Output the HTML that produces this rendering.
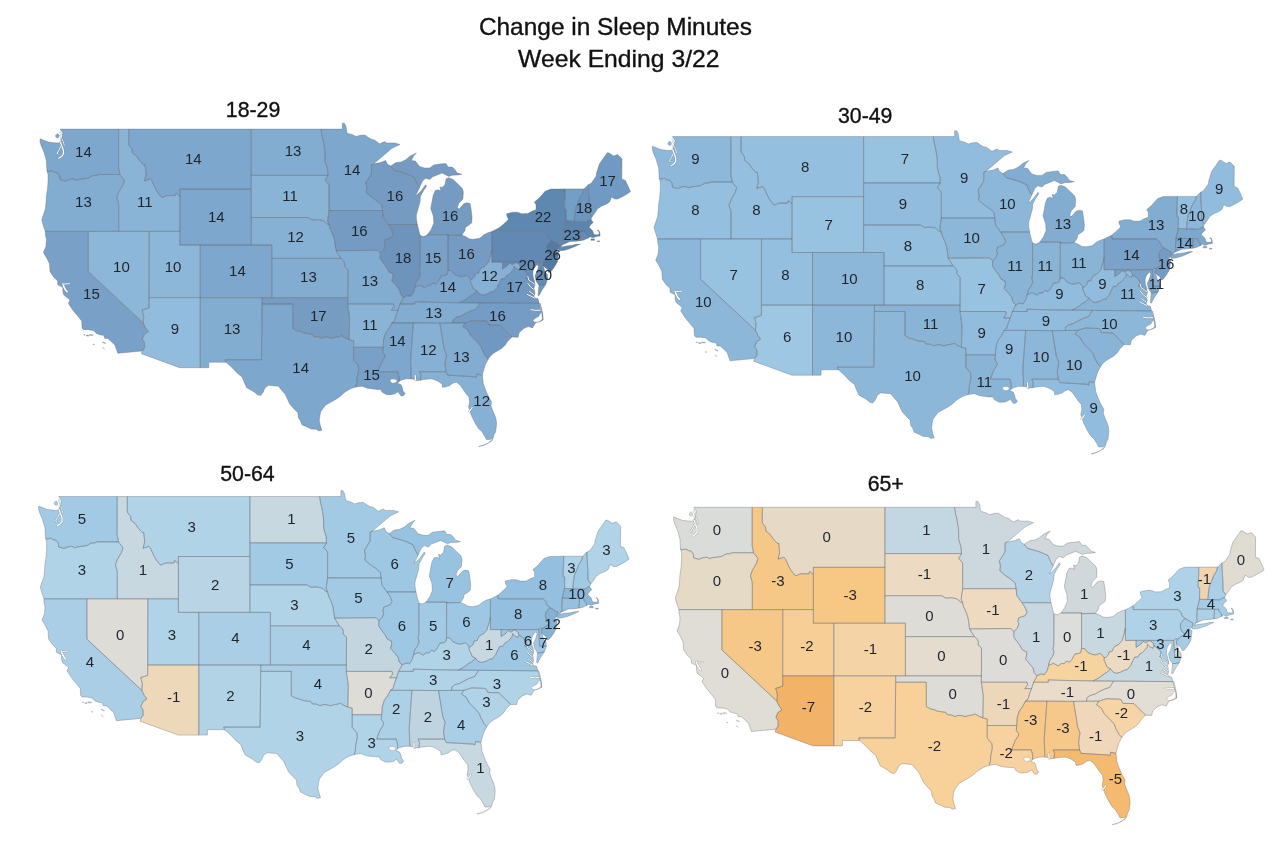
<!DOCTYPE html>
<html><head><meta charset="utf-8"><style>
html,body{margin:0;padding:0;background:#fff;width:1280px;height:852px;overflow:hidden}
svg{display:block;filter:blur(0.4px)}
.lab text{font-family:"Liberation Sans",sans-serif;font-size:15px;fill:#1e242b;text-anchor:middle}
.t{font-family:"Liberation Sans",sans-serif;fill:#111;text-anchor:middle;stroke:#111;stroke-width:0.35px}
</style></head><body>
<svg width="1280" height="852" viewBox="0 0 1280 852">
<text class="t" x="615.4" y="34.6" font-size="24.2" textLength="273" lengthAdjust="spacingAndGlyphs">Change in Sleep Minutes</text>
<text class="t" x="618.8" y="67.3" font-size="24" textLength="201.5" lengthAdjust="spacingAndGlyphs">Week Ending 3/22</text>
<text class="t" x="253.05" y="116.8" font-size="21.3">18-29</text>
<text class="t" x="865.2" y="122.6" font-size="21.3">30-49</text>
<text class="t" x="247.45" y="481" font-size="21.3">50-64</text>
<text class="t" x="885.7" y="491.4" font-size="21.3">65+</text>

<g class="lab">
<path d="M60.1,129.1 118.6,129.1 118.6,168.3 119.5,171.6 119.8,174.5 98.8,174.5 96.0,175.5 92.4,175.7 88.3,178.2 83.2,178.9 78.1,179.6 76.1,180.4 73.0,178.9 68.9,179.6 65.3,181.1 60.2,179.6 59.7,176.0 57.7,173.0 54.6,172.3 52.1,170.8 48.5,171.6 46.9,170.7 46.6,165.6 46.4,161.1 45.9,158.9 43.9,152.1 41.3,146.1 40.0,141.9 40.1,138.7 44.4,140.4 48.5,142.1 53.6,142.7 56.7,143.0 60.2,142.7 61.8,138.4 62.8,133.0 60.1,129.1Z" fill="#7da7cc"/>
<path d="M46.9,170.7 48.5,171.6 52.1,170.8 54.6,172.3 57.7,173.0 59.7,176.0 60.2,179.6 65.3,181.1 68.9,179.6 73.0,178.9 76.1,180.4 78.1,179.6 83.2,178.9 88.3,178.2 92.4,175.7 96.0,175.5 98.8,174.5 119.8,174.5 121.6,176.7 124.3,180.1 123.1,184.7 120.5,189.1 118.5,192.7 116.8,197.7 118.5,203.4 118.7,206.2 118.7,231.4 88.3,231.4 45.3,231.4 43.2,225.2 41.7,219.7 43.4,214.7 45.4,209.1 45.9,203.4 46.4,196.3 47.5,189.1 48.0,181.8 48.0,174.5 46.9,170.7Z" fill="#82acd0"/>
<path d="M45.3,231.4 88.3,231.4 88.3,271.7 143.2,322.9 145.6,327.9 148.3,331.6 144.5,334.1 142.3,339.0 144.5,342.7 144.5,347.9 142.3,351.0 117.8,353.3 116.4,349.4 114.9,345.1 109.8,340.2 107.8,338.5 104.7,338.4 103.7,335.3 100.6,335.1 96.5,333.5 93.4,330.6 88.3,329.7 83.5,329.7 82.0,327.9 81.7,321.0 78.1,316.6 73.0,310.4 68.4,303.4 69.9,300.2 67.9,298.3 63.8,295.1 62.8,291.2 62.8,287.3 57.7,284.8 57.7,280.9 53.6,276.9 50.0,271.7 49.5,263.8 46.9,258.4 43.4,252.6 45.9,246.4 46.4,239.6 45.4,234.8 45.3,231.4Z" fill="#79a1c8"/>
<path d="M88.3,231.4 118.7,231.4 149.2,231.4 149.1,297.6 149.1,307.9 145.6,309.1 142.1,310.1 142.7,312.2 143.8,316.6 143.2,322.9 88.3,271.7 88.3,231.4Z" fill="#8db7d9"/>
<path d="M119.8,174.5 119.5,171.6 118.6,168.3 118.6,129.1 128.7,129.1 128.7,144.8 132.1,149.1 132.3,152.9 136.4,155.9 139.4,160.4 143.7,165.2 145.1,164.9 146.1,174.5 144.5,180.9 150.2,179.0 151.7,180.4 155.3,188.4 157.3,192.0 161.9,197.7 167.0,195.6 175.2,195.6 176.2,193.0 179.8,196.6 179.8,231.4 149.2,231.4 118.7,231.4 118.7,206.2 118.5,203.4 116.8,197.7 118.5,192.7 120.5,189.1 123.1,184.7 124.3,180.1 121.6,176.7 119.8,174.5Z" fill="#8ab4d6"/>
<path d="M128.7,129.1 251.3,129.1 251.3,175.4 251.3,189.1 179.8,189.1 179.8,196.6 176.2,193.0 175.2,195.6 167.0,195.6 161.9,197.7 157.3,192.0 155.3,188.4 151.7,180.4 150.2,179.0 144.5,180.9 146.1,174.5 145.1,164.9 143.7,165.2 139.4,160.4 136.4,155.9 132.3,152.9 132.1,149.1 128.7,144.8 128.7,129.1Z" fill="#7da7cc"/>
<path d="M179.8,196.6 179.8,189.1 251.3,189.1 251.3,217.5 251.3,245.0 200.2,245.0 179.8,245.0 179.8,231.4 179.8,196.6Z" fill="#7da7cc"/>
<path d="M149.2,231.4 179.8,231.4 179.8,245.0 200.2,245.0 200.2,297.6 149.1,297.6 149.2,231.4Z" fill="#8db7d9"/>
<path d="M149.1,297.6 200.2,297.6 200.2,367.7 179.6,367.7 141.4,353.8 142.3,351.0 144.5,347.9 144.5,342.7 142.3,339.0 144.5,334.1 148.3,331.6 145.6,327.9 143.2,322.9 143.8,316.6 142.7,312.2 142.1,310.1 145.6,309.1 149.1,307.9 149.1,297.6Z" fill="#92bcde"/>
<path d="M200.2,245.0 251.3,245.0 271.8,245.0 271.8,258.4 271.8,297.6 262.1,297.6 200.2,297.6 200.2,245.0Z" fill="#7da7cc"/>
<path d="M200.2,297.6 262.1,297.6 262.1,304.0 261.5,359.7 225.1,359.7 226.0,362.3 208.8,362.3 208.8,367.7 200.2,367.7 200.2,297.6Z" fill="#82acd0"/>
<path d="M251.3,129.1 321.0,129.1 321.9,135.3 323.4,141.5 324.9,150.6 325.1,161.1 327.5,169.3 327.9,175.4 251.3,175.4 251.3,129.1Z" fill="#82acd0"/>
<path d="M251.3,175.4 327.9,175.4 325.0,180.4 327.5,182.6 329.0,184.7 329.0,210.5 327.5,221.0 329.0,224.6 327.0,223.8 323.4,220.7 318.3,219.6 312.2,219.9 308.1,217.5 251.3,217.5 251.3,189.1 251.3,175.4Z" fill="#8ab4d6"/>
<path d="M251.3,217.5 308.1,217.5 312.2,219.9 318.3,219.6 323.4,220.7 327.0,223.8 329.0,224.6 330.0,228.6 332.6,234.1 334.4,239.6 335.2,245.0 336.0,250.7 340.7,258.4 271.8,258.4 271.8,245.0 251.3,245.0 251.3,217.5Z" fill="#86b0d4"/>
<path d="M271.8,258.4 340.7,258.4 343.8,261.1 344.9,264.4 344.3,266.4 347.9,269.7 347.8,297.6 271.8,297.6 271.8,258.4Z" fill="#82acd0"/>
<path d="M262.1,297.6 271.8,297.6 347.8,297.6 347.7,304.0 349.7,318.0 349.2,339.7 344.9,337.8 341.8,335.9 338.7,336.8 335.7,337.2 331.6,338.4 327.5,337.2 324.4,337.2 321.4,338.4 318.3,336.8 313.7,336.5 312.2,334.1 307.0,333.5 303.5,332.8 300.9,331.6 296.8,330.6 292.7,328.4 292.7,304.0 262.1,304.0 262.1,297.6Z" fill="#769cc1"/>
<path d="M262.1,304.0 292.7,304.0 292.7,328.4 296.8,330.6 300.9,331.6 303.5,332.8 307.0,333.5 312.2,334.1 313.7,336.5 318.3,336.8 321.4,338.4 324.4,337.2 327.5,337.2 331.6,338.4 335.7,337.2 338.7,336.8 341.8,335.9 344.9,337.8 349.2,339.7 353.6,340.8 353.6,347.3 353.6,359.8 355.9,362.7 358.1,365.1 358.7,369.3 358.1,372.9 357.1,377.6 356.9,382.3 355.7,387.1 350.5,388.8 346.4,391.2 343.8,392.9 340.8,395.9 335.7,399.4 330.6,402.3 325.4,405.2 323.4,408.1 320.8,411.5 319.8,416.1 319.3,420.7 320.3,425.3 321.9,430.3 318.8,431.0 316.2,429.3 311.1,429.0 307.0,427.0 301.9,424.7 300.4,420.7 298.4,417.8 297.8,412.7 294.3,409.2 289.7,404.0 287.6,399.4 285.1,394.1 282.5,391.2 278.4,386.2 272.3,385.7 268.7,385.3 265.1,387.7 263.1,392.3 260.5,395.6 257.5,394.7 253.9,391.8 249.8,389.4 246.7,387.7 244.7,383.5 242.1,377.0 237.6,373.5 231.4,367.0 228.4,364.3 226.0,362.3 225.1,359.7 261.5,359.7 262.1,304.0Z" fill="#7da7cc"/>
<path d="M321.0,129.1 342.3,129.1 342.3,123.2 344.3,123.3 345.9,126.0 346.9,132.2 347.9,133.4 352.0,134.5 356.1,136.5 360.2,135.3 364.8,135.0 368.4,137.6 371.4,139.2 374.5,139.9 379.6,143.8 384.7,141.5 386.8,143.0 394.9,143.0 400.0,144.5 391.9,148.3 384.7,154.4 378.6,159.7 373.5,163.8 371.5,164.7 371.4,173.8 367.3,180.4 365.8,182.6 366.8,187.6 366.3,192.7 371.4,197.0 377.6,201.3 381.7,204.8 382.5,210.5 329.0,210.5 329.0,184.7 327.5,182.6 325.0,180.4 327.9,175.4 327.5,169.3 325.1,161.1 324.9,150.6 323.4,141.5 321.9,135.3 321.0,129.1Z" fill="#7da7cc"/>
<path d="M329.0,210.5 382.5,210.5 383.2,217.5 388.4,224.5 391.9,230.0 393.4,234.1 391.4,237.5 385.2,239.6 384.2,243.0 385.2,245.7 383.7,249.7 380.4,253.4 377.3,250.3 336.0,250.7 335.2,245.0 334.4,239.6 332.6,234.1 330.0,228.6 329.0,224.6 327.5,221.0 329.0,210.5Z" fill="#759bc3"/>
<path d="M336.0,250.7 377.3,250.3 380.4,253.4 380.1,258.4 382.7,262.4 386.3,267.1 388.8,271.7 392.9,273.7 393.1,276.5 391.9,280.9 395.4,284.8 399.5,289.9 400.6,294.4 403.4,297.6 402.1,300.2 400.0,304.0 398.0,310.4 391.2,310.4 394.1,306.6 393.4,304.0 347.7,304.0 347.8,297.6 347.9,269.7 344.3,266.4 344.9,264.4 343.8,261.1 340.7,258.4 336.0,250.7Z" fill="#82acd0"/>
<path d="M347.7,304.0 393.4,304.0 394.1,306.6 391.2,310.4 398.0,310.4 396.0,315.4 394.4,321.0 391.8,322.9 389.3,327.9 385.7,332.8 383.7,339.0 383.1,347.3 353.6,347.3 353.6,340.8 349.2,339.7 349.7,318.0 347.7,304.0Z" fill="#8ab4d6"/>
<path d="M353.6,347.3 383.1,347.3 382.7,352.4 385.2,355.5 384.2,358.5 381.7,362.1 380.6,365.0 379.1,368.7 378.2,371.7 397.7,371.7 399.0,377.0 399.0,381.4 397.5,383.3 401.1,384.7 402.1,387.1 403.1,391.2 405.2,393.5 403.6,395.5 401.1,396.1 398.0,391.8 394.4,394.1 392.9,394.3 390.3,394.7 386.8,394.7 382.2,392.3 380.6,389.4 376.5,389.4 371.4,388.8 367.3,388.2 362.2,386.2 355.7,387.1 356.9,382.3 357.1,377.6 358.1,372.9 358.7,369.3 358.1,365.1 355.9,362.7 353.6,359.8 353.6,347.3Z" fill="#79a1c8"/>
<path d="M382.5,210.5 381.7,204.8 377.6,201.3 371.4,197.0 366.3,192.7 366.8,187.6 365.8,182.6 367.3,180.4 371.4,173.8 371.5,164.7 373.5,163.8 380.6,162.6 385.7,160.4 387.3,164.1 390.6,166.1 393.9,170.1 404.1,173.0 408.2,174.5 414.4,177.4 416.9,183.3 419.5,187.6 417.9,191.2 415.4,195.6 417.9,194.1 421.5,190.5 425.6,184.7 426.6,186.2 423.6,190.5 420.5,196.3 420.0,202.0 418.4,207.7 416.4,214.7 416.4,218.9 417.4,224.5 388.4,224.5 383.2,217.5 382.5,210.5Z" fill="#759bc3"/>
<path d="M388.4,224.5 417.4,224.5 419.0,231.4 420.3,235.5 420.2,267.1 419.5,270.4 420.5,274.3 419.0,278.2 415.9,282.8 414.9,287.3 413.8,291.9 410.8,296.4 407.2,295.7 403.4,297.6 400.6,294.4 399.5,289.9 395.4,284.8 391.9,280.9 393.1,276.5 392.9,273.7 388.8,271.7 386.3,267.1 382.7,262.4 380.1,258.4 380.4,253.4 383.7,249.7 385.2,245.7 384.2,243.0 385.2,239.6 391.4,237.5 393.4,234.1 391.9,230.0 388.4,224.5Z" fill="#6e94bc"/>
<path d="M427.4,234.7 448.0,234.7 448.1,235.5 461.9,235.1 464.9,230.7 465.5,227.2 468.0,225.8 471.6,223.1 472.1,217.5 471.1,209.1 470.1,203.4 466.5,202.7 463.4,204.1 459.3,209.1 457.3,207.7 458.8,203.4 462.9,199.1 463.4,192.0 462.4,188.4 457.8,184.0 453.2,179.6 448.6,177.7 446.0,178.9 445.0,184.7 442.0,187.6 439.9,186.9 440.9,191.2 438.4,189.8 435.3,190.5 433.3,194.8 432.2,200.6 430.7,208.4 433.3,216.1 433.8,223.1 431.2,229.3 427.4,234.7ZM390.6,166.1 396.0,162.6 401.1,161.9 405.7,159.7 410.3,155.9 416.4,152.9 413.3,156.6 411.3,160.4 415.4,161.1 419.5,166.4 424.6,167.9 429.7,167.9 433.8,164.9 439.9,164.1 446.0,163.4 448.1,167.1 452.2,167.1 455.2,170.1 457.3,173.0 461.9,174.2 458.3,174.9 452.2,175.2 448.9,176.4 442.0,173.0 436.8,175.2 432.8,176.7 429.7,179.6 425.6,178.2 422.5,181.1 419.5,187.6 416.9,183.3 414.4,177.4 408.2,174.5 404.1,173.0 393.9,170.1 390.6,166.1Z" fill="#759bc3"/>
<path d="M420.3,235.5 423.6,236.6 427.4,234.7 448.0,234.7 447.9,270.4 447.1,274.3 444.0,275.6 441.4,275.6 438.4,281.1 435.8,284.1 432.8,282.8 430.7,285.4 427.6,285.4 424.6,287.7 419.8,285.1 414.9,287.3 415.9,282.8 419.0,278.2 420.5,274.3 419.5,270.4 420.2,267.1 420.3,235.5Z" fill="#79a1c8"/>
<path d="M448.0,234.7 448.1,235.5 461.9,235.1 466.0,236.8 469.5,238.9 473.6,239.3 479.8,238.2 483.9,234.8 487.9,232.7 491.8,231.6 491.8,249.9 491.0,253.8 489.8,257.6 488.5,262.4 484.9,266.4 481.2,268.1 479.3,271.0 478.7,273.0 475.4,273.8 474.7,276.9 472.1,279.3 470.6,279.4 468.5,276.9 466.5,275.2 462.4,276.7 458.8,276.3 454.2,274.3 451.1,270.4 447.9,270.4 448.0,234.7Z" fill="#759bc3"/>
<path d="M447.9,270.4 451.1,270.4 454.2,274.3 458.8,276.3 462.4,276.7 466.5,275.2 468.5,276.9 470.6,279.4 470.6,282.5 472.4,286.1 473.6,289.0 477.0,290.7 473.1,294.2 469.5,296.4 465.5,299.6 459.5,302.7 446.0,302.5 430.7,302.2 414.7,301.7 414.7,304.0 400.0,304.0 402.1,300.2 403.4,297.6 407.2,295.7 410.8,296.4 413.8,291.9 414.9,287.3 419.8,285.1 424.6,287.7 427.6,285.4 430.7,285.4 432.8,282.8 435.8,284.1 438.4,281.1 441.4,275.6 444.0,275.6 447.1,274.3 447.9,270.4Z" fill="#7da7cc"/>
<path d="M400.0,304.0 414.7,304.0 414.7,301.7 430.7,302.2 446.0,302.5 459.5,302.7 480.0,302.9 477.7,306.6 476.2,309.1 470.6,311.0 465.5,313.5 461.4,315.9 456.3,317.3 453.2,319.8 453.0,323.0 439.9,323.2 413.3,322.9 391.8,322.9 394.4,321.0 396.0,315.4 398.0,310.4 400.0,304.0Z" fill="#82acd0"/>
<path d="M391.8,322.9 413.3,322.9 410.6,360.9 411.3,378.9 406.2,378.8 401.6,380.0 399.0,381.4 399.0,377.0 397.7,371.7 378.2,371.7 379.1,368.7 380.6,365.0 381.7,362.1 384.2,358.5 385.2,355.5 382.7,352.4 383.1,347.3 383.7,339.0 385.7,332.8 389.3,327.9 391.8,322.9Z" fill="#7da7cc"/>
<path d="M413.3,322.9 439.9,323.2 444.2,349.3 446.5,354.8 445.5,359.7 445.0,364.5 446.0,371.7 419.5,371.7 421.0,375.2 420.3,380.2 415.4,380.8 415.9,376.4 414.9,375.8 414.4,379.4 411.3,378.9 410.6,360.9 413.3,322.9Z" fill="#86b0d4"/>
<path d="M439.9,323.2 453.0,323.0 465.4,322.9 462.9,326.6 467.5,329.7 470.6,335.3 474.7,339.6 477.2,342.1 480.8,346.3 482.3,350.6 485.4,356.1 488.2,359.3 485.4,364.5 483.9,369.3 482.3,375.1 477.2,374.0 476.2,377.6 474.7,376.8 447.5,375.1 446.0,371.7 445.0,364.5 445.5,359.7 446.5,354.8 444.2,349.3 439.9,323.2Z" fill="#82acd0"/>
<path d="M420.3,380.2 421.0,375.2 419.5,371.7 446.0,371.7 447.5,375.1 474.7,376.8 476.2,377.6 477.2,374.0 482.3,375.1 482.8,378.8 483.3,383.5 484.9,388.2 486.9,392.9 489.0,397.6 491.5,401.7 491.0,405.7 493.1,411.5 495.1,416.1 496.1,419.6 496.6,424.1 495.6,432.1 494.1,434.4 493.1,438.3 490.0,439.5 486.4,439.5 484.9,436.6 481.8,431.5 478.7,428.7 475.7,424.1 473.6,420.1 471.6,416.1 470.1,411.5 468.5,406.9 469.5,402.3 469.0,397.0 465.5,392.9 462.4,388.2 459.8,384.7 456.3,382.3 453.2,382.9 450.1,385.3 446.0,386.8 442.5,387.3 442.0,384.1 437.9,381.2 433.8,379.4 430.7,378.8 423.6,379.6 420.3,380.2Z" fill="#86b0d4"/>
<path d="M465.4,322.9 468.5,321.9 473.1,320.5 486.4,321.0 487.6,321.7 489.2,325.1 500.4,325.4 512.0,337.0 507.4,341.5 505.3,345.1 501.2,348.8 498.2,350.6 493.1,353.6 490.0,356.7 488.2,359.3 485.4,356.1 482.3,350.6 480.8,346.3 477.2,342.1 474.7,339.6 470.6,335.3 467.5,329.7 462.9,326.6 465.4,322.9Z" fill="#7198c1"/>
<path d="M480.0,302.9 477.7,306.6 476.2,309.1 470.6,311.0 465.5,313.5 461.4,315.9 456.3,317.3 453.2,319.8 453.0,323.0 465.4,322.9 468.5,321.9 473.1,320.5 486.4,321.0 487.6,321.7 489.2,325.1 500.4,325.4 512.0,337.0 518.1,337.2 519.1,332.8 523.7,328.5 528.3,326.6 532.6,327.9 535.0,323.5 540.1,320.4 543.1,319.8 542.6,315.4 540.6,309.1 539.3,303.4 480.0,302.9Z" fill="#759cc4"/>
<path d="M459.5,302.7 465.5,299.6 469.5,296.4 473.1,294.2 477.0,290.7 479.3,293.8 482.8,295.1 486.9,294.0 491.0,291.9 494.1,291.2 495.1,289.7 497.1,287.3 498.7,283.5 501.2,278.9 504.3,278.9 506.3,275.6 508.9,274.3 511.4,271.7 513.5,269.1 514.0,266.2 517.1,269.1 519.3,270.0 520.3,267.5 522.7,269.1 525.2,271.0 527.3,273.7 527.3,276.9 525.8,278.2 527.8,279.6 531.9,282.2 535.0,284.8 533.9,288.6 535.0,293.1 533.9,296.4 535.0,298.3 538.0,298.7 539.3,303.4 480.0,302.9 459.5,302.7ZM539.0,285.4 541.6,285.3 545.8,284.4 542.1,289.9 539.0,295.7 538.0,295.1 539.0,285.4Z" fill="#7198c1"/>
<path d="M470.6,279.4 472.1,279.3 474.7,276.9 475.4,273.8 478.7,273.0 479.3,271.0 481.2,268.1 484.9,266.4 488.5,262.4 489.8,257.6 491.0,253.8 491.8,249.9 491.8,262.2 502.5,262.2 502.5,269.1 507.4,265.8 509.7,263.1 512.5,264.8 515.7,262.4 518.1,263.8 519.6,265.1 520.3,267.5 519.3,270.0 517.1,269.1 514.0,266.2 513.5,269.1 511.4,271.7 508.9,274.3 506.3,275.6 504.3,278.9 501.2,278.9 498.7,283.5 497.1,287.3 495.1,289.7 494.1,291.2 491.0,291.9 486.9,294.0 482.8,295.1 479.3,293.8 477.0,290.7 473.6,289.0 472.4,286.1 470.6,282.5 470.6,279.4Z" fill="#87b1d4"/>
<path d="M502.5,262.2 540.2,262.2 541.1,278.8 547.7,278.8 545.8,284.4 541.6,285.3 539.0,285.4 536.0,280.9 535.0,275.6 537.0,271.7 538.5,266.4 537.0,264.4 533.9,268.4 532.9,271.7 532.9,275.6 534.4,280.9 535.0,284.8 531.9,282.2 527.8,279.6 525.8,278.2 527.3,276.9 527.3,273.7 525.2,271.0 522.7,269.1 520.3,267.5 519.6,265.1 518.1,263.8 515.7,262.4 512.5,264.8 509.7,263.1 507.4,265.8 502.5,269.1 502.5,262.2Z" fill="#648cb6"/>
<path d="M540.2,262.2 542.1,260.6 543.9,261.1 542.6,263.8 543.1,265.8 544.2,269.1 545.2,272.4 547.4,274.6 547.7,278.8 541.1,278.8 540.2,262.2Z" fill="#648cb6"/>
<path d="M491.8,231.6 499.6,227.6 499.6,231.4 544.6,231.4 547.2,234.1 548.7,238.2 551.3,240.1 547.2,245.0 546.7,248.4 547.7,252.4 550.8,255.8 548.7,257.8 546.7,259.1 543.9,261.1 542.1,260.6 540.2,262.2 502.5,262.2 491.8,262.2 491.8,249.9 491.8,231.6Z" fill="#6189b4"/>
<path d="M543.9,261.1 546.7,259.1 548.7,257.8 550.8,255.8 547.7,252.4 546.7,248.4 547.2,245.0 551.3,240.1 559.5,245.0 558.3,249.1 555.9,251.1 558.5,252.4 557.9,257.1 557.4,261.8 554.4,267.1 550.8,271.7 548.7,272.6 547.2,269.1 545.2,267.7 543.1,265.8 542.6,263.8 543.9,261.1Z" fill="#527aa2"/>
<path d="M499.6,227.6 506.3,221.7 508.4,219.2 506.8,216.1 506.7,213.7 512.5,212.3 517.6,212.3 521.7,213.7 527.8,213.6 531.9,211.2 536.0,209.8 536.0,204.8 534.4,202.0 538.0,199.1 540.1,197.0 545.2,191.2 550.8,189.1 565.1,188.9 565.1,196.3 564.6,203.4 564.6,209.1 566.1,209.6 566.0,221.0 563.6,230.7 563.1,240.9 563.8,242.3 561.9,245.0 561.5,246.8 560.7,247.7 563.6,246.4 568.7,245.7 572.3,245.3 575.8,244.3 580.3,244.1 573.8,247.0 568.7,249.1 563.6,250.4 559.0,250.8 558.3,249.1 559.5,245.0 551.3,240.1 548.7,238.2 547.2,234.1 544.6,231.4 499.6,231.4 499.6,227.6Z" fill="#5f88b1"/>
<path d="M563.6,230.7 580.9,231.1 580.4,240.7 575.8,241.3 569.7,241.6 566.6,243.0 561.9,245.0 563.8,242.3 563.1,240.9 563.6,230.7Z" fill="#5f87af"/>
<path d="M580.9,231.1 585.2,231.1 585.2,232.7 587.8,236.2 587.9,238.2 586.1,238.9 584.0,240.0 580.4,240.7 580.9,231.1Z" fill="#648cb4"/>
<path d="M566.0,221.0 574.2,221.3 586.1,221.7 588.6,220.0 591.0,219.3 593.2,222.4 590.1,225.2 589.1,227.2 592.7,230.7 593.2,232.7 594.2,234.7 598.3,234.8 599.3,233.4 598.8,231.4 597.3,230.4 598.8,230.5 599.8,232.7 600.1,235.9 596.3,236.6 592.7,237.8 590.1,236.8 587.9,238.2 587.8,236.2 585.2,232.7 585.2,231.1 580.9,231.1 563.6,230.7 566.0,221.0ZM590.9,240.3 594.7,240.3 594.2,238.9 591.2,238.8 590.9,240.3ZM596.8,241.6 599.8,241.6 599.3,240.7 597.3,240.9 596.8,241.6Z" fill="#5c84ac"/>
<path d="M565.1,188.9 584.0,188.9 583.0,192.7 579.9,197.7 578.4,202.0 575.8,207.7 574.8,214.7 574.2,221.3 566.0,221.0 566.1,209.6 564.6,209.1 564.6,203.4 565.1,196.3 565.1,188.9Z" fill="#739ec6"/>
<path d="M584.0,188.9 588.3,184.7 588.8,196.3 589.3,203.4 589.4,212.6 592.2,216.5 591.0,219.3 588.6,220.0 586.1,221.7 574.2,221.3 574.8,214.7 575.8,207.7 578.4,202.0 579.9,197.7 583.0,192.7 584.0,188.9Z" fill="#6c96c0"/>
<path d="M592.2,216.5 595.3,212.6 597.3,209.1 601.4,206.2 606.5,204.1 609.6,202.0 611.6,197.0 614.7,199.1 617.7,199.1 621.8,197.0 625.9,194.8 630.0,192.0 630.5,191.7 628.5,186.9 625.4,180.4 621.8,178.9 622.0,158.8 617.7,154.4 613.6,155.9 609.0,152.9 607.2,152.7 599.3,164.1 596.3,173.8 596.3,176.0 591.2,183.3 588.3,184.7 588.8,196.3 589.3,203.4 589.4,212.6 592.2,216.5Z" fill="#709ac3"/>
<path d="M55.6,135.0 57.7,133.4 59.2,135.3 58.9,137.6 57.2,138.1 55.6,136.9 55.6,135.0Z" fill="#7da7cc" stroke="rgba(95,100,108,0.34)" stroke-width="0.6"/>
<path d="M89.2,334.4 93.2,334.7 92.9,335.6 89.6,335.6 89.2,334.4Z" fill="#79a1c8" stroke="rgba(95,100,108,0.34)" stroke-width="0.6"/>
<path d="M86.3,335.1 88.5,335.1 88.5,336.3 86.3,336.0 86.3,335.1Z" fill="#79a1c8" stroke="rgba(95,100,108,0.34)" stroke-width="0.6"/>
<path d="M83.7,334.6 85.1,334.6 85.1,335.3 83.7,335.1 83.7,334.6Z" fill="#79a1c8" stroke="rgba(95,100,108,0.34)" stroke-width="0.6"/>
<path d="M102.6,341.7 105.7,342.9 105.5,343.7 102.6,342.4 102.6,341.7Z" fill="#79a1c8" stroke="rgba(95,100,108,0.34)" stroke-width="0.6"/>
<path d="M102.6,347.2 104.2,349.0 104.7,349.4 103.2,347.6 102.6,347.2Z" fill="#79a1c8" stroke="rgba(95,100,108,0.34)" stroke-width="0.6"/>
<path d="M92.9,344.1 94.3,344.4 94.3,344.9 92.9,344.6 92.9,344.1Z" fill="#79a1c8" stroke="rgba(95,100,108,0.34)" stroke-width="0.6"/>
<path d="M492.5,438.9 491.0,440.6 487.9,442.9 483.9,444.8 478.7,446.2 478.7,446.8 483.9,445.4 487.9,443.4 491.5,441.2 493.1,439.1 492.5,438.9Z" fill="#86b0d4" stroke="rgba(95,100,108,0.34)" stroke-width="0.6"/>
<path d="M538.0,321.9 541.8,320.0 542.5,319.2 542.1,313.5 540.9,307.8 539.8,303.4 540.3,303.4 541.5,307.8 542.8,313.5 543.2,319.8 542.1,320.7 538.0,322.5 538.0,321.9Z" fill="#759cc4" stroke="rgba(95,100,108,0.34)" stroke-width="0.6"/>
<path d="M60.1,129.1 118.6,129.1 118.6,168.3 119.5,171.6 119.8,174.5 98.8,174.5 96.0,175.5 92.4,175.7 88.3,178.2 83.2,178.9 78.1,179.6 76.1,180.4 73.0,178.9 68.9,179.6 65.3,181.1 60.2,179.6 59.7,176.0 57.7,173.0 54.6,172.3 52.1,170.8 48.5,171.6 46.9,170.7 46.6,165.6 46.4,161.1 45.9,158.9 43.9,152.1 41.3,146.1 40.0,141.9 40.1,138.7 44.4,140.4 48.5,142.1 53.6,142.7 56.7,143.0 60.2,142.7 61.8,138.4 62.8,133.0 60.1,129.1ZM46.9,170.7 48.5,171.6 52.1,170.8 54.6,172.3 57.7,173.0 59.7,176.0 60.2,179.6 65.3,181.1 68.9,179.6 73.0,178.9 76.1,180.4 78.1,179.6 83.2,178.9 88.3,178.2 92.4,175.7 96.0,175.5 98.8,174.5 119.8,174.5 121.6,176.7 124.3,180.1 123.1,184.7 120.5,189.1 118.5,192.7 116.8,197.7 118.5,203.4 118.7,206.2 118.7,231.4 88.3,231.4 45.3,231.4 43.2,225.2 41.7,219.7 43.4,214.7 45.4,209.1 45.9,203.4 46.4,196.3 47.5,189.1 48.0,181.8 48.0,174.5 46.9,170.7ZM45.3,231.4 88.3,231.4 88.3,271.7 143.2,322.9 145.6,327.9 148.3,331.6 144.5,334.1 142.3,339.0 144.5,342.7 144.5,347.9 142.3,351.0 117.8,353.3 116.4,349.4 114.9,345.1 109.8,340.2 107.8,338.5 104.7,338.4 103.7,335.3 100.6,335.1 96.5,333.5 93.4,330.6 88.3,329.7 83.5,329.7 82.0,327.9 81.7,321.0 78.1,316.6 73.0,310.4 68.4,303.4 69.9,300.2 67.9,298.3 63.8,295.1 62.8,291.2 62.8,287.3 57.7,284.8 57.7,280.9 53.6,276.9 50.0,271.7 49.5,263.8 46.9,258.4 43.4,252.6 45.9,246.4 46.4,239.6 45.4,234.8 45.3,231.4ZM88.3,231.4 118.7,231.4 149.2,231.4 149.1,297.6 149.1,307.9 145.6,309.1 142.1,310.1 142.7,312.2 143.8,316.6 143.2,322.9 88.3,271.7 88.3,231.4ZM119.8,174.5 119.5,171.6 118.6,168.3 118.6,129.1 128.7,129.1 128.7,144.8 132.1,149.1 132.3,152.9 136.4,155.9 139.4,160.4 143.7,165.2 145.1,164.9 146.1,174.5 144.5,180.9 150.2,179.0 151.7,180.4 155.3,188.4 157.3,192.0 161.9,197.7 167.0,195.6 175.2,195.6 176.2,193.0 179.8,196.6 179.8,231.4 149.2,231.4 118.7,231.4 118.7,206.2 118.5,203.4 116.8,197.7 118.5,192.7 120.5,189.1 123.1,184.7 124.3,180.1 121.6,176.7 119.8,174.5ZM128.7,129.1 251.3,129.1 251.3,175.4 251.3,189.1 179.8,189.1 179.8,196.6 176.2,193.0 175.2,195.6 167.0,195.6 161.9,197.7 157.3,192.0 155.3,188.4 151.7,180.4 150.2,179.0 144.5,180.9 146.1,174.5 145.1,164.9 143.7,165.2 139.4,160.4 136.4,155.9 132.3,152.9 132.1,149.1 128.7,144.8 128.7,129.1ZM179.8,196.6 179.8,189.1 251.3,189.1 251.3,217.5 251.3,245.0 200.2,245.0 179.8,245.0 179.8,231.4 179.8,196.6ZM149.2,231.4 179.8,231.4 179.8,245.0 200.2,245.0 200.2,297.6 149.1,297.6 149.2,231.4ZM149.1,297.6 200.2,297.6 200.2,367.7 179.6,367.7 141.4,353.8 142.3,351.0 144.5,347.9 144.5,342.7 142.3,339.0 144.5,334.1 148.3,331.6 145.6,327.9 143.2,322.9 143.8,316.6 142.7,312.2 142.1,310.1 145.6,309.1 149.1,307.9 149.1,297.6ZM200.2,245.0 251.3,245.0 271.8,245.0 271.8,258.4 271.8,297.6 262.1,297.6 200.2,297.6 200.2,245.0ZM200.2,297.6 262.1,297.6 262.1,304.0 261.5,359.7 225.1,359.7 226.0,362.3 208.8,362.3 208.8,367.7 200.2,367.7 200.2,297.6ZM251.3,129.1 321.0,129.1 321.9,135.3 323.4,141.5 324.9,150.6 325.1,161.1 327.5,169.3 327.9,175.4 251.3,175.4 251.3,129.1ZM251.3,175.4 327.9,175.4 325.0,180.4 327.5,182.6 329.0,184.7 329.0,210.5 327.5,221.0 329.0,224.6 327.0,223.8 323.4,220.7 318.3,219.6 312.2,219.9 308.1,217.5 251.3,217.5 251.3,189.1 251.3,175.4ZM251.3,217.5 308.1,217.5 312.2,219.9 318.3,219.6 323.4,220.7 327.0,223.8 329.0,224.6 330.0,228.6 332.6,234.1 334.4,239.6 335.2,245.0 336.0,250.7 340.7,258.4 271.8,258.4 271.8,245.0 251.3,245.0 251.3,217.5ZM271.8,258.4 340.7,258.4 343.8,261.1 344.9,264.4 344.3,266.4 347.9,269.7 347.8,297.6 271.8,297.6 271.8,258.4ZM262.1,297.6 271.8,297.6 347.8,297.6 347.7,304.0 349.7,318.0 349.2,339.7 344.9,337.8 341.8,335.9 338.7,336.8 335.7,337.2 331.6,338.4 327.5,337.2 324.4,337.2 321.4,338.4 318.3,336.8 313.7,336.5 312.2,334.1 307.0,333.5 303.5,332.8 300.9,331.6 296.8,330.6 292.7,328.4 292.7,304.0 262.1,304.0 262.1,297.6ZM262.1,304.0 292.7,304.0 292.7,328.4 296.8,330.6 300.9,331.6 303.5,332.8 307.0,333.5 312.2,334.1 313.7,336.5 318.3,336.8 321.4,338.4 324.4,337.2 327.5,337.2 331.6,338.4 335.7,337.2 338.7,336.8 341.8,335.9 344.9,337.8 349.2,339.7 353.6,340.8 353.6,347.3 353.6,359.8 355.9,362.7 358.1,365.1 358.7,369.3 358.1,372.9 357.1,377.6 356.9,382.3 355.7,387.1 350.5,388.8 346.4,391.2 343.8,392.9 340.8,395.9 335.7,399.4 330.6,402.3 325.4,405.2 323.4,408.1 320.8,411.5 319.8,416.1 319.3,420.7 320.3,425.3 321.9,430.3 318.8,431.0 316.2,429.3 311.1,429.0 307.0,427.0 301.9,424.7 300.4,420.7 298.4,417.8 297.8,412.7 294.3,409.2 289.7,404.0 287.6,399.4 285.1,394.1 282.5,391.2 278.4,386.2 272.3,385.7 268.7,385.3 265.1,387.7 263.1,392.3 260.5,395.6 257.5,394.7 253.9,391.8 249.8,389.4 246.7,387.7 244.7,383.5 242.1,377.0 237.6,373.5 231.4,367.0 228.4,364.3 226.0,362.3 225.1,359.7 261.5,359.7 262.1,304.0ZM321.0,129.1 342.3,129.1 342.3,123.2 344.3,123.3 345.9,126.0 346.9,132.2 347.9,133.4 352.0,134.5 356.1,136.5 360.2,135.3 364.8,135.0 368.4,137.6 371.4,139.2 374.5,139.9 379.6,143.8 384.7,141.5 386.8,143.0 394.9,143.0 400.0,144.5 391.9,148.3 384.7,154.4 378.6,159.7 373.5,163.8 371.5,164.7 371.4,173.8 367.3,180.4 365.8,182.6 366.8,187.6 366.3,192.7 371.4,197.0 377.6,201.3 381.7,204.8 382.5,210.5 329.0,210.5 329.0,184.7 327.5,182.6 325.0,180.4 327.9,175.4 327.5,169.3 325.1,161.1 324.9,150.6 323.4,141.5 321.9,135.3 321.0,129.1ZM329.0,210.5 382.5,210.5 383.2,217.5 388.4,224.5 391.9,230.0 393.4,234.1 391.4,237.5 385.2,239.6 384.2,243.0 385.2,245.7 383.7,249.7 380.4,253.4 377.3,250.3 336.0,250.7 335.2,245.0 334.4,239.6 332.6,234.1 330.0,228.6 329.0,224.6 327.5,221.0 329.0,210.5ZM336.0,250.7 377.3,250.3 380.4,253.4 380.1,258.4 382.7,262.4 386.3,267.1 388.8,271.7 392.9,273.7 393.1,276.5 391.9,280.9 395.4,284.8 399.5,289.9 400.6,294.4 403.4,297.6 402.1,300.2 400.0,304.0 398.0,310.4 391.2,310.4 394.1,306.6 393.4,304.0 347.7,304.0 347.8,297.6 347.9,269.7 344.3,266.4 344.9,264.4 343.8,261.1 340.7,258.4 336.0,250.7ZM347.7,304.0 393.4,304.0 394.1,306.6 391.2,310.4 398.0,310.4 396.0,315.4 394.4,321.0 391.8,322.9 389.3,327.9 385.7,332.8 383.7,339.0 383.1,347.3 353.6,347.3 353.6,340.8 349.2,339.7 349.7,318.0 347.7,304.0ZM353.6,347.3 383.1,347.3 382.7,352.4 385.2,355.5 384.2,358.5 381.7,362.1 380.6,365.0 379.1,368.7 378.2,371.7 397.7,371.7 399.0,377.0 399.0,381.4 397.5,383.3 401.1,384.7 402.1,387.1 403.1,391.2 405.2,393.5 403.6,395.5 401.1,396.1 398.0,391.8 394.4,394.1 392.9,394.3 390.3,394.7 386.8,394.7 382.2,392.3 380.6,389.4 376.5,389.4 371.4,388.8 367.3,388.2 362.2,386.2 355.7,387.1 356.9,382.3 357.1,377.6 358.1,372.9 358.7,369.3 358.1,365.1 355.9,362.7 353.6,359.8 353.6,347.3ZM382.5,210.5 381.7,204.8 377.6,201.3 371.4,197.0 366.3,192.7 366.8,187.6 365.8,182.6 367.3,180.4 371.4,173.8 371.5,164.7 373.5,163.8 380.6,162.6 385.7,160.4 387.3,164.1 390.6,166.1 393.9,170.1 404.1,173.0 408.2,174.5 414.4,177.4 416.9,183.3 419.5,187.6 417.9,191.2 415.4,195.6 417.9,194.1 421.5,190.5 425.6,184.7 426.6,186.2 423.6,190.5 420.5,196.3 420.0,202.0 418.4,207.7 416.4,214.7 416.4,218.9 417.4,224.5 388.4,224.5 383.2,217.5 382.5,210.5ZM388.4,224.5 417.4,224.5 419.0,231.4 420.3,235.5 420.2,267.1 419.5,270.4 420.5,274.3 419.0,278.2 415.9,282.8 414.9,287.3 413.8,291.9 410.8,296.4 407.2,295.7 403.4,297.6 400.6,294.4 399.5,289.9 395.4,284.8 391.9,280.9 393.1,276.5 392.9,273.7 388.8,271.7 386.3,267.1 382.7,262.4 380.1,258.4 380.4,253.4 383.7,249.7 385.2,245.7 384.2,243.0 385.2,239.6 391.4,237.5 393.4,234.1 391.9,230.0 388.4,224.5ZM427.4,234.7 448.0,234.7 448.1,235.5 461.9,235.1 464.9,230.7 465.5,227.2 468.0,225.8 471.6,223.1 472.1,217.5 471.1,209.1 470.1,203.4 466.5,202.7 463.4,204.1 459.3,209.1 457.3,207.7 458.8,203.4 462.9,199.1 463.4,192.0 462.4,188.4 457.8,184.0 453.2,179.6 448.6,177.7 446.0,178.9 445.0,184.7 442.0,187.6 439.9,186.9 440.9,191.2 438.4,189.8 435.3,190.5 433.3,194.8 432.2,200.6 430.7,208.4 433.3,216.1 433.8,223.1 431.2,229.3 427.4,234.7ZM390.6,166.1 396.0,162.6 401.1,161.9 405.7,159.7 410.3,155.9 416.4,152.9 413.3,156.6 411.3,160.4 415.4,161.1 419.5,166.4 424.6,167.9 429.7,167.9 433.8,164.9 439.9,164.1 446.0,163.4 448.1,167.1 452.2,167.1 455.2,170.1 457.3,173.0 461.9,174.2 458.3,174.9 452.2,175.2 448.9,176.4 442.0,173.0 436.8,175.2 432.8,176.7 429.7,179.6 425.6,178.2 422.5,181.1 419.5,187.6 416.9,183.3 414.4,177.4 408.2,174.5 404.1,173.0 393.9,170.1 390.6,166.1ZM420.3,235.5 423.6,236.6 427.4,234.7 448.0,234.7 447.9,270.4 447.1,274.3 444.0,275.6 441.4,275.6 438.4,281.1 435.8,284.1 432.8,282.8 430.7,285.4 427.6,285.4 424.6,287.7 419.8,285.1 414.9,287.3 415.9,282.8 419.0,278.2 420.5,274.3 419.5,270.4 420.2,267.1 420.3,235.5ZM448.0,234.7 448.1,235.5 461.9,235.1 466.0,236.8 469.5,238.9 473.6,239.3 479.8,238.2 483.9,234.8 487.9,232.7 491.8,231.6 491.8,249.9 491.0,253.8 489.8,257.6 488.5,262.4 484.9,266.4 481.2,268.1 479.3,271.0 478.7,273.0 475.4,273.8 474.7,276.9 472.1,279.3 470.6,279.4 468.5,276.9 466.5,275.2 462.4,276.7 458.8,276.3 454.2,274.3 451.1,270.4 447.9,270.4 448.0,234.7ZM447.9,270.4 451.1,270.4 454.2,274.3 458.8,276.3 462.4,276.7 466.5,275.2 468.5,276.9 470.6,279.4 470.6,282.5 472.4,286.1 473.6,289.0 477.0,290.7 473.1,294.2 469.5,296.4 465.5,299.6 459.5,302.7 446.0,302.5 430.7,302.2 414.7,301.7 414.7,304.0 400.0,304.0 402.1,300.2 403.4,297.6 407.2,295.7 410.8,296.4 413.8,291.9 414.9,287.3 419.8,285.1 424.6,287.7 427.6,285.4 430.7,285.4 432.8,282.8 435.8,284.1 438.4,281.1 441.4,275.6 444.0,275.6 447.1,274.3 447.9,270.4ZM400.0,304.0 414.7,304.0 414.7,301.7 430.7,302.2 446.0,302.5 459.5,302.7 480.0,302.9 477.7,306.6 476.2,309.1 470.6,311.0 465.5,313.5 461.4,315.9 456.3,317.3 453.2,319.8 453.0,323.0 439.9,323.2 413.3,322.9 391.8,322.9 394.4,321.0 396.0,315.4 398.0,310.4 400.0,304.0ZM391.8,322.9 413.3,322.9 410.6,360.9 411.3,378.9 406.2,378.8 401.6,380.0 399.0,381.4 399.0,377.0 397.7,371.7 378.2,371.7 379.1,368.7 380.6,365.0 381.7,362.1 384.2,358.5 385.2,355.5 382.7,352.4 383.1,347.3 383.7,339.0 385.7,332.8 389.3,327.9 391.8,322.9ZM413.3,322.9 439.9,323.2 444.2,349.3 446.5,354.8 445.5,359.7 445.0,364.5 446.0,371.7 419.5,371.7 421.0,375.2 420.3,380.2 415.4,380.8 415.9,376.4 414.9,375.8 414.4,379.4 411.3,378.9 410.6,360.9 413.3,322.9ZM439.9,323.2 453.0,323.0 465.4,322.9 462.9,326.6 467.5,329.7 470.6,335.3 474.7,339.6 477.2,342.1 480.8,346.3 482.3,350.6 485.4,356.1 488.2,359.3 485.4,364.5 483.9,369.3 482.3,375.1 477.2,374.0 476.2,377.6 474.7,376.8 447.5,375.1 446.0,371.7 445.0,364.5 445.5,359.7 446.5,354.8 444.2,349.3 439.9,323.2ZM420.3,380.2 421.0,375.2 419.5,371.7 446.0,371.7 447.5,375.1 474.7,376.8 476.2,377.6 477.2,374.0 482.3,375.1 482.8,378.8 483.3,383.5 484.9,388.2 486.9,392.9 489.0,397.6 491.5,401.7 491.0,405.7 493.1,411.5 495.1,416.1 496.1,419.6 496.6,424.1 495.6,432.1 494.1,434.4 493.1,438.3 490.0,439.5 486.4,439.5 484.9,436.6 481.8,431.5 478.7,428.7 475.7,424.1 473.6,420.1 471.6,416.1 470.1,411.5 468.5,406.9 469.5,402.3 469.0,397.0 465.5,392.9 462.4,388.2 459.8,384.7 456.3,382.3 453.2,382.9 450.1,385.3 446.0,386.8 442.5,387.3 442.0,384.1 437.9,381.2 433.8,379.4 430.7,378.8 423.6,379.6 420.3,380.2ZM465.4,322.9 468.5,321.9 473.1,320.5 486.4,321.0 487.6,321.7 489.2,325.1 500.4,325.4 512.0,337.0 507.4,341.5 505.3,345.1 501.2,348.8 498.2,350.6 493.1,353.6 490.0,356.7 488.2,359.3 485.4,356.1 482.3,350.6 480.8,346.3 477.2,342.1 474.7,339.6 470.6,335.3 467.5,329.7 462.9,326.6 465.4,322.9ZM480.0,302.9 477.7,306.6 476.2,309.1 470.6,311.0 465.5,313.5 461.4,315.9 456.3,317.3 453.2,319.8 453.0,323.0 465.4,322.9 468.5,321.9 473.1,320.5 486.4,321.0 487.6,321.7 489.2,325.1 500.4,325.4 512.0,337.0 518.1,337.2 519.1,332.8 523.7,328.5 528.3,326.6 532.6,327.9 535.0,323.5 540.1,320.4 543.1,319.8 542.6,315.4 540.6,309.1 539.3,303.4 480.0,302.9ZM459.5,302.7 465.5,299.6 469.5,296.4 473.1,294.2 477.0,290.7 479.3,293.8 482.8,295.1 486.9,294.0 491.0,291.9 494.1,291.2 495.1,289.7 497.1,287.3 498.7,283.5 501.2,278.9 504.3,278.9 506.3,275.6 508.9,274.3 511.4,271.7 513.5,269.1 514.0,266.2 517.1,269.1 519.3,270.0 520.3,267.5 522.7,269.1 525.2,271.0 527.3,273.7 527.3,276.9 525.8,278.2 527.8,279.6 531.9,282.2 535.0,284.8 533.9,288.6 535.0,293.1 533.9,296.4 535.0,298.3 538.0,298.7 539.3,303.4 480.0,302.9 459.5,302.7ZM539.0,285.4 541.6,285.3 545.8,284.4 542.1,289.9 539.0,295.7 538.0,295.1 539.0,285.4ZM470.6,279.4 472.1,279.3 474.7,276.9 475.4,273.8 478.7,273.0 479.3,271.0 481.2,268.1 484.9,266.4 488.5,262.4 489.8,257.6 491.0,253.8 491.8,249.9 491.8,262.2 502.5,262.2 502.5,269.1 507.4,265.8 509.7,263.1 512.5,264.8 515.7,262.4 518.1,263.8 519.6,265.1 520.3,267.5 519.3,270.0 517.1,269.1 514.0,266.2 513.5,269.1 511.4,271.7 508.9,274.3 506.3,275.6 504.3,278.9 501.2,278.9 498.7,283.5 497.1,287.3 495.1,289.7 494.1,291.2 491.0,291.9 486.9,294.0 482.8,295.1 479.3,293.8 477.0,290.7 473.6,289.0 472.4,286.1 470.6,282.5 470.6,279.4ZM502.5,262.2 540.2,262.2 541.1,278.8 547.7,278.8 545.8,284.4 541.6,285.3 539.0,285.4 536.0,280.9 535.0,275.6 537.0,271.7 538.5,266.4 537.0,264.4 533.9,268.4 532.9,271.7 532.9,275.6 534.4,280.9 535.0,284.8 531.9,282.2 527.8,279.6 525.8,278.2 527.3,276.9 527.3,273.7 525.2,271.0 522.7,269.1 520.3,267.5 519.6,265.1 518.1,263.8 515.7,262.4 512.5,264.8 509.7,263.1 507.4,265.8 502.5,269.1 502.5,262.2ZM540.2,262.2 542.1,260.6 543.9,261.1 542.6,263.8 543.1,265.8 544.2,269.1 545.2,272.4 547.4,274.6 547.7,278.8 541.1,278.8 540.2,262.2ZM491.8,231.6 499.6,227.6 499.6,231.4 544.6,231.4 547.2,234.1 548.7,238.2 551.3,240.1 547.2,245.0 546.7,248.4 547.7,252.4 550.8,255.8 548.7,257.8 546.7,259.1 543.9,261.1 542.1,260.6 540.2,262.2 502.5,262.2 491.8,262.2 491.8,249.9 491.8,231.6ZM543.9,261.1 546.7,259.1 548.7,257.8 550.8,255.8 547.7,252.4 546.7,248.4 547.2,245.0 551.3,240.1 559.5,245.0 558.3,249.1 555.9,251.1 558.5,252.4 557.9,257.1 557.4,261.8 554.4,267.1 550.8,271.7 548.7,272.6 547.2,269.1 545.2,267.7 543.1,265.8 542.6,263.8 543.9,261.1ZM499.6,227.6 506.3,221.7 508.4,219.2 506.8,216.1 506.7,213.7 512.5,212.3 517.6,212.3 521.7,213.7 527.8,213.6 531.9,211.2 536.0,209.8 536.0,204.8 534.4,202.0 538.0,199.1 540.1,197.0 545.2,191.2 550.8,189.1 565.1,188.9 565.1,196.3 564.6,203.4 564.6,209.1 566.1,209.6 566.0,221.0 563.6,230.7 563.1,240.9 563.8,242.3 561.9,245.0 561.5,246.8 560.7,247.7 563.6,246.4 568.7,245.7 572.3,245.3 575.8,244.3 580.3,244.1 573.8,247.0 568.7,249.1 563.6,250.4 559.0,250.8 558.3,249.1 559.5,245.0 551.3,240.1 548.7,238.2 547.2,234.1 544.6,231.4 499.6,231.4 499.6,227.6ZM563.6,230.7 580.9,231.1 580.4,240.7 575.8,241.3 569.7,241.6 566.6,243.0 561.9,245.0 563.8,242.3 563.1,240.9 563.6,230.7ZM580.9,231.1 585.2,231.1 585.2,232.7 587.8,236.2 587.9,238.2 586.1,238.9 584.0,240.0 580.4,240.7 580.9,231.1ZM566.0,221.0 574.2,221.3 586.1,221.7 588.6,220.0 591.0,219.3 593.2,222.4 590.1,225.2 589.1,227.2 592.7,230.7 593.2,232.7 594.2,234.7 598.3,234.8 599.3,233.4 598.8,231.4 597.3,230.4 598.8,230.5 599.8,232.7 600.1,235.9 596.3,236.6 592.7,237.8 590.1,236.8 587.9,238.2 587.8,236.2 585.2,232.7 585.2,231.1 580.9,231.1 563.6,230.7 566.0,221.0ZM590.9,240.3 594.7,240.3 594.2,238.9 591.2,238.8 590.9,240.3ZM596.8,241.6 599.8,241.6 599.3,240.7 597.3,240.9 596.8,241.6ZM565.1,188.9 584.0,188.9 583.0,192.7 579.9,197.7 578.4,202.0 575.8,207.7 574.8,214.7 574.2,221.3 566.0,221.0 566.1,209.6 564.6,209.1 564.6,203.4 565.1,196.3 565.1,188.9ZM584.0,188.9 588.3,184.7 588.8,196.3 589.3,203.4 589.4,212.6 592.2,216.5 591.0,219.3 588.6,220.0 586.1,221.7 574.2,221.3 574.8,214.7 575.8,207.7 578.4,202.0 579.9,197.7 583.0,192.7 584.0,188.9ZM592.2,216.5 595.3,212.6 597.3,209.1 601.4,206.2 606.5,204.1 609.6,202.0 611.6,197.0 614.7,199.1 617.7,199.1 621.8,197.0 625.9,194.8 630.0,192.0 630.5,191.7 628.5,186.9 625.4,180.4 621.8,178.9 622.0,158.8 617.7,154.4 613.6,155.9 609.0,152.9 607.2,152.7 599.3,164.1 596.3,173.8 596.3,176.0 591.2,183.3 588.3,184.7 588.8,196.3 589.3,203.4 589.4,212.6 592.2,216.5Z" fill="none" stroke="rgba(95,100,108,0.34)" stroke-width="1" stroke-linejoin="round"/>
<path d="M60.5,142.2 61.8,146.1 63.3,149.9 63.5,153.6 61.8,156.3 58.7,158.2" fill="none" stroke="rgba(105,110,115,0.45)" stroke-width="2.2" stroke-linecap="round" stroke-linejoin="round"/>
<path d="M60.5,142.2 61.8,146.1 63.3,149.9 63.5,153.6 61.8,156.3 58.7,158.2" fill="none" stroke="#fff" stroke-width="1.3" stroke-linecap="round" stroke-linejoin="round"/>
<path d="M60.9,146.1 59.2,149.9 56.9,153.3 58.2,153.9" fill="none" stroke="rgba(105,110,115,0.45)" stroke-width="1.8" stroke-linecap="round" stroke-linejoin="round"/>
<path d="M60.9,146.1 59.2,149.9 56.9,153.3 58.2,153.9" fill="none" stroke="#fff" stroke-width="0.9" stroke-linecap="round" stroke-linejoin="round"/>
<path d="M62.3,139.2 63.6,143.0 64.3,145.3" fill="none" stroke="rgba(105,110,115,0.45)" stroke-width="1.7" stroke-linecap="round" stroke-linejoin="round"/>
<path d="M62.3,139.2 63.6,143.0 64.3,145.3" fill="none" stroke="#fff" stroke-width="0.8" stroke-linecap="round" stroke-linejoin="round"/>
<path d="M60.2,132.2 61.6,136.1 60.7,139.2" fill="none" stroke="rgba(105,110,115,0.45)" stroke-width="1.7" stroke-linecap="round" stroke-linejoin="round"/>
<path d="M60.2,132.2 61.6,136.1 60.7,139.2" fill="none" stroke="#fff" stroke-width="0.8" stroke-linecap="round" stroke-linejoin="round"/>
<path d="M63.0,283.7 63.8,286.7 65.3,289.7 67.1,291.6" fill="none" stroke="rgba(105,110,115,0.45)" stroke-width="2.5" stroke-linecap="round" stroke-linejoin="round"/>
<path d="M63.0,283.7 63.8,286.7 65.3,289.7 67.1,291.6" fill="none" stroke="#fff" stroke-width="1.6" stroke-linecap="round" stroke-linejoin="round"/>
<path d="M64.3,284.1 66.9,283.8 69.4,283.7" fill="none" stroke="rgba(105,110,115,0.45)" stroke-width="1.9" stroke-linecap="round" stroke-linejoin="round"/>
<path d="M64.3,284.1 66.9,283.8 69.4,283.7" fill="none" stroke="#fff" stroke-width="1.0" stroke-linecap="round" stroke-linejoin="round"/>
<path d="M390.3,380.0 391.9,379.0 394.9,379.2 397.2,380.6 396.0,382.6 392.9,383.2 390.6,382.1 390.3,380.0Z" fill="#fff" stroke="rgba(120,125,130,0.5)" stroke-width="0.6"/>
<path d="M535.0,322.3 538.0,321.9 541.8,320.0 542.3,318.5 541.9,313.9 541.1,312.6 539.9,314.4 538.5,316.6 535.0,318.5 532.9,320.4 535.0,322.3Z" fill="#fff" stroke="rgba(120,125,130,0.5)" stroke-width="0.6"/>
<path d="M530.9,309.7 536.0,310.4 540.3,310.1" fill="none" stroke="rgba(105,110,115,0.45)" stroke-width="1.9" stroke-linecap="round" stroke-linejoin="round"/>
<path d="M530.9,309.7 536.0,310.4 540.3,310.1" fill="none" stroke="#fff" stroke-width="1.0" stroke-linecap="round" stroke-linejoin="round"/>
<path d="M527.8,283.2 530.9,287.3 534.4,289.9" fill="none" stroke="rgba(105,110,115,0.45)" stroke-width="1.8" stroke-linecap="round" stroke-linejoin="round"/>
<path d="M527.8,283.2 530.9,287.3 534.4,289.9" fill="none" stroke="#fff" stroke-width="0.9" stroke-linecap="round" stroke-linejoin="round"/>
<path d="M529.3,291.2 531.9,293.1 533.9,294.7" fill="none" stroke="rgba(105,110,115,0.45)" stroke-width="1.8" stroke-linecap="round" stroke-linejoin="round"/>
<path d="M529.3,291.2 531.9,293.1 533.9,294.7" fill="none" stroke="#fff" stroke-width="0.9" stroke-linecap="round" stroke-linejoin="round"/>
<path d="M527.3,294.4 530.9,296.1 534.4,297.9" fill="none" stroke="rgba(105,110,115,0.45)" stroke-width="1.9" stroke-linecap="round" stroke-linejoin="round"/>
<path d="M527.3,294.4 530.9,296.1 534.4,297.9" fill="none" stroke="#fff" stroke-width="1.0" stroke-linecap="round" stroke-linejoin="round"/>
<path d="M527.8,276.3 528.8,280.2 531.9,282.2 534.4,284.1" fill="none" stroke="rgba(105,110,115,0.45)" stroke-width="1.8" stroke-linecap="round" stroke-linejoin="round"/>
<path d="M527.8,276.3 528.8,280.2 531.9,282.2 534.4,284.1" fill="none" stroke="#fff" stroke-width="0.9" stroke-linecap="round" stroke-linejoin="round"/>
<path d="M415.2,375.5 415.4,378.2 415.6,380.2" fill="none" stroke="rgba(105,110,115,0.45)" stroke-width="2.2" stroke-linecap="round" stroke-linejoin="round"/>
<path d="M415.2,375.5 415.4,378.2 415.6,380.2" fill="none" stroke="#fff" stroke-width="1.3" stroke-linecap="round" stroke-linejoin="round"/>
<path d="M469.0,411.5 471.1,409.2 472.1,407.5" fill="none" stroke="rgba(105,110,115,0.45)" stroke-width="2.1" stroke-linecap="round" stroke-linejoin="round"/>
<path d="M469.0,411.5 471.1,409.2 472.1,407.5" fill="none" stroke="#fff" stroke-width="1.2" stroke-linecap="round" stroke-linejoin="round"/>
<text x="83.4" y="156.5">14</text>
<text x="193.3" y="164.3">14</text>
<text x="293.0" y="156.1">13</text>
<text x="83.4" y="207.4">13</text>
<text x="144.8" y="206.9">11</text>
<text x="290.1" y="201.1">11</text>
<text x="216.3" y="221.5">14</text>
<text x="295.5" y="242.1">12</text>
<text x="121.4" y="272.1">10</text>
<text x="173.0" y="272.1">10</text>
<text x="237.4" y="275.6">14</text>
<text x="308.4" y="282.4">13</text>
<text x="352.0" y="174.8">14</text>
<text x="394.9" y="201.1">16</text>
<text x="359.3" y="235.5">16</text>
<text x="450.0" y="220.5">16</text>
<text x="543.0" y="221.5">22</text>
<text x="584.0" y="212.8">18</text>
<text x="571.9" y="240.2">23</text>
<text x="403.1" y="263.2">18</text>
<text x="433.1" y="263.2">15</text>
<text x="466.4" y="259.2">16</text>
<text x="552.6" y="260.4">26</text>
<text x="526.9" y="270.2">20</text>
<text x="543.7" y="279.6">20</text>
<text x="489.4" y="280.7">12</text>
<text x="369.8" y="286.1">13</text>
<text x="91.4" y="299.0">15</text>
<text x="174.8" y="333.5">9</text>
<text x="232.0" y="334.0">13</text>
<text x="318.3" y="320.6">17</text>
<text x="300.7" y="372.6">14</text>
<text x="447.7" y="291.8">14</text>
<text x="514.5" y="291.8">17</text>
<text x="433.7" y="317.8">13</text>
<text x="497.4" y="321.1">16</text>
<text x="369.7" y="330.4">11</text>
<text x="397.3" y="345.7">14</text>
<text x="428.3" y="354.6">12</text>
<text x="461.3" y="362.1">13</text>
<text x="371.6" y="379.7">15</text>
<text x="481.7" y="406.1">12</text>
<text x="607.5" y="186.4">17</text>
</g>
<g class="lab">
<path d="M672.4,136.6 730.9,136.6 730.9,175.8 731.8,179.1 732.1,182.0 711.1,182.0 708.3,183.0 704.7,183.2 700.6,185.7 695.5,186.4 690.4,187.1 688.4,187.9 685.3,186.4 681.2,187.1 677.6,188.6 672.5,187.1 672.0,183.5 670.0,180.5 666.9,179.8 664.4,178.3 660.8,179.1 659.2,178.2 658.9,173.1 658.7,168.6 658.2,166.4 656.2,159.6 653.6,153.6 652.3,149.4 652.4,146.2 656.7,147.9 660.8,149.6 665.9,150.2 669.0,150.5 672.5,150.2 674.1,145.9 675.1,140.5 672.4,136.6Z" fill="#8eb8d9"/>
<path d="M659.2,178.2 660.8,179.1 664.4,178.3 666.9,179.8 670.0,180.5 672.0,183.5 672.5,187.1 677.6,188.6 681.2,187.1 685.3,186.4 688.4,187.9 690.4,187.1 695.5,186.4 700.6,185.7 704.7,183.2 708.3,183.0 711.1,182.0 732.1,182.0 733.9,184.2 736.6,187.6 735.4,192.2 732.8,196.6 730.8,200.2 729.0,205.2 730.8,210.9 731.0,213.7 731.0,238.9 700.6,238.9 657.6,238.9 655.5,232.7 654.0,227.2 655.7,222.2 657.7,216.6 658.2,210.9 658.7,203.8 659.8,196.6 660.3,189.3 660.3,182.0 659.2,178.2Z" fill="#94bfde"/>
<path d="M657.6,238.9 700.6,238.9 700.6,279.2 755.5,330.4 757.9,335.4 760.6,339.1 756.8,341.6 754.6,346.5 756.8,350.2 756.8,355.4 754.6,358.5 730.1,360.8 728.7,356.9 727.2,352.6 722.1,347.7 720.1,346.0 717.0,345.9 716.0,342.8 712.9,342.6 708.8,341.0 705.7,338.1 700.6,337.2 695.8,337.2 694.3,335.4 694.0,328.5 690.4,324.1 685.3,317.9 680.7,310.9 682.2,307.7 680.2,305.8 676.1,302.6 675.1,298.7 675.1,294.8 670.0,292.3 670.0,288.4 665.9,284.4 662.3,279.2 661.8,271.3 659.2,265.9 655.7,260.1 658.2,253.9 658.7,247.1 657.7,242.3 657.6,238.9Z" fill="#8db7d9"/>
<path d="M700.6,238.9 731.0,238.9 761.5,238.9 761.4,305.1 761.4,315.4 757.9,316.6 754.4,317.6 755.0,319.7 756.1,324.1 755.5,330.4 700.6,279.2 700.6,238.9Z" fill="#98c3e0"/>
<path d="M732.1,182.0 731.8,179.1 730.9,175.8 730.9,136.6 741.0,136.6 741.0,152.3 744.4,156.6 744.6,160.4 748.7,163.4 751.7,167.9 756.0,172.7 757.4,172.4 758.4,182.0 756.8,188.4 762.5,186.5 764.0,187.9 767.6,195.9 769.6,199.5 774.2,205.2 779.3,203.1 787.5,203.1 788.5,200.5 792.1,204.1 792.1,238.9 761.5,238.9 731.0,238.9 731.0,213.7 730.8,210.9 729.0,205.2 730.8,200.2 732.8,196.6 735.4,192.2 736.6,187.6 733.9,184.2 732.1,182.0Z" fill="#94bfde"/>
<path d="M741.0,136.6 863.6,136.6 863.6,182.9 863.6,196.6 792.1,196.6 792.1,204.1 788.5,200.5 787.5,203.1 779.3,203.1 774.2,205.2 769.6,199.5 767.6,195.9 764.0,187.9 762.5,186.5 756.8,188.4 758.4,182.0 757.4,172.4 756.0,172.7 751.7,167.9 748.7,163.4 744.6,160.4 744.4,156.6 741.0,152.3 741.0,136.6Z" fill="#94bfde"/>
<path d="M792.1,204.1 792.1,196.6 863.6,196.6 863.6,225.0 863.6,252.5 812.5,252.5 792.1,252.5 792.1,238.9 792.1,204.1Z" fill="#98c3e0"/>
<path d="M761.5,238.9 792.1,238.9 792.1,252.5 812.5,252.5 812.5,305.1 761.4,305.1 761.5,238.9Z" fill="#94bfde"/>
<path d="M761.4,305.1 812.5,305.1 812.5,375.2 791.9,375.2 753.7,361.3 754.6,358.5 756.8,355.4 756.8,350.2 754.6,346.5 756.8,341.6 760.6,339.1 757.9,335.4 755.5,330.4 756.1,324.1 755.0,319.7 754.4,317.6 757.9,316.6 761.4,315.4 761.4,305.1Z" fill="#9dc7e2"/>
<path d="M812.5,252.5 863.6,252.5 884.1,252.5 884.1,265.9 884.1,305.1 874.4,305.1 812.5,305.1 812.5,252.5Z" fill="#8db7d9"/>
<path d="M812.5,305.1 874.4,305.1 874.4,311.5 873.8,367.2 837.4,367.2 838.3,369.8 821.1,369.8 821.1,375.2 812.5,375.2 812.5,305.1Z" fill="#8db7d9"/>
<path d="M863.6,136.6 933.3,136.6 934.2,142.8 935.7,149.0 937.2,158.1 937.4,168.6 939.8,176.8 940.2,182.9 863.6,182.9 863.6,136.6Z" fill="#98c3e0"/>
<path d="M863.6,182.9 940.2,182.9 937.3,187.9 939.8,190.1 941.3,192.2 941.3,218.0 939.8,228.5 941.3,232.1 939.3,231.3 935.7,228.2 930.6,227.1 924.5,227.4 920.4,225.0 863.6,225.0 863.6,196.6 863.6,182.9Z" fill="#92bcde"/>
<path d="M863.6,225.0 920.4,225.0 924.5,227.4 930.6,227.1 935.7,228.2 939.3,231.3 941.3,232.1 942.3,236.1 944.9,241.6 946.7,247.1 947.5,252.5 948.3,258.2 953.0,265.9 884.1,265.9 884.1,252.5 863.6,252.5 863.6,225.0Z" fill="#94bfde"/>
<path d="M884.1,265.9 953.0,265.9 956.1,268.6 957.2,271.9 956.6,273.9 960.2,277.2 960.1,305.1 884.1,305.1 884.1,265.9Z" fill="#94bfde"/>
<path d="M874.4,305.1 884.1,305.1 960.1,305.1 960.0,311.5 962.0,325.5 961.5,347.2 957.2,345.3 954.1,343.4 951.0,344.3 948.0,344.7 943.9,345.9 939.8,344.7 936.7,344.7 933.7,345.9 930.6,344.3 926.0,344.0 924.5,341.6 919.3,341.0 915.8,340.3 913.2,339.1 909.1,338.1 905.0,335.9 905.0,311.5 874.4,311.5 874.4,305.1Z" fill="#8ab4d6"/>
<path d="M874.4,311.5 905.0,311.5 905.0,335.9 909.1,338.1 913.2,339.1 915.8,340.3 919.3,341.0 924.5,341.6 926.0,344.0 930.6,344.3 933.7,345.9 936.7,344.7 939.8,344.7 943.9,345.9 948.0,344.7 951.0,344.3 954.1,343.4 957.2,345.3 961.5,347.2 965.9,348.3 965.9,354.8 965.9,367.3 968.2,370.2 970.4,372.6 971.0,376.8 970.4,380.4 969.4,385.1 969.2,389.8 968.0,394.6 962.8,396.3 958.7,398.7 956.1,400.4 953.1,403.4 948.0,406.9 942.9,409.8 937.7,412.7 935.7,415.6 933.1,419.0 932.1,423.6 931.6,428.2 932.6,432.8 934.2,437.8 931.1,438.5 928.5,436.8 923.4,436.5 919.3,434.5 914.2,432.2 912.7,428.2 910.7,425.3 910.1,420.2 906.6,416.7 902.0,411.5 899.9,406.9 897.4,401.6 894.8,398.7 890.7,393.7 884.6,393.2 881.0,392.8 877.4,395.2 875.4,399.8 872.8,403.1 869.8,402.2 866.2,399.3 862.1,396.9 859.0,395.2 857.0,391.0 854.4,384.5 849.9,381.0 843.7,374.5 840.7,371.8 838.3,369.8 837.4,367.2 873.8,367.2 874.4,311.5Z" fill="#8db7d9"/>
<path d="M933.3,136.6 954.6,136.6 954.6,130.7 956.6,130.8 958.2,133.5 959.2,139.7 960.2,140.9 964.3,142.0 968.4,144.0 972.5,142.8 977.1,142.5 980.7,145.1 983.7,146.7 986.8,147.4 991.9,151.3 997.0,149.0 999.1,150.5 1007.2,150.5 1012.3,152.0 1004.2,155.8 997.0,161.9 990.9,167.2 985.8,171.3 983.8,172.2 983.7,181.3 979.6,187.9 978.1,190.1 979.1,195.1 978.6,200.2 983.7,204.5 989.9,208.8 994.0,212.3 994.8,218.0 941.3,218.0 941.3,192.2 939.8,190.1 937.3,187.9 940.2,182.9 939.8,176.8 937.4,168.6 937.2,158.1 935.7,149.0 934.2,142.8 933.3,136.6Z" fill="#92bcde"/>
<path d="M941.3,218.0 994.8,218.0 995.5,225.0 1000.7,232.0 1004.2,237.5 1005.7,241.6 1003.7,245.0 997.5,247.1 996.5,250.5 997.5,253.2 996.0,257.2 992.7,260.9 989.6,257.8 948.3,258.2 947.5,252.5 946.7,247.1 944.9,241.6 942.3,236.1 941.3,232.1 939.8,228.5 941.3,218.0Z" fill="#8db7d9"/>
<path d="M948.3,258.2 989.6,257.8 992.7,260.9 992.4,265.9 995.0,269.9 998.6,274.6 1001.1,279.2 1005.2,281.2 1005.4,284.0 1004.2,288.4 1007.7,292.3 1011.8,297.4 1012.9,301.9 1015.7,305.1 1014.4,307.7 1012.3,311.5 1010.3,317.9 1003.5,317.9 1006.4,314.1 1005.7,311.5 960.0,311.5 960.1,305.1 960.2,277.2 956.6,273.9 957.2,271.9 956.1,268.6 953.0,265.9 948.3,258.2Z" fill="#98c3e0"/>
<path d="M960.0,311.5 1005.7,311.5 1006.4,314.1 1003.5,317.9 1010.3,317.9 1008.3,322.9 1006.7,328.5 1004.1,330.4 1001.6,335.4 998.0,340.3 996.0,346.5 995.4,354.8 965.9,354.8 965.9,348.3 961.5,347.2 962.0,325.5 960.0,311.5Z" fill="#92bcde"/>
<path d="M965.9,354.8 995.4,354.8 995.0,359.9 997.5,363.0 996.5,366.0 994.0,369.6 992.9,372.5 991.4,376.2 990.5,379.2 1010.0,379.2 1011.3,384.5 1011.3,388.9 1009.8,390.8 1013.4,392.2 1014.4,394.6 1015.4,398.7 1017.5,401.0 1015.9,403.0 1013.4,403.6 1010.3,399.3 1006.7,401.6 1005.2,401.8 1002.6,402.2 999.1,402.2 994.5,399.8 992.9,396.9 988.8,396.9 983.7,396.3 979.6,395.7 974.5,393.7 968.0,394.6 969.2,389.8 969.4,385.1 970.4,380.4 971.0,376.8 970.4,372.6 968.2,370.2 965.9,367.3 965.9,354.8Z" fill="#8ab4d6"/>
<path d="M994.8,218.0 994.0,212.3 989.9,208.8 983.7,204.5 978.6,200.2 979.1,195.1 978.1,190.1 979.6,187.9 983.7,181.3 983.8,172.2 985.8,171.3 992.9,170.1 998.0,167.9 999.6,171.6 1002.9,173.6 1006.2,177.6 1016.4,180.5 1020.5,182.0 1026.7,184.9 1029.2,190.8 1031.8,195.1 1030.2,198.7 1027.7,203.1 1030.2,201.6 1033.8,198.0 1037.9,192.2 1038.9,193.7 1035.9,198.0 1032.8,203.8 1032.3,209.5 1030.7,215.2 1028.7,222.2 1028.7,226.4 1029.7,232.0 1000.7,232.0 995.5,225.0 994.8,218.0Z" fill="#8db7d9"/>
<path d="M1000.7,232.0 1029.7,232.0 1031.3,238.9 1032.6,243.0 1032.5,274.6 1031.8,277.9 1032.8,281.8 1031.3,285.7 1028.2,290.3 1027.2,294.8 1026.1,299.4 1023.1,303.9 1019.5,303.2 1015.7,305.1 1012.9,301.9 1011.8,297.4 1007.7,292.3 1004.2,288.4 1005.4,284.0 1005.2,281.2 1001.1,279.2 998.6,274.6 995.0,269.9 992.4,265.9 992.7,260.9 996.0,257.2 997.5,253.2 996.5,250.5 997.5,247.1 1003.7,245.0 1005.7,241.6 1004.2,237.5 1000.7,232.0Z" fill="#8ab4d6"/>
<path d="M1039.7,242.2 1060.3,242.2 1060.4,243.0 1074.2,242.6 1077.2,238.2 1077.8,234.7 1080.3,233.3 1083.9,230.6 1084.4,225.0 1083.4,216.6 1082.4,210.9 1078.8,210.2 1075.7,211.6 1071.6,216.6 1069.6,215.2 1071.1,210.9 1075.2,206.6 1075.7,199.5 1074.7,195.9 1070.1,191.5 1065.5,187.1 1060.9,185.2 1058.3,186.4 1057.3,192.2 1054.3,195.1 1052.2,194.4 1053.2,198.7 1050.7,197.3 1047.6,198.0 1045.6,202.3 1044.5,208.1 1043.0,215.9 1045.6,223.6 1046.1,230.6 1043.5,236.8 1039.7,242.2ZM1002.9,173.6 1008.3,170.1 1013.4,169.4 1018.0,167.2 1022.6,163.4 1028.7,160.4 1025.6,164.1 1023.6,167.9 1027.7,168.6 1031.8,173.9 1036.9,175.4 1042.0,175.4 1046.1,172.4 1052.2,171.6 1058.3,170.9 1060.4,174.6 1064.5,174.6 1067.5,177.6 1069.6,180.5 1074.2,181.7 1070.6,182.4 1064.5,182.7 1061.2,183.9 1054.3,180.5 1049.1,182.7 1045.1,184.2 1042.0,187.1 1037.9,185.7 1034.8,188.6 1031.8,195.1 1029.2,190.8 1026.7,184.9 1020.5,182.0 1016.4,180.5 1006.2,177.6 1002.9,173.6Z" fill="#82acd0"/>
<path d="M1032.6,243.0 1035.9,244.1 1039.7,242.2 1060.3,242.2 1060.2,277.9 1059.4,281.8 1056.3,283.1 1053.7,283.1 1050.7,288.6 1048.1,291.6 1045.1,290.3 1043.0,292.9 1039.9,292.9 1036.9,295.2 1032.1,292.6 1027.2,294.8 1028.2,290.3 1031.3,285.7 1032.8,281.8 1031.8,277.9 1032.5,274.6 1032.6,243.0Z" fill="#8ab4d6"/>
<path d="M1060.3,242.2 1060.4,243.0 1074.2,242.6 1078.3,244.3 1081.8,246.4 1085.9,246.8 1092.1,245.7 1096.2,242.3 1100.2,240.2 1104.1,239.1 1104.1,257.4 1103.3,261.3 1102.1,265.1 1100.8,269.9 1097.2,273.9 1093.5,275.6 1091.6,278.5 1091.0,280.5 1087.7,281.3 1087.0,284.4 1084.4,286.8 1082.9,286.9 1080.8,284.4 1078.8,282.7 1074.7,284.2 1071.1,283.8 1066.5,281.8 1063.4,277.9 1060.2,277.9 1060.3,242.2Z" fill="#8ab4d6"/>
<path d="M1060.2,277.9 1063.4,277.9 1066.5,281.8 1071.1,283.8 1074.7,284.2 1078.8,282.7 1080.8,284.4 1082.9,286.9 1082.9,290.0 1084.7,293.6 1085.9,296.5 1089.3,298.2 1085.4,301.7 1081.8,303.9 1077.8,307.1 1071.8,310.2 1058.3,310.0 1043.0,309.7 1027.0,309.2 1027.0,311.5 1012.3,311.5 1014.4,307.7 1015.7,305.1 1019.5,303.2 1023.1,303.9 1026.1,299.4 1027.2,294.8 1032.1,292.6 1036.9,295.2 1039.9,292.9 1043.0,292.9 1045.1,290.3 1048.1,291.6 1050.7,288.6 1053.7,283.1 1056.3,283.1 1059.4,281.8 1060.2,277.9Z" fill="#92bcde"/>
<path d="M1012.3,311.5 1027.0,311.5 1027.0,309.2 1043.0,309.7 1058.3,310.0 1071.8,310.2 1092.3,310.4 1090.0,314.1 1088.5,316.6 1082.9,318.5 1077.8,321.0 1073.7,323.4 1068.6,324.8 1065.5,327.3 1065.3,330.5 1052.2,330.7 1025.6,330.4 1004.1,330.4 1006.7,328.5 1008.3,322.9 1010.3,317.9 1012.3,311.5Z" fill="#92bcde"/>
<path d="M1004.1,330.4 1025.6,330.4 1022.9,368.4 1023.6,386.4 1018.5,386.3 1013.9,387.5 1011.3,388.9 1011.3,384.5 1010.0,379.2 990.5,379.2 991.4,376.2 992.9,372.5 994.0,369.6 996.5,366.0 997.5,363.0 995.0,359.9 995.4,354.8 996.0,346.5 998.0,340.3 1001.6,335.4 1004.1,330.4Z" fill="#92bcde"/>
<path d="M1025.6,330.4 1052.2,330.7 1056.5,356.8 1058.8,362.3 1057.8,367.2 1057.3,372.0 1058.3,379.2 1031.8,379.2 1033.3,382.7 1032.6,387.7 1027.7,388.3 1028.2,383.9 1027.2,383.3 1026.7,386.9 1023.6,386.4 1022.9,368.4 1025.6,330.4Z" fill="#8db7d9"/>
<path d="M1052.2,330.7 1065.3,330.5 1077.7,330.4 1075.2,334.1 1079.8,337.2 1082.9,342.8 1087.0,347.1 1089.5,349.6 1093.1,353.8 1094.6,358.1 1097.7,363.6 1100.5,366.8 1097.7,372.0 1096.2,376.8 1094.6,382.6 1089.5,381.5 1088.5,385.1 1087.0,384.3 1059.8,382.6 1058.3,379.2 1057.3,372.0 1057.8,367.2 1058.8,362.3 1056.5,356.8 1052.2,330.7Z" fill="#8db7d9"/>
<path d="M1032.6,387.7 1033.3,382.7 1031.8,379.2 1058.3,379.2 1059.8,382.6 1087.0,384.3 1088.5,385.1 1089.5,381.5 1094.6,382.6 1095.1,386.3 1095.6,391.0 1097.2,395.7 1099.2,400.4 1101.3,405.1 1103.8,409.2 1103.3,413.2 1105.4,419.0 1107.4,423.6 1108.4,427.1 1108.9,431.6 1107.9,439.6 1106.4,441.9 1105.4,445.8 1102.3,447.0 1098.7,447.0 1097.2,444.1 1094.1,439.0 1091.0,436.2 1088.0,431.6 1085.9,427.6 1083.9,423.6 1082.4,419.0 1080.8,414.4 1081.8,409.8 1081.3,404.5 1077.8,400.4 1074.7,395.7 1072.1,392.2 1068.6,389.8 1065.5,390.4 1062.4,392.8 1058.3,394.3 1054.8,394.8 1054.3,391.6 1050.2,388.7 1046.1,386.9 1043.0,386.3 1035.9,387.1 1032.6,387.7Z" fill="#92bcde"/>
<path d="M1077.7,330.4 1080.8,329.4 1085.4,328.0 1098.7,328.5 1099.9,329.2 1101.5,332.6 1112.7,332.9 1124.3,344.5 1119.7,349.0 1117.6,352.6 1113.5,356.3 1110.5,358.1 1105.4,361.1 1102.3,364.2 1100.5,366.8 1097.7,363.6 1094.6,358.1 1093.1,353.8 1089.5,349.6 1087.0,347.1 1082.9,342.8 1079.8,337.2 1075.2,334.1 1077.7,330.4Z" fill="#8ab4d7"/>
<path d="M1092.3,310.4 1090.0,314.1 1088.5,316.6 1082.9,318.5 1077.8,321.0 1073.7,323.4 1068.6,324.8 1065.5,327.3 1065.3,330.5 1077.7,330.4 1080.8,329.4 1085.4,328.0 1098.7,328.5 1099.9,329.2 1101.5,332.6 1112.7,332.9 1124.3,344.5 1130.4,344.7 1131.4,340.3 1136.0,336.0 1140.6,334.1 1144.9,335.4 1147.3,331.0 1152.4,327.9 1155.4,327.3 1154.9,322.9 1152.9,316.6 1151.6,310.9 1092.3,310.4Z" fill="#8db7d9"/>
<path d="M1071.8,310.2 1077.8,307.1 1081.8,303.9 1085.4,301.7 1089.3,298.2 1091.6,301.3 1095.1,302.6 1099.2,301.5 1103.3,299.4 1106.4,298.7 1107.4,297.2 1109.4,294.8 1111.0,291.0 1113.5,286.4 1116.6,286.4 1118.6,283.1 1121.2,281.8 1123.7,279.2 1125.8,276.6 1126.3,273.7 1129.4,276.6 1131.6,277.5 1132.6,275.0 1135.0,276.6 1137.5,278.5 1139.6,281.2 1139.6,284.4 1138.1,285.7 1140.1,287.1 1144.2,289.7 1147.3,292.3 1146.2,296.1 1147.3,300.6 1146.2,303.9 1147.3,305.8 1150.3,306.2 1151.6,310.9 1092.3,310.4 1071.8,310.2ZM1151.3,292.9 1153.9,292.8 1158.1,291.9 1154.4,297.4 1151.3,303.2 1150.3,302.6 1151.3,292.9Z" fill="#8ab4d6"/>
<path d="M1082.9,286.9 1084.4,286.8 1087.0,284.4 1087.7,281.3 1091.0,280.5 1091.6,278.5 1093.5,275.6 1097.2,273.9 1100.8,269.9 1102.1,265.1 1103.3,261.3 1104.1,257.4 1104.1,269.7 1114.8,269.7 1114.8,276.6 1119.7,273.3 1122.0,270.6 1124.8,272.3 1128.0,269.9 1130.4,271.3 1131.9,272.6 1132.6,275.0 1131.6,277.5 1129.4,276.6 1126.3,273.7 1125.8,276.6 1123.7,279.2 1121.2,281.8 1118.6,283.1 1116.6,286.4 1113.5,286.4 1111.0,291.0 1109.4,294.8 1107.4,297.2 1106.4,298.7 1103.3,299.4 1099.2,301.5 1095.1,302.6 1091.6,301.3 1089.3,298.2 1085.9,296.5 1084.7,293.6 1082.9,290.0 1082.9,286.9Z" fill="#92bcde"/>
<path d="M1114.8,269.7 1152.5,269.7 1153.4,286.3 1160.0,286.3 1158.1,291.9 1153.9,292.8 1151.3,292.9 1148.3,288.4 1147.3,283.1 1149.3,279.2 1150.8,273.9 1149.3,271.9 1146.2,275.9 1145.2,279.2 1145.2,283.1 1146.7,288.4 1147.3,292.3 1144.2,289.7 1140.1,287.1 1138.1,285.7 1139.6,284.4 1139.6,281.2 1137.5,278.5 1135.0,276.6 1132.6,275.0 1131.9,272.6 1130.4,271.3 1128.0,269.9 1124.8,272.3 1122.0,270.6 1119.7,273.3 1114.8,276.6 1114.8,269.7Z" fill="#7aa3ca"/>
<path d="M1152.5,269.7 1154.4,268.1 1156.2,268.6 1154.9,271.3 1155.4,273.3 1156.5,276.6 1157.5,279.9 1159.7,282.1 1160.0,286.3 1153.4,286.3 1152.5,269.7Z" fill="#84add2"/>
<path d="M1104.1,239.1 1111.9,235.1 1111.9,238.9 1156.9,238.9 1159.5,241.6 1161.0,245.7 1163.6,247.6 1159.5,252.5 1159.0,255.9 1160.0,259.9 1163.1,263.3 1161.0,265.3 1159.0,266.6 1156.2,268.6 1154.4,268.1 1152.5,269.7 1114.8,269.7 1104.1,269.7 1104.1,257.4 1104.1,239.1Z" fill="#7ba3ca"/>
<path d="M1156.2,268.6 1159.0,266.6 1161.0,265.3 1163.1,263.3 1160.0,259.9 1159.0,255.9 1159.5,252.5 1163.6,247.6 1171.8,252.5 1170.6,256.6 1168.2,258.6 1170.8,259.9 1170.2,264.6 1169.7,269.3 1166.7,274.6 1163.1,279.2 1161.0,280.1 1159.5,276.6 1157.5,275.2 1155.4,273.3 1154.9,271.3 1156.2,268.6Z" fill="#739bc3"/>
<path d="M1111.9,235.1 1118.6,229.2 1120.7,226.7 1119.1,223.6 1119.0,221.2 1124.8,219.8 1129.9,219.8 1134.0,221.2 1140.1,221.1 1144.2,218.7 1148.3,217.3 1148.3,212.3 1146.7,209.5 1150.3,206.6 1152.4,204.5 1157.5,198.7 1163.1,196.6 1177.4,196.4 1177.4,203.8 1176.9,210.9 1176.9,216.6 1178.4,217.1 1178.3,228.5 1175.9,238.2 1175.4,248.4 1176.1,249.8 1174.2,252.5 1173.8,254.3 1173.0,255.2 1175.9,253.9 1181.0,253.2 1184.6,252.8 1188.1,251.8 1192.6,251.6 1186.1,254.5 1181.0,256.6 1175.9,257.9 1171.3,258.3 1170.6,256.6 1171.8,252.5 1163.6,247.6 1161.0,245.7 1159.5,241.6 1156.9,238.9 1111.9,238.9 1111.9,235.1Z" fill="#82acd0"/>
<path d="M1175.9,238.2 1193.2,238.6 1192.7,248.2 1188.1,248.8 1182.0,249.1 1178.9,250.5 1174.2,252.5 1176.1,249.8 1175.4,248.4 1175.9,238.2Z" fill="#7da6cc"/>
<path d="M1193.2,238.6 1197.5,238.6 1197.5,240.2 1200.1,243.7 1200.2,245.7 1198.4,246.4 1196.3,247.5 1192.7,248.2 1193.2,238.6Z" fill="#82aad0"/>
<path d="M1178.3,228.5 1186.5,228.8 1198.4,229.2 1200.9,227.5 1203.3,226.8 1205.5,229.9 1202.4,232.7 1201.4,234.7 1205.0,238.2 1205.5,240.2 1206.5,242.2 1210.6,242.3 1211.6,240.9 1211.1,238.9 1209.6,237.9 1211.1,238.0 1212.1,240.2 1212.4,243.4 1208.6,244.1 1205.0,245.3 1202.4,244.3 1200.2,245.7 1200.1,243.7 1197.5,240.2 1197.5,238.6 1193.2,238.6 1175.9,238.2 1178.3,228.5ZM1203.2,247.8 1207.0,247.8 1206.5,246.4 1203.5,246.3 1203.2,247.8ZM1209.1,249.1 1212.1,249.1 1211.6,248.2 1209.6,248.4 1209.1,249.1Z" fill="#7da7cc"/>
<path d="M1177.4,196.4 1196.3,196.4 1195.3,200.2 1192.2,205.2 1190.7,209.5 1188.1,215.2 1187.1,222.2 1186.5,228.8 1178.3,228.5 1178.4,217.1 1176.9,216.6 1176.9,210.9 1177.4,203.8 1177.4,196.4Z" fill="#94bfde"/>
<path d="M1196.3,196.4 1200.6,192.2 1201.1,203.8 1201.6,210.9 1201.7,220.1 1204.5,224.0 1203.3,226.8 1200.9,227.5 1198.4,229.2 1186.5,228.8 1187.1,222.2 1188.1,215.2 1190.7,209.5 1192.2,205.2 1195.3,200.2 1196.3,196.4Z" fill="#8db7d9"/>
<path d="M1204.5,224.0 1207.6,220.1 1209.6,216.6 1213.7,213.7 1218.8,211.6 1221.9,209.5 1223.9,204.5 1227.0,206.6 1230.0,206.6 1234.1,204.5 1238.2,202.3 1242.3,199.5 1242.8,199.2 1240.8,194.4 1237.7,187.9 1234.1,186.4 1234.3,166.3 1230.0,161.9 1225.9,163.4 1221.3,160.4 1219.5,160.2 1211.6,171.6 1208.6,181.3 1208.6,183.5 1203.5,190.8 1200.6,192.2 1201.1,203.8 1201.6,210.9 1201.7,220.1 1204.5,224.0Z" fill="#92bcde"/>
<path d="M667.9,142.5 670.0,140.9 671.5,142.8 671.2,145.1 669.5,145.6 667.9,144.4 667.9,142.5Z" fill="#8eb8d9" stroke="rgba(95,100,108,0.34)" stroke-width="0.6"/>
<path d="M701.5,341.9 705.5,342.2 705.2,343.1 701.9,343.1 701.5,341.9Z" fill="#8db7d9" stroke="rgba(95,100,108,0.34)" stroke-width="0.6"/>
<path d="M698.6,342.6 700.8,342.6 700.8,343.8 698.6,343.5 698.6,342.6Z" fill="#8db7d9" stroke="rgba(95,100,108,0.34)" stroke-width="0.6"/>
<path d="M696.0,342.1 697.4,342.1 697.4,342.8 696.0,342.6 696.0,342.1Z" fill="#8db7d9" stroke="rgba(95,100,108,0.34)" stroke-width="0.6"/>
<path d="M714.9,349.2 718.0,350.4 717.8,351.2 714.9,349.9 714.9,349.2Z" fill="#8db7d9" stroke="rgba(95,100,108,0.34)" stroke-width="0.6"/>
<path d="M714.9,354.7 716.5,356.5 717.0,356.9 715.5,355.1 714.9,354.7Z" fill="#8db7d9" stroke="rgba(95,100,108,0.34)" stroke-width="0.6"/>
<path d="M705.2,351.6 706.6,351.9 706.6,352.4 705.2,352.1 705.2,351.6Z" fill="#8db7d9" stroke="rgba(95,100,108,0.34)" stroke-width="0.6"/>
<path d="M1104.8,446.4 1103.3,448.1 1100.2,450.4 1096.2,452.3 1091.0,453.7 1091.0,454.3 1096.2,452.9 1100.2,450.9 1103.8,448.7 1105.4,446.6 1104.8,446.4Z" fill="#92bcde" stroke="rgba(95,100,108,0.34)" stroke-width="0.6"/>
<path d="M1150.3,329.4 1154.1,327.5 1154.8,326.7 1154.4,321.0 1153.2,315.3 1152.1,310.9 1152.6,310.9 1153.8,315.3 1155.1,321.0 1155.5,327.3 1154.4,328.2 1150.3,330.0 1150.3,329.4Z" fill="#8db7d9" stroke="rgba(95,100,108,0.34)" stroke-width="0.6"/>
<path d="M672.4,136.6 730.9,136.6 730.9,175.8 731.8,179.1 732.1,182.0 711.1,182.0 708.3,183.0 704.7,183.2 700.6,185.7 695.5,186.4 690.4,187.1 688.4,187.9 685.3,186.4 681.2,187.1 677.6,188.6 672.5,187.1 672.0,183.5 670.0,180.5 666.9,179.8 664.4,178.3 660.8,179.1 659.2,178.2 658.9,173.1 658.7,168.6 658.2,166.4 656.2,159.6 653.6,153.6 652.3,149.4 652.4,146.2 656.7,147.9 660.8,149.6 665.9,150.2 669.0,150.5 672.5,150.2 674.1,145.9 675.1,140.5 672.4,136.6ZM659.2,178.2 660.8,179.1 664.4,178.3 666.9,179.8 670.0,180.5 672.0,183.5 672.5,187.1 677.6,188.6 681.2,187.1 685.3,186.4 688.4,187.9 690.4,187.1 695.5,186.4 700.6,185.7 704.7,183.2 708.3,183.0 711.1,182.0 732.1,182.0 733.9,184.2 736.6,187.6 735.4,192.2 732.8,196.6 730.8,200.2 729.0,205.2 730.8,210.9 731.0,213.7 731.0,238.9 700.6,238.9 657.6,238.9 655.5,232.7 654.0,227.2 655.7,222.2 657.7,216.6 658.2,210.9 658.7,203.8 659.8,196.6 660.3,189.3 660.3,182.0 659.2,178.2ZM657.6,238.9 700.6,238.9 700.6,279.2 755.5,330.4 757.9,335.4 760.6,339.1 756.8,341.6 754.6,346.5 756.8,350.2 756.8,355.4 754.6,358.5 730.1,360.8 728.7,356.9 727.2,352.6 722.1,347.7 720.1,346.0 717.0,345.9 716.0,342.8 712.9,342.6 708.8,341.0 705.7,338.1 700.6,337.2 695.8,337.2 694.3,335.4 694.0,328.5 690.4,324.1 685.3,317.9 680.7,310.9 682.2,307.7 680.2,305.8 676.1,302.6 675.1,298.7 675.1,294.8 670.0,292.3 670.0,288.4 665.9,284.4 662.3,279.2 661.8,271.3 659.2,265.9 655.7,260.1 658.2,253.9 658.7,247.1 657.7,242.3 657.6,238.9ZM700.6,238.9 731.0,238.9 761.5,238.9 761.4,305.1 761.4,315.4 757.9,316.6 754.4,317.6 755.0,319.7 756.1,324.1 755.5,330.4 700.6,279.2 700.6,238.9ZM732.1,182.0 731.8,179.1 730.9,175.8 730.9,136.6 741.0,136.6 741.0,152.3 744.4,156.6 744.6,160.4 748.7,163.4 751.7,167.9 756.0,172.7 757.4,172.4 758.4,182.0 756.8,188.4 762.5,186.5 764.0,187.9 767.6,195.9 769.6,199.5 774.2,205.2 779.3,203.1 787.5,203.1 788.5,200.5 792.1,204.1 792.1,238.9 761.5,238.9 731.0,238.9 731.0,213.7 730.8,210.9 729.0,205.2 730.8,200.2 732.8,196.6 735.4,192.2 736.6,187.6 733.9,184.2 732.1,182.0ZM741.0,136.6 863.6,136.6 863.6,182.9 863.6,196.6 792.1,196.6 792.1,204.1 788.5,200.5 787.5,203.1 779.3,203.1 774.2,205.2 769.6,199.5 767.6,195.9 764.0,187.9 762.5,186.5 756.8,188.4 758.4,182.0 757.4,172.4 756.0,172.7 751.7,167.9 748.7,163.4 744.6,160.4 744.4,156.6 741.0,152.3 741.0,136.6ZM792.1,204.1 792.1,196.6 863.6,196.6 863.6,225.0 863.6,252.5 812.5,252.5 792.1,252.5 792.1,238.9 792.1,204.1ZM761.5,238.9 792.1,238.9 792.1,252.5 812.5,252.5 812.5,305.1 761.4,305.1 761.5,238.9ZM761.4,305.1 812.5,305.1 812.5,375.2 791.9,375.2 753.7,361.3 754.6,358.5 756.8,355.4 756.8,350.2 754.6,346.5 756.8,341.6 760.6,339.1 757.9,335.4 755.5,330.4 756.1,324.1 755.0,319.7 754.4,317.6 757.9,316.6 761.4,315.4 761.4,305.1ZM812.5,252.5 863.6,252.5 884.1,252.5 884.1,265.9 884.1,305.1 874.4,305.1 812.5,305.1 812.5,252.5ZM812.5,305.1 874.4,305.1 874.4,311.5 873.8,367.2 837.4,367.2 838.3,369.8 821.1,369.8 821.1,375.2 812.5,375.2 812.5,305.1ZM863.6,136.6 933.3,136.6 934.2,142.8 935.7,149.0 937.2,158.1 937.4,168.6 939.8,176.8 940.2,182.9 863.6,182.9 863.6,136.6ZM863.6,182.9 940.2,182.9 937.3,187.9 939.8,190.1 941.3,192.2 941.3,218.0 939.8,228.5 941.3,232.1 939.3,231.3 935.7,228.2 930.6,227.1 924.5,227.4 920.4,225.0 863.6,225.0 863.6,196.6 863.6,182.9ZM863.6,225.0 920.4,225.0 924.5,227.4 930.6,227.1 935.7,228.2 939.3,231.3 941.3,232.1 942.3,236.1 944.9,241.6 946.7,247.1 947.5,252.5 948.3,258.2 953.0,265.9 884.1,265.9 884.1,252.5 863.6,252.5 863.6,225.0ZM884.1,265.9 953.0,265.9 956.1,268.6 957.2,271.9 956.6,273.9 960.2,277.2 960.1,305.1 884.1,305.1 884.1,265.9ZM874.4,305.1 884.1,305.1 960.1,305.1 960.0,311.5 962.0,325.5 961.5,347.2 957.2,345.3 954.1,343.4 951.0,344.3 948.0,344.7 943.9,345.9 939.8,344.7 936.7,344.7 933.7,345.9 930.6,344.3 926.0,344.0 924.5,341.6 919.3,341.0 915.8,340.3 913.2,339.1 909.1,338.1 905.0,335.9 905.0,311.5 874.4,311.5 874.4,305.1ZM874.4,311.5 905.0,311.5 905.0,335.9 909.1,338.1 913.2,339.1 915.8,340.3 919.3,341.0 924.5,341.6 926.0,344.0 930.6,344.3 933.7,345.9 936.7,344.7 939.8,344.7 943.9,345.9 948.0,344.7 951.0,344.3 954.1,343.4 957.2,345.3 961.5,347.2 965.9,348.3 965.9,354.8 965.9,367.3 968.2,370.2 970.4,372.6 971.0,376.8 970.4,380.4 969.4,385.1 969.2,389.8 968.0,394.6 962.8,396.3 958.7,398.7 956.1,400.4 953.1,403.4 948.0,406.9 942.9,409.8 937.7,412.7 935.7,415.6 933.1,419.0 932.1,423.6 931.6,428.2 932.6,432.8 934.2,437.8 931.1,438.5 928.5,436.8 923.4,436.5 919.3,434.5 914.2,432.2 912.7,428.2 910.7,425.3 910.1,420.2 906.6,416.7 902.0,411.5 899.9,406.9 897.4,401.6 894.8,398.7 890.7,393.7 884.6,393.2 881.0,392.8 877.4,395.2 875.4,399.8 872.8,403.1 869.8,402.2 866.2,399.3 862.1,396.9 859.0,395.2 857.0,391.0 854.4,384.5 849.9,381.0 843.7,374.5 840.7,371.8 838.3,369.8 837.4,367.2 873.8,367.2 874.4,311.5ZM933.3,136.6 954.6,136.6 954.6,130.7 956.6,130.8 958.2,133.5 959.2,139.7 960.2,140.9 964.3,142.0 968.4,144.0 972.5,142.8 977.1,142.5 980.7,145.1 983.7,146.7 986.8,147.4 991.9,151.3 997.0,149.0 999.1,150.5 1007.2,150.5 1012.3,152.0 1004.2,155.8 997.0,161.9 990.9,167.2 985.8,171.3 983.8,172.2 983.7,181.3 979.6,187.9 978.1,190.1 979.1,195.1 978.6,200.2 983.7,204.5 989.9,208.8 994.0,212.3 994.8,218.0 941.3,218.0 941.3,192.2 939.8,190.1 937.3,187.9 940.2,182.9 939.8,176.8 937.4,168.6 937.2,158.1 935.7,149.0 934.2,142.8 933.3,136.6ZM941.3,218.0 994.8,218.0 995.5,225.0 1000.7,232.0 1004.2,237.5 1005.7,241.6 1003.7,245.0 997.5,247.1 996.5,250.5 997.5,253.2 996.0,257.2 992.7,260.9 989.6,257.8 948.3,258.2 947.5,252.5 946.7,247.1 944.9,241.6 942.3,236.1 941.3,232.1 939.8,228.5 941.3,218.0ZM948.3,258.2 989.6,257.8 992.7,260.9 992.4,265.9 995.0,269.9 998.6,274.6 1001.1,279.2 1005.2,281.2 1005.4,284.0 1004.2,288.4 1007.7,292.3 1011.8,297.4 1012.9,301.9 1015.7,305.1 1014.4,307.7 1012.3,311.5 1010.3,317.9 1003.5,317.9 1006.4,314.1 1005.7,311.5 960.0,311.5 960.1,305.1 960.2,277.2 956.6,273.9 957.2,271.9 956.1,268.6 953.0,265.9 948.3,258.2ZM960.0,311.5 1005.7,311.5 1006.4,314.1 1003.5,317.9 1010.3,317.9 1008.3,322.9 1006.7,328.5 1004.1,330.4 1001.6,335.4 998.0,340.3 996.0,346.5 995.4,354.8 965.9,354.8 965.9,348.3 961.5,347.2 962.0,325.5 960.0,311.5ZM965.9,354.8 995.4,354.8 995.0,359.9 997.5,363.0 996.5,366.0 994.0,369.6 992.9,372.5 991.4,376.2 990.5,379.2 1010.0,379.2 1011.3,384.5 1011.3,388.9 1009.8,390.8 1013.4,392.2 1014.4,394.6 1015.4,398.7 1017.5,401.0 1015.9,403.0 1013.4,403.6 1010.3,399.3 1006.7,401.6 1005.2,401.8 1002.6,402.2 999.1,402.2 994.5,399.8 992.9,396.9 988.8,396.9 983.7,396.3 979.6,395.7 974.5,393.7 968.0,394.6 969.2,389.8 969.4,385.1 970.4,380.4 971.0,376.8 970.4,372.6 968.2,370.2 965.9,367.3 965.9,354.8ZM994.8,218.0 994.0,212.3 989.9,208.8 983.7,204.5 978.6,200.2 979.1,195.1 978.1,190.1 979.6,187.9 983.7,181.3 983.8,172.2 985.8,171.3 992.9,170.1 998.0,167.9 999.6,171.6 1002.9,173.6 1006.2,177.6 1016.4,180.5 1020.5,182.0 1026.7,184.9 1029.2,190.8 1031.8,195.1 1030.2,198.7 1027.7,203.1 1030.2,201.6 1033.8,198.0 1037.9,192.2 1038.9,193.7 1035.9,198.0 1032.8,203.8 1032.3,209.5 1030.7,215.2 1028.7,222.2 1028.7,226.4 1029.7,232.0 1000.7,232.0 995.5,225.0 994.8,218.0ZM1000.7,232.0 1029.7,232.0 1031.3,238.9 1032.6,243.0 1032.5,274.6 1031.8,277.9 1032.8,281.8 1031.3,285.7 1028.2,290.3 1027.2,294.8 1026.1,299.4 1023.1,303.9 1019.5,303.2 1015.7,305.1 1012.9,301.9 1011.8,297.4 1007.7,292.3 1004.2,288.4 1005.4,284.0 1005.2,281.2 1001.1,279.2 998.6,274.6 995.0,269.9 992.4,265.9 992.7,260.9 996.0,257.2 997.5,253.2 996.5,250.5 997.5,247.1 1003.7,245.0 1005.7,241.6 1004.2,237.5 1000.7,232.0ZM1039.7,242.2 1060.3,242.2 1060.4,243.0 1074.2,242.6 1077.2,238.2 1077.8,234.7 1080.3,233.3 1083.9,230.6 1084.4,225.0 1083.4,216.6 1082.4,210.9 1078.8,210.2 1075.7,211.6 1071.6,216.6 1069.6,215.2 1071.1,210.9 1075.2,206.6 1075.7,199.5 1074.7,195.9 1070.1,191.5 1065.5,187.1 1060.9,185.2 1058.3,186.4 1057.3,192.2 1054.3,195.1 1052.2,194.4 1053.2,198.7 1050.7,197.3 1047.6,198.0 1045.6,202.3 1044.5,208.1 1043.0,215.9 1045.6,223.6 1046.1,230.6 1043.5,236.8 1039.7,242.2ZM1002.9,173.6 1008.3,170.1 1013.4,169.4 1018.0,167.2 1022.6,163.4 1028.7,160.4 1025.6,164.1 1023.6,167.9 1027.7,168.6 1031.8,173.9 1036.9,175.4 1042.0,175.4 1046.1,172.4 1052.2,171.6 1058.3,170.9 1060.4,174.6 1064.5,174.6 1067.5,177.6 1069.6,180.5 1074.2,181.7 1070.6,182.4 1064.5,182.7 1061.2,183.9 1054.3,180.5 1049.1,182.7 1045.1,184.2 1042.0,187.1 1037.9,185.7 1034.8,188.6 1031.8,195.1 1029.2,190.8 1026.7,184.9 1020.5,182.0 1016.4,180.5 1006.2,177.6 1002.9,173.6ZM1032.6,243.0 1035.9,244.1 1039.7,242.2 1060.3,242.2 1060.2,277.9 1059.4,281.8 1056.3,283.1 1053.7,283.1 1050.7,288.6 1048.1,291.6 1045.1,290.3 1043.0,292.9 1039.9,292.9 1036.9,295.2 1032.1,292.6 1027.2,294.8 1028.2,290.3 1031.3,285.7 1032.8,281.8 1031.8,277.9 1032.5,274.6 1032.6,243.0ZM1060.3,242.2 1060.4,243.0 1074.2,242.6 1078.3,244.3 1081.8,246.4 1085.9,246.8 1092.1,245.7 1096.2,242.3 1100.2,240.2 1104.1,239.1 1104.1,257.4 1103.3,261.3 1102.1,265.1 1100.8,269.9 1097.2,273.9 1093.5,275.6 1091.6,278.5 1091.0,280.5 1087.7,281.3 1087.0,284.4 1084.4,286.8 1082.9,286.9 1080.8,284.4 1078.8,282.7 1074.7,284.2 1071.1,283.8 1066.5,281.8 1063.4,277.9 1060.2,277.9 1060.3,242.2ZM1060.2,277.9 1063.4,277.9 1066.5,281.8 1071.1,283.8 1074.7,284.2 1078.8,282.7 1080.8,284.4 1082.9,286.9 1082.9,290.0 1084.7,293.6 1085.9,296.5 1089.3,298.2 1085.4,301.7 1081.8,303.9 1077.8,307.1 1071.8,310.2 1058.3,310.0 1043.0,309.7 1027.0,309.2 1027.0,311.5 1012.3,311.5 1014.4,307.7 1015.7,305.1 1019.5,303.2 1023.1,303.9 1026.1,299.4 1027.2,294.8 1032.1,292.6 1036.9,295.2 1039.9,292.9 1043.0,292.9 1045.1,290.3 1048.1,291.6 1050.7,288.6 1053.7,283.1 1056.3,283.1 1059.4,281.8 1060.2,277.9ZM1012.3,311.5 1027.0,311.5 1027.0,309.2 1043.0,309.7 1058.3,310.0 1071.8,310.2 1092.3,310.4 1090.0,314.1 1088.5,316.6 1082.9,318.5 1077.8,321.0 1073.7,323.4 1068.6,324.8 1065.5,327.3 1065.3,330.5 1052.2,330.7 1025.6,330.4 1004.1,330.4 1006.7,328.5 1008.3,322.9 1010.3,317.9 1012.3,311.5ZM1004.1,330.4 1025.6,330.4 1022.9,368.4 1023.6,386.4 1018.5,386.3 1013.9,387.5 1011.3,388.9 1011.3,384.5 1010.0,379.2 990.5,379.2 991.4,376.2 992.9,372.5 994.0,369.6 996.5,366.0 997.5,363.0 995.0,359.9 995.4,354.8 996.0,346.5 998.0,340.3 1001.6,335.4 1004.1,330.4ZM1025.6,330.4 1052.2,330.7 1056.5,356.8 1058.8,362.3 1057.8,367.2 1057.3,372.0 1058.3,379.2 1031.8,379.2 1033.3,382.7 1032.6,387.7 1027.7,388.3 1028.2,383.9 1027.2,383.3 1026.7,386.9 1023.6,386.4 1022.9,368.4 1025.6,330.4ZM1052.2,330.7 1065.3,330.5 1077.7,330.4 1075.2,334.1 1079.8,337.2 1082.9,342.8 1087.0,347.1 1089.5,349.6 1093.1,353.8 1094.6,358.1 1097.7,363.6 1100.5,366.8 1097.7,372.0 1096.2,376.8 1094.6,382.6 1089.5,381.5 1088.5,385.1 1087.0,384.3 1059.8,382.6 1058.3,379.2 1057.3,372.0 1057.8,367.2 1058.8,362.3 1056.5,356.8 1052.2,330.7ZM1032.6,387.7 1033.3,382.7 1031.8,379.2 1058.3,379.2 1059.8,382.6 1087.0,384.3 1088.5,385.1 1089.5,381.5 1094.6,382.6 1095.1,386.3 1095.6,391.0 1097.2,395.7 1099.2,400.4 1101.3,405.1 1103.8,409.2 1103.3,413.2 1105.4,419.0 1107.4,423.6 1108.4,427.1 1108.9,431.6 1107.9,439.6 1106.4,441.9 1105.4,445.8 1102.3,447.0 1098.7,447.0 1097.2,444.1 1094.1,439.0 1091.0,436.2 1088.0,431.6 1085.9,427.6 1083.9,423.6 1082.4,419.0 1080.8,414.4 1081.8,409.8 1081.3,404.5 1077.8,400.4 1074.7,395.7 1072.1,392.2 1068.6,389.8 1065.5,390.4 1062.4,392.8 1058.3,394.3 1054.8,394.8 1054.3,391.6 1050.2,388.7 1046.1,386.9 1043.0,386.3 1035.9,387.1 1032.6,387.7ZM1077.7,330.4 1080.8,329.4 1085.4,328.0 1098.7,328.5 1099.9,329.2 1101.5,332.6 1112.7,332.9 1124.3,344.5 1119.7,349.0 1117.6,352.6 1113.5,356.3 1110.5,358.1 1105.4,361.1 1102.3,364.2 1100.5,366.8 1097.7,363.6 1094.6,358.1 1093.1,353.8 1089.5,349.6 1087.0,347.1 1082.9,342.8 1079.8,337.2 1075.2,334.1 1077.7,330.4ZM1092.3,310.4 1090.0,314.1 1088.5,316.6 1082.9,318.5 1077.8,321.0 1073.7,323.4 1068.6,324.8 1065.5,327.3 1065.3,330.5 1077.7,330.4 1080.8,329.4 1085.4,328.0 1098.7,328.5 1099.9,329.2 1101.5,332.6 1112.7,332.9 1124.3,344.5 1130.4,344.7 1131.4,340.3 1136.0,336.0 1140.6,334.1 1144.9,335.4 1147.3,331.0 1152.4,327.9 1155.4,327.3 1154.9,322.9 1152.9,316.6 1151.6,310.9 1092.3,310.4ZM1071.8,310.2 1077.8,307.1 1081.8,303.9 1085.4,301.7 1089.3,298.2 1091.6,301.3 1095.1,302.6 1099.2,301.5 1103.3,299.4 1106.4,298.7 1107.4,297.2 1109.4,294.8 1111.0,291.0 1113.5,286.4 1116.6,286.4 1118.6,283.1 1121.2,281.8 1123.7,279.2 1125.8,276.6 1126.3,273.7 1129.4,276.6 1131.6,277.5 1132.6,275.0 1135.0,276.6 1137.5,278.5 1139.6,281.2 1139.6,284.4 1138.1,285.7 1140.1,287.1 1144.2,289.7 1147.3,292.3 1146.2,296.1 1147.3,300.6 1146.2,303.9 1147.3,305.8 1150.3,306.2 1151.6,310.9 1092.3,310.4 1071.8,310.2ZM1151.3,292.9 1153.9,292.8 1158.1,291.9 1154.4,297.4 1151.3,303.2 1150.3,302.6 1151.3,292.9ZM1082.9,286.9 1084.4,286.8 1087.0,284.4 1087.7,281.3 1091.0,280.5 1091.6,278.5 1093.5,275.6 1097.2,273.9 1100.8,269.9 1102.1,265.1 1103.3,261.3 1104.1,257.4 1104.1,269.7 1114.8,269.7 1114.8,276.6 1119.7,273.3 1122.0,270.6 1124.8,272.3 1128.0,269.9 1130.4,271.3 1131.9,272.6 1132.6,275.0 1131.6,277.5 1129.4,276.6 1126.3,273.7 1125.8,276.6 1123.7,279.2 1121.2,281.8 1118.6,283.1 1116.6,286.4 1113.5,286.4 1111.0,291.0 1109.4,294.8 1107.4,297.2 1106.4,298.7 1103.3,299.4 1099.2,301.5 1095.1,302.6 1091.6,301.3 1089.3,298.2 1085.9,296.5 1084.7,293.6 1082.9,290.0 1082.9,286.9ZM1114.8,269.7 1152.5,269.7 1153.4,286.3 1160.0,286.3 1158.1,291.9 1153.9,292.8 1151.3,292.9 1148.3,288.4 1147.3,283.1 1149.3,279.2 1150.8,273.9 1149.3,271.9 1146.2,275.9 1145.2,279.2 1145.2,283.1 1146.7,288.4 1147.3,292.3 1144.2,289.7 1140.1,287.1 1138.1,285.7 1139.6,284.4 1139.6,281.2 1137.5,278.5 1135.0,276.6 1132.6,275.0 1131.9,272.6 1130.4,271.3 1128.0,269.9 1124.8,272.3 1122.0,270.6 1119.7,273.3 1114.8,276.6 1114.8,269.7ZM1152.5,269.7 1154.4,268.1 1156.2,268.6 1154.9,271.3 1155.4,273.3 1156.5,276.6 1157.5,279.9 1159.7,282.1 1160.0,286.3 1153.4,286.3 1152.5,269.7ZM1104.1,239.1 1111.9,235.1 1111.9,238.9 1156.9,238.9 1159.5,241.6 1161.0,245.7 1163.6,247.6 1159.5,252.5 1159.0,255.9 1160.0,259.9 1163.1,263.3 1161.0,265.3 1159.0,266.6 1156.2,268.6 1154.4,268.1 1152.5,269.7 1114.8,269.7 1104.1,269.7 1104.1,257.4 1104.1,239.1ZM1156.2,268.6 1159.0,266.6 1161.0,265.3 1163.1,263.3 1160.0,259.9 1159.0,255.9 1159.5,252.5 1163.6,247.6 1171.8,252.5 1170.6,256.6 1168.2,258.6 1170.8,259.9 1170.2,264.6 1169.7,269.3 1166.7,274.6 1163.1,279.2 1161.0,280.1 1159.5,276.6 1157.5,275.2 1155.4,273.3 1154.9,271.3 1156.2,268.6ZM1111.9,235.1 1118.6,229.2 1120.7,226.7 1119.1,223.6 1119.0,221.2 1124.8,219.8 1129.9,219.8 1134.0,221.2 1140.1,221.1 1144.2,218.7 1148.3,217.3 1148.3,212.3 1146.7,209.5 1150.3,206.6 1152.4,204.5 1157.5,198.7 1163.1,196.6 1177.4,196.4 1177.4,203.8 1176.9,210.9 1176.9,216.6 1178.4,217.1 1178.3,228.5 1175.9,238.2 1175.4,248.4 1176.1,249.8 1174.2,252.5 1173.8,254.3 1173.0,255.2 1175.9,253.9 1181.0,253.2 1184.6,252.8 1188.1,251.8 1192.6,251.6 1186.1,254.5 1181.0,256.6 1175.9,257.9 1171.3,258.3 1170.6,256.6 1171.8,252.5 1163.6,247.6 1161.0,245.7 1159.5,241.6 1156.9,238.9 1111.9,238.9 1111.9,235.1ZM1175.9,238.2 1193.2,238.6 1192.7,248.2 1188.1,248.8 1182.0,249.1 1178.9,250.5 1174.2,252.5 1176.1,249.8 1175.4,248.4 1175.9,238.2ZM1193.2,238.6 1197.5,238.6 1197.5,240.2 1200.1,243.7 1200.2,245.7 1198.4,246.4 1196.3,247.5 1192.7,248.2 1193.2,238.6ZM1178.3,228.5 1186.5,228.8 1198.4,229.2 1200.9,227.5 1203.3,226.8 1205.5,229.9 1202.4,232.7 1201.4,234.7 1205.0,238.2 1205.5,240.2 1206.5,242.2 1210.6,242.3 1211.6,240.9 1211.1,238.9 1209.6,237.9 1211.1,238.0 1212.1,240.2 1212.4,243.4 1208.6,244.1 1205.0,245.3 1202.4,244.3 1200.2,245.7 1200.1,243.7 1197.5,240.2 1197.5,238.6 1193.2,238.6 1175.9,238.2 1178.3,228.5ZM1203.2,247.8 1207.0,247.8 1206.5,246.4 1203.5,246.3 1203.2,247.8ZM1209.1,249.1 1212.1,249.1 1211.6,248.2 1209.6,248.4 1209.1,249.1ZM1177.4,196.4 1196.3,196.4 1195.3,200.2 1192.2,205.2 1190.7,209.5 1188.1,215.2 1187.1,222.2 1186.5,228.8 1178.3,228.5 1178.4,217.1 1176.9,216.6 1176.9,210.9 1177.4,203.8 1177.4,196.4ZM1196.3,196.4 1200.6,192.2 1201.1,203.8 1201.6,210.9 1201.7,220.1 1204.5,224.0 1203.3,226.8 1200.9,227.5 1198.4,229.2 1186.5,228.8 1187.1,222.2 1188.1,215.2 1190.7,209.5 1192.2,205.2 1195.3,200.2 1196.3,196.4ZM1204.5,224.0 1207.6,220.1 1209.6,216.6 1213.7,213.7 1218.8,211.6 1221.9,209.5 1223.9,204.5 1227.0,206.6 1230.0,206.6 1234.1,204.5 1238.2,202.3 1242.3,199.5 1242.8,199.2 1240.8,194.4 1237.7,187.9 1234.1,186.4 1234.3,166.3 1230.0,161.9 1225.9,163.4 1221.3,160.4 1219.5,160.2 1211.6,171.6 1208.6,181.3 1208.6,183.5 1203.5,190.8 1200.6,192.2 1201.1,203.8 1201.6,210.9 1201.7,220.1 1204.5,224.0Z" fill="none" stroke="rgba(95,100,108,0.34)" stroke-width="1" stroke-linejoin="round"/>
<path d="M672.8,149.7 674.1,153.6 675.6,157.4 675.8,161.1 674.1,163.8 671.0,165.7" fill="none" stroke="rgba(105,110,115,0.45)" stroke-width="2.2" stroke-linecap="round" stroke-linejoin="round"/>
<path d="M672.8,149.7 674.1,153.6 675.6,157.4 675.8,161.1 674.1,163.8 671.0,165.7" fill="none" stroke="#fff" stroke-width="1.3" stroke-linecap="round" stroke-linejoin="round"/>
<path d="M673.2,153.6 671.5,157.4 669.2,160.8 670.5,161.4" fill="none" stroke="rgba(105,110,115,0.45)" stroke-width="1.8" stroke-linecap="round" stroke-linejoin="round"/>
<path d="M673.2,153.6 671.5,157.4 669.2,160.8 670.5,161.4" fill="none" stroke="#fff" stroke-width="0.9" stroke-linecap="round" stroke-linejoin="round"/>
<path d="M674.6,146.7 675.9,150.5 676.6,152.8" fill="none" stroke="rgba(105,110,115,0.45)" stroke-width="1.7" stroke-linecap="round" stroke-linejoin="round"/>
<path d="M674.6,146.7 675.9,150.5 676.6,152.8" fill="none" stroke="#fff" stroke-width="0.8" stroke-linecap="round" stroke-linejoin="round"/>
<path d="M672.5,139.7 673.9,143.6 673.0,146.7" fill="none" stroke="rgba(105,110,115,0.45)" stroke-width="1.7" stroke-linecap="round" stroke-linejoin="round"/>
<path d="M672.5,139.7 673.9,143.6 673.0,146.7" fill="none" stroke="#fff" stroke-width="0.8" stroke-linecap="round" stroke-linejoin="round"/>
<path d="M675.3,291.2 676.1,294.2 677.6,297.2 679.4,299.1" fill="none" stroke="rgba(105,110,115,0.45)" stroke-width="2.5" stroke-linecap="round" stroke-linejoin="round"/>
<path d="M675.3,291.2 676.1,294.2 677.6,297.2 679.4,299.1" fill="none" stroke="#fff" stroke-width="1.6" stroke-linecap="round" stroke-linejoin="round"/>
<path d="M676.6,291.6 679.2,291.3 681.7,291.2" fill="none" stroke="rgba(105,110,115,0.45)" stroke-width="1.9" stroke-linecap="round" stroke-linejoin="round"/>
<path d="M676.6,291.6 679.2,291.3 681.7,291.2" fill="none" stroke="#fff" stroke-width="1.0" stroke-linecap="round" stroke-linejoin="round"/>
<path d="M1002.6,387.5 1004.2,386.5 1007.2,386.7 1009.5,388.1 1008.3,390.1 1005.2,390.7 1002.9,389.6 1002.6,387.5Z" fill="#fff" stroke="rgba(120,125,130,0.5)" stroke-width="0.6"/>
<path d="M1147.3,329.8 1150.3,329.4 1154.1,327.5 1154.6,326.0 1154.2,321.4 1153.4,320.1 1152.2,321.9 1150.8,324.1 1147.3,326.0 1145.2,327.9 1147.3,329.8Z" fill="#fff" stroke="rgba(120,125,130,0.5)" stroke-width="0.6"/>
<path d="M1143.2,317.2 1148.3,317.9 1152.6,317.6" fill="none" stroke="rgba(105,110,115,0.45)" stroke-width="1.9" stroke-linecap="round" stroke-linejoin="round"/>
<path d="M1143.2,317.2 1148.3,317.9 1152.6,317.6" fill="none" stroke="#fff" stroke-width="1.0" stroke-linecap="round" stroke-linejoin="round"/>
<path d="M1140.1,290.7 1143.2,294.8 1146.7,297.4" fill="none" stroke="rgba(105,110,115,0.45)" stroke-width="1.8" stroke-linecap="round" stroke-linejoin="round"/>
<path d="M1140.1,290.7 1143.2,294.8 1146.7,297.4" fill="none" stroke="#fff" stroke-width="0.9" stroke-linecap="round" stroke-linejoin="round"/>
<path d="M1141.6,298.7 1144.2,300.6 1146.2,302.2" fill="none" stroke="rgba(105,110,115,0.45)" stroke-width="1.8" stroke-linecap="round" stroke-linejoin="round"/>
<path d="M1141.6,298.7 1144.2,300.6 1146.2,302.2" fill="none" stroke="#fff" stroke-width="0.9" stroke-linecap="round" stroke-linejoin="round"/>
<path d="M1139.6,301.9 1143.2,303.6 1146.7,305.4" fill="none" stroke="rgba(105,110,115,0.45)" stroke-width="1.9" stroke-linecap="round" stroke-linejoin="round"/>
<path d="M1139.6,301.9 1143.2,303.6 1146.7,305.4" fill="none" stroke="#fff" stroke-width="1.0" stroke-linecap="round" stroke-linejoin="round"/>
<path d="M1140.1,283.8 1141.1,287.7 1144.2,289.7 1146.7,291.6" fill="none" stroke="rgba(105,110,115,0.45)" stroke-width="1.8" stroke-linecap="round" stroke-linejoin="round"/>
<path d="M1140.1,283.8 1141.1,287.7 1144.2,289.7 1146.7,291.6" fill="none" stroke="#fff" stroke-width="0.9" stroke-linecap="round" stroke-linejoin="round"/>
<path d="M1027.5,383.0 1027.7,385.7 1027.9,387.7" fill="none" stroke="rgba(105,110,115,0.45)" stroke-width="2.2" stroke-linecap="round" stroke-linejoin="round"/>
<path d="M1027.5,383.0 1027.7,385.7 1027.9,387.7" fill="none" stroke="#fff" stroke-width="1.3" stroke-linecap="round" stroke-linejoin="round"/>
<path d="M1081.3,419.0 1083.4,416.7 1084.4,415.0" fill="none" stroke="rgba(105,110,115,0.45)" stroke-width="2.1" stroke-linecap="round" stroke-linejoin="round"/>
<path d="M1081.3,419.0 1083.4,416.7 1084.4,415.0" fill="none" stroke="#fff" stroke-width="1.2" stroke-linecap="round" stroke-linejoin="round"/>
<text x="695.5" y="164.3">9</text>
<text x="805.2" y="172.1">8</text>
<text x="904.8" y="163.9">7</text>
<text x="695.5" y="215.4">8</text>
<text x="756.5" y="214.7">8</text>
<text x="903.0" y="209.1">9</text>
<text x="828.7" y="229.5">7</text>
<text x="907.9" y="250.6">8</text>
<text x="733.7" y="279.9">7</text>
<text x="785.3" y="279.9">8</text>
<text x="849.3" y="283.9">10</text>
<text x="920.1" y="290.4">8</text>
<text x="964.2" y="182.7">9</text>
<text x="1007.3" y="209.1">10</text>
<text x="971.5" y="243.2">10</text>
<text x="1062.8" y="228.5">13</text>
<text x="1219.2" y="194.1">9</text>
<text x="1183.9" y="213.5">8</text>
<text x="1196.7" y="220.7">10</text>
<text x="1156.0" y="229.7">13</text>
<text x="1184.6" y="248.1">14</text>
<text x="1131.3" y="259.5">14</text>
<text x="1166.0" y="268.7">16</text>
<text x="1015.1" y="271.1">11</text>
<text x="1045.4" y="271.1">11</text>
<text x="1078.8" y="267.5">11</text>
<text x="1102.3" y="289.0">9</text>
<text x="1156.3" y="288.5">11</text>
<text x="981.7" y="294.1">7</text>
<text x="1059.4" y="299.4">9</text>
<text x="1127.7" y="299.4">11</text>
<text x="703.3" y="307.2">10</text>
<text x="787.2" y="341.9">6</text>
<text x="843.9" y="341.9">10</text>
<text x="930.6" y="328.7">11</text>
<text x="912.6" y="380.5">10</text>
<text x="1046.0" y="325.9">9</text>
<text x="1109.3" y="328.7">10</text>
<text x="981.6" y="338.3">9</text>
<text x="1009.2" y="353.6">9</text>
<text x="1040.9" y="362.2">10</text>
<text x="1074.1" y="369.7">10</text>
<text x="984.4" y="387.3">11</text>
<text x="1093.6" y="413.3">9</text>
</g>
<g class="lab">
<path d="M58.7,496.5 117.2,496.5 117.2,535.7 118.1,539.0 118.4,541.9 97.4,541.9 94.6,542.9 91.0,543.1 86.9,545.6 81.8,546.3 76.7,547.0 74.7,547.8 71.6,546.3 67.5,547.0 63.9,548.5 58.8,547.0 58.3,543.4 56.3,540.4 53.2,539.7 50.7,538.2 47.1,539.0 45.5,538.1 45.2,533.0 45.0,528.5 44.5,526.3 42.5,519.5 39.9,513.5 38.6,509.3 38.7,506.1 43.0,507.8 47.1,509.5 52.2,510.1 55.3,510.4 58.8,510.1 60.4,505.8 61.4,500.4 58.7,496.5Z" fill="#a3cae4"/>
<path d="M45.5,538.1 47.1,539.0 50.7,538.2 53.2,539.7 56.3,540.4 58.3,543.4 58.8,547.0 63.9,548.5 67.5,547.0 71.6,546.3 74.7,547.8 76.7,547.0 81.8,546.3 86.9,545.6 91.0,543.1 94.6,542.9 97.4,541.9 118.4,541.9 120.2,544.1 122.9,547.5 121.7,552.1 119.1,556.5 117.1,560.1 115.4,565.1 117.1,570.8 117.3,573.6 117.3,598.8 86.9,598.8 43.9,598.8 41.8,592.6 40.3,587.1 42.0,582.1 44.0,576.5 44.5,570.8 45.0,563.7 46.1,556.5 46.6,549.2 46.6,541.9 45.5,538.1Z" fill="#b0d3e7"/>
<path d="M43.9,598.8 86.9,598.8 86.9,639.1 141.8,690.3 144.2,695.3 146.9,699.0 143.1,701.5 140.9,706.4 143.1,710.1 143.1,715.3 140.9,718.4 116.4,720.7 115.0,716.8 113.5,712.5 108.4,707.6 106.4,705.9 103.3,705.8 102.3,702.7 99.2,702.5 95.1,700.9 92.0,698.0 86.9,697.1 82.1,697.1 80.6,695.3 80.3,688.4 76.7,684.0 71.6,677.8 67.0,670.8 68.5,667.6 66.5,665.7 62.4,662.5 61.4,658.6 61.4,654.7 56.3,652.2 56.3,648.3 52.2,644.3 48.6,639.1 48.1,631.2 45.5,625.8 42.0,620.0 44.5,613.8 45.0,607.0 44.0,602.2 43.9,598.8Z" fill="#aacee6"/>
<path d="M86.9,598.8 117.3,598.8 147.8,598.8 147.7,665.0 147.7,675.3 144.2,676.5 140.7,677.5 141.3,679.6 142.4,684.0 141.8,690.3 86.9,639.1 86.9,598.8Z" fill="#dedcd6"/>
<path d="M118.4,541.9 118.1,539.0 117.2,535.7 117.2,496.5 127.3,496.5 127.3,512.2 130.7,516.5 130.9,520.3 135.0,523.3 138.0,527.8 142.3,532.6 143.7,532.3 144.7,541.9 143.1,548.3 148.8,546.4 150.3,547.8 153.9,555.8 155.9,559.4 160.5,565.1 165.6,563.0 173.8,563.0 174.8,560.4 178.4,564.0 178.4,598.8 147.8,598.8 117.3,598.8 117.3,573.6 117.1,570.8 115.4,565.1 117.1,560.1 119.1,556.5 121.7,552.1 122.9,547.5 120.2,544.1 118.4,541.9Z" fill="#c8d8e1"/>
<path d="M127.3,496.5 249.9,496.5 249.9,542.8 249.9,556.5 178.4,556.5 178.4,564.0 174.8,560.4 173.8,563.0 165.6,563.0 160.5,565.1 155.9,559.4 153.9,555.8 150.3,547.8 148.8,546.4 143.1,548.3 144.7,541.9 143.7,532.3 142.3,532.6 138.0,527.8 135.0,523.3 130.9,520.3 130.7,516.5 127.3,512.2 127.3,496.5Z" fill="#b0d3e7"/>
<path d="M178.4,564.0 178.4,556.5 249.9,556.5 249.9,584.9 249.9,612.4 198.8,612.4 178.4,612.4 178.4,598.8 178.4,564.0Z" fill="#b9d4e4"/>
<path d="M147.8,598.8 178.4,598.8 178.4,612.4 198.8,612.4 198.8,665.0 147.7,665.0 147.8,598.8Z" fill="#b0d3e7"/>
<path d="M147.7,665.0 198.8,665.0 198.8,735.1 178.2,735.1 140.0,721.2 140.9,718.4 143.1,715.3 143.1,710.1 140.9,706.4 143.1,701.5 146.9,699.0 144.2,695.3 141.8,690.3 142.4,684.0 141.3,679.6 140.7,677.5 144.2,676.5 147.7,675.3 147.7,665.0Z" fill="#edd8ba"/>
<path d="M198.8,612.4 249.9,612.4 270.4,612.4 270.4,625.8 270.4,665.0 260.7,665.0 198.8,665.0 198.8,612.4Z" fill="#aacee6"/>
<path d="M198.8,665.0 260.7,665.0 260.7,671.4 260.1,727.1 223.7,727.1 224.6,729.7 207.4,729.7 207.4,735.1 198.8,735.1 198.8,665.0Z" fill="#b2d2e6"/>
<path d="M249.9,496.5 319.6,496.5 320.5,502.7 322.0,508.9 323.5,518.0 323.7,528.5 326.1,536.7 326.5,542.8 249.9,542.8 249.9,496.5Z" fill="#c8d8e1"/>
<path d="M249.9,542.8 326.5,542.8 323.6,547.8 326.1,550.0 327.6,552.1 327.6,577.9 326.1,588.4 327.6,592.0 325.6,591.2 322.0,588.1 316.9,587.0 310.8,587.3 306.7,584.9 249.9,584.9 249.9,556.5 249.9,542.8Z" fill="#a3cae4"/>
<path d="M249.9,584.9 306.7,584.9 310.8,587.3 316.9,587.0 322.0,588.1 325.6,591.2 327.6,592.0 328.6,596.0 331.2,601.5 333.0,607.0 333.8,612.4 334.6,618.1 339.3,625.8 270.4,625.8 270.4,612.4 249.9,612.4 249.9,584.9Z" fill="#b0d3e7"/>
<path d="M270.4,625.8 339.3,625.8 342.4,628.5 343.5,631.8 342.9,633.8 346.5,637.1 346.4,665.0 270.4,665.0 270.4,625.8Z" fill="#aacee6"/>
<path d="M260.7,665.0 270.4,665.0 346.4,665.0 346.3,671.4 348.3,685.4 347.8,707.1 343.5,705.2 340.4,703.3 337.3,704.2 334.3,704.6 330.2,705.8 326.1,704.6 323.0,704.6 320.0,705.8 316.9,704.2 312.3,703.9 310.8,701.5 305.6,700.9 302.1,700.2 299.5,699.0 295.4,698.0 291.3,695.8 291.3,671.4 260.7,671.4 260.7,665.0Z" fill="#aacee6"/>
<path d="M260.7,671.4 291.3,671.4 291.3,695.8 295.4,698.0 299.5,699.0 302.1,700.2 305.6,700.9 310.8,701.5 312.3,703.9 316.9,704.2 320.0,705.8 323.0,704.6 326.1,704.6 330.2,705.8 334.3,704.6 337.3,704.2 340.4,703.3 343.5,705.2 347.8,707.1 352.2,708.2 352.2,714.7 352.2,727.2 354.5,730.1 356.7,732.5 357.3,736.7 356.7,740.3 355.7,745.0 355.5,749.7 354.3,754.5 349.1,756.2 345.0,758.6 342.4,760.3 339.4,763.3 334.3,766.8 329.2,769.7 324.0,772.6 322.0,775.5 319.4,778.9 318.4,783.5 317.9,788.1 318.9,792.7 320.5,797.7 317.4,798.4 314.8,796.7 309.7,796.4 305.6,794.4 300.5,792.1 299.0,788.1 297.0,785.2 296.4,780.1 292.9,776.6 288.3,771.4 286.2,766.8 283.7,761.5 281.1,758.6 277.0,753.6 270.9,753.1 267.3,752.7 263.7,755.1 261.7,759.7 259.1,763.0 256.1,762.1 252.5,759.2 248.4,756.8 245.3,755.1 243.3,750.9 240.7,744.4 236.2,740.9 230.0,734.4 227.0,731.7 224.6,729.7 223.7,727.1 260.1,727.1 260.7,671.4Z" fill="#b0d3e7"/>
<path d="M319.6,496.5 340.9,496.5 340.9,490.6 342.9,490.7 344.5,493.4 345.5,499.6 346.5,500.8 350.6,501.9 354.7,503.9 358.8,502.7 363.4,502.4 367.0,505.0 370.0,506.6 373.1,507.3 378.2,511.2 383.3,508.9 385.4,510.4 393.5,510.4 398.6,511.9 390.5,515.7 383.3,521.8 377.2,527.1 372.1,531.2 370.1,532.1 370.0,541.2 365.9,547.8 364.4,550.0 365.4,555.0 364.9,560.1 370.0,564.4 376.2,568.7 380.3,572.2 381.1,577.9 327.6,577.9 327.6,552.1 326.1,550.0 323.6,547.8 326.5,542.8 326.1,536.7 323.7,528.5 323.5,518.0 322.0,508.9 320.5,502.7 319.6,496.5Z" fill="#a3cae4"/>
<path d="M327.6,577.9 381.1,577.9 381.8,584.9 387.0,591.9 390.5,597.4 392.0,601.5 390.0,604.9 383.8,607.0 382.8,610.4 383.8,613.1 382.3,617.1 379.0,620.8 375.9,617.7 334.6,618.1 333.8,612.4 333.0,607.0 331.2,601.5 328.6,596.0 327.6,592.0 326.1,588.4 327.6,577.9Z" fill="#a3cae4"/>
<path d="M334.6,618.1 375.9,617.7 379.0,620.8 378.7,625.8 381.3,629.8 384.9,634.5 387.4,639.1 391.5,641.1 391.7,643.9 390.5,648.3 394.0,652.2 398.1,657.3 399.2,661.8 402.0,665.0 400.7,667.6 398.6,671.4 396.6,677.8 389.8,677.8 392.7,674.0 392.0,671.4 346.3,671.4 346.4,665.0 346.5,637.1 342.9,633.8 343.5,631.8 342.4,628.5 339.3,625.8 334.6,618.1Z" fill="#c3d6e0"/>
<path d="M346.3,671.4 392.0,671.4 392.7,674.0 389.8,677.8 396.6,677.8 394.6,682.8 393.0,688.4 390.4,690.3 387.9,695.3 384.3,700.2 382.3,706.4 381.7,714.7 352.2,714.7 352.2,708.2 347.8,707.1 348.3,685.4 346.3,671.4Z" fill="#dedcd6"/>
<path d="M352.2,714.7 381.7,714.7 381.3,719.8 383.8,722.9 382.8,725.9 380.3,729.5 379.2,732.4 377.7,736.1 376.8,739.1 396.3,739.1 397.6,744.4 397.6,748.8 396.1,750.7 399.7,752.1 400.7,754.5 401.7,758.6 403.8,760.9 402.2,762.9 399.7,763.5 396.6,759.2 393.0,761.5 391.5,761.7 388.9,762.1 385.4,762.1 380.8,759.7 379.2,756.8 375.1,756.8 370.0,756.2 365.9,755.6 360.8,753.6 354.3,754.5 355.5,749.7 355.7,745.0 356.7,740.3 357.3,736.7 356.7,732.5 354.5,730.1 352.2,727.2 352.2,714.7Z" fill="#b0d3e7"/>
<path d="M381.1,577.9 380.3,572.2 376.2,568.7 370.0,564.4 364.9,560.1 365.4,555.0 364.4,550.0 365.9,547.8 370.0,541.2 370.1,532.1 372.1,531.2 379.2,530.0 384.3,527.8 385.9,531.5 389.2,533.5 392.5,537.5 402.7,540.4 406.8,541.9 413.0,544.8 415.5,550.7 418.1,555.0 416.5,558.6 414.0,563.0 416.5,561.5 420.1,557.9 424.2,552.1 425.2,553.6 422.2,557.9 419.1,563.7 418.6,569.4 417.0,575.1 415.0,582.1 415.0,586.3 416.0,591.9 387.0,591.9 381.8,584.9 381.1,577.9Z" fill="#9dc7e2"/>
<path d="M387.0,591.9 416.0,591.9 417.6,598.8 418.9,602.9 418.8,634.5 418.1,637.8 419.1,641.7 417.6,645.6 414.5,650.2 413.5,654.7 412.4,659.3 409.4,663.8 405.8,663.1 402.0,665.0 399.2,661.8 398.1,657.3 394.0,652.2 390.5,648.3 391.7,643.9 391.5,641.1 387.4,639.1 384.9,634.5 381.3,629.8 378.7,625.8 379.0,620.8 382.3,617.1 383.8,613.1 382.8,610.4 383.8,607.0 390.0,604.9 392.0,601.5 390.5,597.4 387.0,591.9Z" fill="#9dc7e2"/>
<path d="M426.0,602.1 446.6,602.1 446.7,602.9 460.5,602.5 463.5,598.1 464.1,594.6 466.6,593.2 470.2,590.5 470.7,584.9 469.7,576.5 468.7,570.8 465.1,570.1 462.0,571.5 457.9,576.5 455.9,575.1 457.4,570.8 461.5,566.5 462.0,559.4 461.0,555.8 456.4,551.4 451.8,547.0 447.2,545.1 444.6,546.3 443.6,552.1 440.6,555.0 438.5,554.3 439.5,558.6 437.0,557.2 433.9,557.9 431.9,562.2 430.8,568.0 429.3,575.8 431.9,583.5 432.4,590.5 429.8,596.7 426.0,602.1ZM389.2,533.5 394.6,530.0 399.7,529.3 404.3,527.1 408.9,523.3 415.0,520.3 411.9,524.0 409.9,527.8 414.0,528.5 418.1,533.8 423.2,535.3 428.3,535.3 432.4,532.3 438.5,531.5 444.6,530.8 446.7,534.5 450.8,534.5 453.8,537.5 455.9,540.4 460.5,541.6 456.9,542.3 450.8,542.6 447.5,543.8 440.6,540.4 435.4,542.6 431.4,544.1 428.3,547.0 424.2,545.6 421.1,548.5 418.1,555.0 415.5,550.7 413.0,544.8 406.8,541.9 402.7,540.4 392.5,537.5 389.2,533.5Z" fill="#98c3e0"/>
<path d="M418.9,602.9 422.2,604.0 426.0,602.1 446.6,602.1 446.5,637.8 445.7,641.7 442.6,643.0 440.0,643.0 437.0,648.5 434.4,651.5 431.4,650.2 429.3,652.8 426.2,652.8 423.2,655.1 418.4,652.5 413.5,654.7 414.5,650.2 417.6,645.6 419.1,641.7 418.1,637.8 418.8,634.5 418.9,602.9Z" fill="#a3cae4"/>
<path d="M446.6,602.1 446.7,602.9 460.5,602.5 464.6,604.2 468.1,606.3 472.2,606.7 478.4,605.6 482.5,602.2 486.5,600.1 490.4,599.0 490.4,617.3 489.6,621.2 488.4,625.0 487.1,629.8 483.5,633.8 479.8,635.5 477.9,638.4 477.3,640.4 474.0,641.2 473.3,644.3 470.7,646.7 469.2,646.8 467.1,644.3 465.1,642.6 461.0,644.1 457.4,643.7 452.8,641.7 449.7,637.8 446.5,637.8 446.6,602.1Z" fill="#9dc7e2"/>
<path d="M446.5,637.8 449.7,637.8 452.8,641.7 457.4,643.7 461.0,644.1 465.1,642.6 467.1,644.3 469.2,646.8 469.2,649.9 471.0,653.5 472.2,656.4 475.6,658.1 471.7,661.6 468.1,663.8 464.1,667.0 458.1,670.1 444.6,669.9 429.3,669.6 413.3,669.1 413.3,671.4 398.6,671.4 400.7,667.6 402.0,665.0 405.8,663.1 409.4,663.8 412.4,659.3 413.5,654.7 418.4,652.5 423.2,655.1 426.2,652.8 429.3,652.8 431.4,650.2 434.4,651.5 437.0,648.5 440.0,643.0 442.6,643.0 445.7,641.7 446.5,637.8Z" fill="#b0d3e7"/>
<path d="M398.6,671.4 413.3,671.4 413.3,669.1 429.3,669.6 444.6,669.9 458.1,670.1 478.6,670.3 476.3,674.0 474.8,676.5 469.2,678.4 464.1,680.9 460.0,683.3 454.9,684.7 451.8,687.2 451.6,690.4 438.5,690.6 411.9,690.3 390.4,690.3 393.0,688.4 394.6,682.8 396.6,677.8 398.6,671.4Z" fill="#b0d3e7"/>
<path d="M390.4,690.3 411.9,690.3 409.2,728.3 409.9,746.3 404.8,746.2 400.2,747.4 397.6,748.8 397.6,744.4 396.3,739.1 376.8,739.1 377.7,736.1 379.2,732.4 380.3,729.5 382.8,725.9 383.8,722.9 381.3,719.8 381.7,714.7 382.3,706.4 384.3,700.2 387.9,695.3 390.4,690.3Z" fill="#acd0e6"/>
<path d="M411.9,690.3 438.5,690.6 442.8,716.7 445.1,722.2 444.1,727.1 443.6,731.9 444.6,739.1 418.1,739.1 419.6,742.6 418.9,747.6 414.0,748.2 414.5,743.8 413.5,743.2 413.0,746.8 409.9,746.3 409.2,728.3 411.9,690.3Z" fill="#bed4e0"/>
<path d="M438.5,690.6 451.6,690.4 464.0,690.3 461.5,694.0 466.1,697.1 469.2,702.7 473.3,707.0 475.8,709.5 479.4,713.7 480.9,718.0 484.0,723.5 486.8,726.7 484.0,731.9 482.5,736.7 480.9,742.5 475.8,741.4 474.8,745.0 473.3,744.2 446.1,742.5 444.6,739.1 443.6,731.9 444.1,727.1 445.1,722.2 442.8,716.7 438.5,690.6Z" fill="#aacee6"/>
<path d="M418.9,747.6 419.6,742.6 418.1,739.1 444.6,739.1 446.1,742.5 473.3,744.2 474.8,745.0 475.8,741.4 480.9,742.5 481.4,746.2 481.9,750.9 483.5,755.6 485.5,760.3 487.6,765.0 490.1,769.1 489.6,773.1 491.7,778.9 493.7,783.5 494.7,787.0 495.2,791.5 494.2,799.5 492.7,801.8 491.7,805.7 488.6,806.9 485.0,806.9 483.5,804.0 480.4,798.9 477.3,796.1 474.3,791.5 472.2,787.5 470.2,783.5 468.7,778.9 467.1,774.3 468.1,769.7 467.6,764.4 464.1,760.3 461.0,755.6 458.4,752.1 454.9,749.7 451.8,750.3 448.7,752.7 444.6,754.2 441.1,754.7 440.6,751.5 436.5,748.6 432.4,746.8 429.3,746.2 422.2,747.0 418.9,747.6Z" fill="#c8d8e1"/>
<path d="M464.0,690.3 467.1,689.3 471.7,687.9 485.0,688.4 486.2,689.1 487.8,692.5 499.0,692.8 510.6,704.4 506.0,708.9 503.9,712.5 499.8,716.2 496.8,718.0 491.7,721.0 488.6,724.1 486.8,726.7 484.0,723.5 480.9,718.0 479.4,713.7 475.8,709.5 473.3,707.0 469.2,702.7 466.1,697.1 461.5,694.0 464.0,690.3Z" fill="#b0d3e7"/>
<path d="M478.6,670.3 476.3,674.0 474.8,676.5 469.2,678.4 464.1,680.9 460.0,683.3 454.9,684.7 451.8,687.2 451.6,690.4 464.0,690.3 467.1,689.3 471.7,687.9 485.0,688.4 486.2,689.1 487.8,692.5 499.0,692.8 510.6,704.4 516.7,704.6 517.7,700.2 522.3,695.9 526.9,694.0 531.2,695.3 533.6,690.9 538.7,687.8 541.7,687.2 541.2,682.8 539.2,676.5 537.9,670.8 478.6,670.3Z" fill="#b0d3e7"/>
<path d="M458.1,670.1 464.1,667.0 468.1,663.8 471.7,661.6 475.6,658.1 477.9,661.2 481.4,662.5 485.5,661.4 489.6,659.3 492.7,658.6 493.7,657.1 495.7,654.7 497.3,650.9 499.8,646.3 502.9,646.3 504.9,643.0 507.5,641.7 510.0,639.1 512.1,636.5 512.6,633.6 515.7,636.5 517.9,637.4 518.9,634.9 521.3,636.5 523.8,638.4 525.9,641.1 525.9,644.3 524.4,645.6 526.4,647.0 530.5,649.6 533.6,652.2 532.5,656.0 533.6,660.5 532.5,663.8 533.6,665.7 536.6,666.1 537.9,670.8 478.6,670.3 458.1,670.1ZM537.6,652.8 540.2,652.7 544.4,651.8 540.7,657.3 537.6,663.1 536.6,662.5 537.6,652.8Z" fill="#9dc7e2"/>
<path d="M469.2,646.8 470.7,646.7 473.3,644.3 474.0,641.2 477.3,640.4 477.9,638.4 479.8,635.5 483.5,633.8 487.1,629.8 488.4,625.0 489.6,621.2 490.4,617.3 490.4,629.6 501.1,629.6 501.1,636.5 506.0,633.2 508.3,630.5 511.1,632.2 514.3,629.8 516.7,631.2 518.2,632.5 518.9,634.9 517.9,637.4 515.7,636.5 512.6,633.6 512.1,636.5 510.0,639.1 507.5,641.7 504.9,643.0 502.9,646.3 499.8,646.3 497.3,650.9 495.7,654.7 493.7,657.1 492.7,658.6 489.6,659.3 485.5,661.4 481.4,662.5 477.9,661.2 475.6,658.1 472.2,656.4 471.0,653.5 469.2,649.9 469.2,646.8Z" fill="#c8d8e1"/>
<path d="M501.1,629.6 538.8,629.6 539.7,646.2 546.3,646.2 544.4,651.8 540.2,652.7 537.6,652.8 534.6,648.3 533.6,643.0 535.6,639.1 537.1,633.8 535.6,631.8 532.5,635.8 531.5,639.1 531.5,643.0 533.0,648.3 533.6,652.2 530.5,649.6 526.4,647.0 524.4,645.6 525.9,644.3 525.9,641.1 523.8,638.4 521.3,636.5 518.9,634.9 518.2,632.5 516.7,631.2 514.3,629.8 511.1,632.2 508.3,630.5 506.0,633.2 501.1,636.5 501.1,629.6Z" fill="#9dc7e2"/>
<path d="M538.8,629.6 540.7,628.0 542.5,628.5 541.2,631.2 541.7,633.2 542.8,636.5 543.8,639.8 546.0,642.0 546.3,646.2 539.7,646.2 538.8,629.6Z" fill="#98c3e0"/>
<path d="M490.4,599.0 498.2,595.0 498.2,598.8 543.2,598.8 545.8,601.5 547.3,605.6 549.9,607.5 545.8,612.4 545.3,615.8 546.3,619.8 549.4,623.2 547.3,625.2 545.3,626.5 542.5,628.5 540.7,628.0 538.8,629.6 501.1,629.6 490.4,629.6 490.4,617.3 490.4,599.0Z" fill="#94bfde"/>
<path d="M542.5,628.5 545.3,626.5 547.3,625.2 549.4,623.2 546.3,619.8 545.3,615.8 545.8,612.4 549.9,607.5 558.1,612.4 556.9,616.5 554.5,618.5 557.1,619.8 556.5,624.5 556.0,629.2 553.0,634.5 549.4,639.1 547.3,640.0 545.8,636.5 543.8,635.1 541.7,633.2 541.2,631.2 542.5,628.5Z" fill="#86b0d4"/>
<path d="M498.2,595.0 504.9,589.1 507.0,586.6 505.4,583.5 505.3,581.1 511.1,579.7 516.2,579.7 520.3,581.1 526.4,581.0 530.5,578.6 534.6,577.2 534.6,572.2 533.0,569.4 536.6,566.5 538.7,564.4 543.8,558.6 549.4,556.5 563.7,556.3 563.7,563.7 563.2,570.8 563.2,576.5 564.7,577.0 564.6,588.4 562.2,598.1 561.7,608.3 562.4,609.7 560.5,612.4 560.1,614.2 559.3,615.1 562.2,613.8 567.3,613.1 570.9,612.7 574.4,611.7 578.9,611.5 572.4,614.4 567.3,616.5 562.2,617.8 557.6,618.2 556.9,616.5 558.1,612.4 549.9,607.5 547.3,605.6 545.8,601.5 543.2,598.8 498.2,598.8 498.2,595.0Z" fill="#94bfde"/>
<path d="M562.2,598.1 579.5,598.5 579.0,608.1 574.4,608.7 568.3,609.0 565.2,610.4 560.5,612.4 562.4,609.7 561.7,608.3 562.2,598.1Z" fill="#96c0de"/>
<path d="M579.5,598.5 583.8,598.5 583.8,600.1 586.4,603.6 586.5,605.6 584.7,606.3 582.6,607.4 579.0,608.1 579.5,598.5Z" fill="#9bc4e1"/>
<path d="M564.6,588.4 572.8,588.7 584.7,589.1 587.2,587.4 589.6,586.7 591.8,589.8 588.7,592.6 587.7,594.6 591.3,598.1 591.8,600.1 592.8,602.1 596.9,602.2 597.9,600.8 597.4,598.8 595.9,597.8 597.4,597.9 598.4,600.1 598.7,603.3 594.9,604.0 591.3,605.2 588.7,604.2 586.5,605.6 586.4,603.6 583.8,600.1 583.8,598.5 579.5,598.5 562.2,598.1 564.6,588.4ZM589.5,607.7 593.3,607.7 592.8,606.3 589.8,606.2 589.5,607.7ZM595.4,609.0 598.4,609.0 597.9,608.1 595.9,608.3 595.4,609.0Z" fill="#8db7d9"/>
<path d="M563.7,556.3 582.6,556.3 581.6,560.1 578.5,565.1 577.0,569.4 574.4,575.1 573.4,582.1 572.8,588.7 564.6,588.4 564.7,577.0 563.2,576.5 563.2,570.8 563.7,563.7 563.7,556.3Z" fill="#b0d3e7"/>
<path d="M582.6,556.3 586.9,552.1 587.4,563.7 587.9,570.8 588.0,580.0 590.8,583.9 589.6,586.7 587.2,587.4 584.7,589.1 572.8,588.7 573.4,582.1 574.4,575.1 577.0,569.4 578.5,565.1 581.6,560.1 582.6,556.3Z" fill="#a0c9e4"/>
<path d="M590.8,583.9 593.9,580.0 595.9,576.5 600.0,573.6 605.1,571.5 608.2,569.4 610.2,564.4 613.3,566.5 616.3,566.5 620.4,564.4 624.5,562.2 628.6,559.4 629.1,559.1 627.1,554.3 624.0,547.8 620.4,546.3 620.6,526.2 616.3,521.8 612.2,523.3 607.6,520.3 605.8,520.1 597.9,531.5 594.9,541.2 594.9,543.4 589.8,550.7 586.9,552.1 587.4,563.7 587.9,570.8 588.0,580.0 590.8,583.9Z" fill="#b0d3e7"/>
<path d="M54.2,502.4 56.3,500.8 57.8,502.7 57.5,505.0 55.8,505.5 54.2,504.3 54.2,502.4Z" fill="#a3cae4" stroke="rgba(95,100,108,0.34)" stroke-width="0.6"/>
<path d="M87.8,701.8 91.8,702.1 91.5,703.0 88.2,703.0 87.8,701.8Z" fill="#aacee6" stroke="rgba(95,100,108,0.34)" stroke-width="0.6"/>
<path d="M84.9,702.5 87.1,702.5 87.1,703.7 84.9,703.4 84.9,702.5Z" fill="#aacee6" stroke="rgba(95,100,108,0.34)" stroke-width="0.6"/>
<path d="M82.3,702.0 83.7,702.0 83.7,702.7 82.3,702.5 82.3,702.0Z" fill="#aacee6" stroke="rgba(95,100,108,0.34)" stroke-width="0.6"/>
<path d="M101.2,709.1 104.3,710.3 104.1,711.1 101.2,709.8 101.2,709.1Z" fill="#aacee6" stroke="rgba(95,100,108,0.34)" stroke-width="0.6"/>
<path d="M101.2,714.6 102.8,716.4 103.3,716.8 101.8,715.0 101.2,714.6Z" fill="#aacee6" stroke="rgba(95,100,108,0.34)" stroke-width="0.6"/>
<path d="M91.5,711.5 92.9,711.8 92.9,712.3 91.5,712.0 91.5,711.5Z" fill="#aacee6" stroke="rgba(95,100,108,0.34)" stroke-width="0.6"/>
<path d="M491.1,806.3 489.6,808.0 486.5,810.3 482.5,812.2 477.3,813.6 477.3,814.2 482.5,812.8 486.5,810.8 490.1,808.6 491.7,806.5 491.1,806.3Z" fill="#c8d8e1" stroke="rgba(95,100,108,0.34)" stroke-width="0.6"/>
<path d="M536.6,689.3 540.4,687.4 541.1,686.6 540.7,680.9 539.5,675.2 538.4,670.8 538.9,670.8 540.1,675.2 541.4,680.9 541.8,687.2 540.7,688.1 536.6,689.9 536.6,689.3Z" fill="#b0d3e7" stroke="rgba(95,100,108,0.34)" stroke-width="0.6"/>
<path d="M58.7,496.5 117.2,496.5 117.2,535.7 118.1,539.0 118.4,541.9 97.4,541.9 94.6,542.9 91.0,543.1 86.9,545.6 81.8,546.3 76.7,547.0 74.7,547.8 71.6,546.3 67.5,547.0 63.9,548.5 58.8,547.0 58.3,543.4 56.3,540.4 53.2,539.7 50.7,538.2 47.1,539.0 45.5,538.1 45.2,533.0 45.0,528.5 44.5,526.3 42.5,519.5 39.9,513.5 38.6,509.3 38.7,506.1 43.0,507.8 47.1,509.5 52.2,510.1 55.3,510.4 58.8,510.1 60.4,505.8 61.4,500.4 58.7,496.5ZM45.5,538.1 47.1,539.0 50.7,538.2 53.2,539.7 56.3,540.4 58.3,543.4 58.8,547.0 63.9,548.5 67.5,547.0 71.6,546.3 74.7,547.8 76.7,547.0 81.8,546.3 86.9,545.6 91.0,543.1 94.6,542.9 97.4,541.9 118.4,541.9 120.2,544.1 122.9,547.5 121.7,552.1 119.1,556.5 117.1,560.1 115.4,565.1 117.1,570.8 117.3,573.6 117.3,598.8 86.9,598.8 43.9,598.8 41.8,592.6 40.3,587.1 42.0,582.1 44.0,576.5 44.5,570.8 45.0,563.7 46.1,556.5 46.6,549.2 46.6,541.9 45.5,538.1ZM43.9,598.8 86.9,598.8 86.9,639.1 141.8,690.3 144.2,695.3 146.9,699.0 143.1,701.5 140.9,706.4 143.1,710.1 143.1,715.3 140.9,718.4 116.4,720.7 115.0,716.8 113.5,712.5 108.4,707.6 106.4,705.9 103.3,705.8 102.3,702.7 99.2,702.5 95.1,700.9 92.0,698.0 86.9,697.1 82.1,697.1 80.6,695.3 80.3,688.4 76.7,684.0 71.6,677.8 67.0,670.8 68.5,667.6 66.5,665.7 62.4,662.5 61.4,658.6 61.4,654.7 56.3,652.2 56.3,648.3 52.2,644.3 48.6,639.1 48.1,631.2 45.5,625.8 42.0,620.0 44.5,613.8 45.0,607.0 44.0,602.2 43.9,598.8ZM86.9,598.8 117.3,598.8 147.8,598.8 147.7,665.0 147.7,675.3 144.2,676.5 140.7,677.5 141.3,679.6 142.4,684.0 141.8,690.3 86.9,639.1 86.9,598.8ZM118.4,541.9 118.1,539.0 117.2,535.7 117.2,496.5 127.3,496.5 127.3,512.2 130.7,516.5 130.9,520.3 135.0,523.3 138.0,527.8 142.3,532.6 143.7,532.3 144.7,541.9 143.1,548.3 148.8,546.4 150.3,547.8 153.9,555.8 155.9,559.4 160.5,565.1 165.6,563.0 173.8,563.0 174.8,560.4 178.4,564.0 178.4,598.8 147.8,598.8 117.3,598.8 117.3,573.6 117.1,570.8 115.4,565.1 117.1,560.1 119.1,556.5 121.7,552.1 122.9,547.5 120.2,544.1 118.4,541.9ZM127.3,496.5 249.9,496.5 249.9,542.8 249.9,556.5 178.4,556.5 178.4,564.0 174.8,560.4 173.8,563.0 165.6,563.0 160.5,565.1 155.9,559.4 153.9,555.8 150.3,547.8 148.8,546.4 143.1,548.3 144.7,541.9 143.7,532.3 142.3,532.6 138.0,527.8 135.0,523.3 130.9,520.3 130.7,516.5 127.3,512.2 127.3,496.5ZM178.4,564.0 178.4,556.5 249.9,556.5 249.9,584.9 249.9,612.4 198.8,612.4 178.4,612.4 178.4,598.8 178.4,564.0ZM147.8,598.8 178.4,598.8 178.4,612.4 198.8,612.4 198.8,665.0 147.7,665.0 147.8,598.8ZM147.7,665.0 198.8,665.0 198.8,735.1 178.2,735.1 140.0,721.2 140.9,718.4 143.1,715.3 143.1,710.1 140.9,706.4 143.1,701.5 146.9,699.0 144.2,695.3 141.8,690.3 142.4,684.0 141.3,679.6 140.7,677.5 144.2,676.5 147.7,675.3 147.7,665.0ZM198.8,612.4 249.9,612.4 270.4,612.4 270.4,625.8 270.4,665.0 260.7,665.0 198.8,665.0 198.8,612.4ZM198.8,665.0 260.7,665.0 260.7,671.4 260.1,727.1 223.7,727.1 224.6,729.7 207.4,729.7 207.4,735.1 198.8,735.1 198.8,665.0ZM249.9,496.5 319.6,496.5 320.5,502.7 322.0,508.9 323.5,518.0 323.7,528.5 326.1,536.7 326.5,542.8 249.9,542.8 249.9,496.5ZM249.9,542.8 326.5,542.8 323.6,547.8 326.1,550.0 327.6,552.1 327.6,577.9 326.1,588.4 327.6,592.0 325.6,591.2 322.0,588.1 316.9,587.0 310.8,587.3 306.7,584.9 249.9,584.9 249.9,556.5 249.9,542.8ZM249.9,584.9 306.7,584.9 310.8,587.3 316.9,587.0 322.0,588.1 325.6,591.2 327.6,592.0 328.6,596.0 331.2,601.5 333.0,607.0 333.8,612.4 334.6,618.1 339.3,625.8 270.4,625.8 270.4,612.4 249.9,612.4 249.9,584.9ZM270.4,625.8 339.3,625.8 342.4,628.5 343.5,631.8 342.9,633.8 346.5,637.1 346.4,665.0 270.4,665.0 270.4,625.8ZM260.7,665.0 270.4,665.0 346.4,665.0 346.3,671.4 348.3,685.4 347.8,707.1 343.5,705.2 340.4,703.3 337.3,704.2 334.3,704.6 330.2,705.8 326.1,704.6 323.0,704.6 320.0,705.8 316.9,704.2 312.3,703.9 310.8,701.5 305.6,700.9 302.1,700.2 299.5,699.0 295.4,698.0 291.3,695.8 291.3,671.4 260.7,671.4 260.7,665.0ZM260.7,671.4 291.3,671.4 291.3,695.8 295.4,698.0 299.5,699.0 302.1,700.2 305.6,700.9 310.8,701.5 312.3,703.9 316.9,704.2 320.0,705.8 323.0,704.6 326.1,704.6 330.2,705.8 334.3,704.6 337.3,704.2 340.4,703.3 343.5,705.2 347.8,707.1 352.2,708.2 352.2,714.7 352.2,727.2 354.5,730.1 356.7,732.5 357.3,736.7 356.7,740.3 355.7,745.0 355.5,749.7 354.3,754.5 349.1,756.2 345.0,758.6 342.4,760.3 339.4,763.3 334.3,766.8 329.2,769.7 324.0,772.6 322.0,775.5 319.4,778.9 318.4,783.5 317.9,788.1 318.9,792.7 320.5,797.7 317.4,798.4 314.8,796.7 309.7,796.4 305.6,794.4 300.5,792.1 299.0,788.1 297.0,785.2 296.4,780.1 292.9,776.6 288.3,771.4 286.2,766.8 283.7,761.5 281.1,758.6 277.0,753.6 270.9,753.1 267.3,752.7 263.7,755.1 261.7,759.7 259.1,763.0 256.1,762.1 252.5,759.2 248.4,756.8 245.3,755.1 243.3,750.9 240.7,744.4 236.2,740.9 230.0,734.4 227.0,731.7 224.6,729.7 223.7,727.1 260.1,727.1 260.7,671.4ZM319.6,496.5 340.9,496.5 340.9,490.6 342.9,490.7 344.5,493.4 345.5,499.6 346.5,500.8 350.6,501.9 354.7,503.9 358.8,502.7 363.4,502.4 367.0,505.0 370.0,506.6 373.1,507.3 378.2,511.2 383.3,508.9 385.4,510.4 393.5,510.4 398.6,511.9 390.5,515.7 383.3,521.8 377.2,527.1 372.1,531.2 370.1,532.1 370.0,541.2 365.9,547.8 364.4,550.0 365.4,555.0 364.9,560.1 370.0,564.4 376.2,568.7 380.3,572.2 381.1,577.9 327.6,577.9 327.6,552.1 326.1,550.0 323.6,547.8 326.5,542.8 326.1,536.7 323.7,528.5 323.5,518.0 322.0,508.9 320.5,502.7 319.6,496.5ZM327.6,577.9 381.1,577.9 381.8,584.9 387.0,591.9 390.5,597.4 392.0,601.5 390.0,604.9 383.8,607.0 382.8,610.4 383.8,613.1 382.3,617.1 379.0,620.8 375.9,617.7 334.6,618.1 333.8,612.4 333.0,607.0 331.2,601.5 328.6,596.0 327.6,592.0 326.1,588.4 327.6,577.9ZM334.6,618.1 375.9,617.7 379.0,620.8 378.7,625.8 381.3,629.8 384.9,634.5 387.4,639.1 391.5,641.1 391.7,643.9 390.5,648.3 394.0,652.2 398.1,657.3 399.2,661.8 402.0,665.0 400.7,667.6 398.6,671.4 396.6,677.8 389.8,677.8 392.7,674.0 392.0,671.4 346.3,671.4 346.4,665.0 346.5,637.1 342.9,633.8 343.5,631.8 342.4,628.5 339.3,625.8 334.6,618.1ZM346.3,671.4 392.0,671.4 392.7,674.0 389.8,677.8 396.6,677.8 394.6,682.8 393.0,688.4 390.4,690.3 387.9,695.3 384.3,700.2 382.3,706.4 381.7,714.7 352.2,714.7 352.2,708.2 347.8,707.1 348.3,685.4 346.3,671.4ZM352.2,714.7 381.7,714.7 381.3,719.8 383.8,722.9 382.8,725.9 380.3,729.5 379.2,732.4 377.7,736.1 376.8,739.1 396.3,739.1 397.6,744.4 397.6,748.8 396.1,750.7 399.7,752.1 400.7,754.5 401.7,758.6 403.8,760.9 402.2,762.9 399.7,763.5 396.6,759.2 393.0,761.5 391.5,761.7 388.9,762.1 385.4,762.1 380.8,759.7 379.2,756.8 375.1,756.8 370.0,756.2 365.9,755.6 360.8,753.6 354.3,754.5 355.5,749.7 355.7,745.0 356.7,740.3 357.3,736.7 356.7,732.5 354.5,730.1 352.2,727.2 352.2,714.7ZM381.1,577.9 380.3,572.2 376.2,568.7 370.0,564.4 364.9,560.1 365.4,555.0 364.4,550.0 365.9,547.8 370.0,541.2 370.1,532.1 372.1,531.2 379.2,530.0 384.3,527.8 385.9,531.5 389.2,533.5 392.5,537.5 402.7,540.4 406.8,541.9 413.0,544.8 415.5,550.7 418.1,555.0 416.5,558.6 414.0,563.0 416.5,561.5 420.1,557.9 424.2,552.1 425.2,553.6 422.2,557.9 419.1,563.7 418.6,569.4 417.0,575.1 415.0,582.1 415.0,586.3 416.0,591.9 387.0,591.9 381.8,584.9 381.1,577.9ZM387.0,591.9 416.0,591.9 417.6,598.8 418.9,602.9 418.8,634.5 418.1,637.8 419.1,641.7 417.6,645.6 414.5,650.2 413.5,654.7 412.4,659.3 409.4,663.8 405.8,663.1 402.0,665.0 399.2,661.8 398.1,657.3 394.0,652.2 390.5,648.3 391.7,643.9 391.5,641.1 387.4,639.1 384.9,634.5 381.3,629.8 378.7,625.8 379.0,620.8 382.3,617.1 383.8,613.1 382.8,610.4 383.8,607.0 390.0,604.9 392.0,601.5 390.5,597.4 387.0,591.9ZM426.0,602.1 446.6,602.1 446.7,602.9 460.5,602.5 463.5,598.1 464.1,594.6 466.6,593.2 470.2,590.5 470.7,584.9 469.7,576.5 468.7,570.8 465.1,570.1 462.0,571.5 457.9,576.5 455.9,575.1 457.4,570.8 461.5,566.5 462.0,559.4 461.0,555.8 456.4,551.4 451.8,547.0 447.2,545.1 444.6,546.3 443.6,552.1 440.6,555.0 438.5,554.3 439.5,558.6 437.0,557.2 433.9,557.9 431.9,562.2 430.8,568.0 429.3,575.8 431.9,583.5 432.4,590.5 429.8,596.7 426.0,602.1ZM389.2,533.5 394.6,530.0 399.7,529.3 404.3,527.1 408.9,523.3 415.0,520.3 411.9,524.0 409.9,527.8 414.0,528.5 418.1,533.8 423.2,535.3 428.3,535.3 432.4,532.3 438.5,531.5 444.6,530.8 446.7,534.5 450.8,534.5 453.8,537.5 455.9,540.4 460.5,541.6 456.9,542.3 450.8,542.6 447.5,543.8 440.6,540.4 435.4,542.6 431.4,544.1 428.3,547.0 424.2,545.6 421.1,548.5 418.1,555.0 415.5,550.7 413.0,544.8 406.8,541.9 402.7,540.4 392.5,537.5 389.2,533.5ZM418.9,602.9 422.2,604.0 426.0,602.1 446.6,602.1 446.5,637.8 445.7,641.7 442.6,643.0 440.0,643.0 437.0,648.5 434.4,651.5 431.4,650.2 429.3,652.8 426.2,652.8 423.2,655.1 418.4,652.5 413.5,654.7 414.5,650.2 417.6,645.6 419.1,641.7 418.1,637.8 418.8,634.5 418.9,602.9ZM446.6,602.1 446.7,602.9 460.5,602.5 464.6,604.2 468.1,606.3 472.2,606.7 478.4,605.6 482.5,602.2 486.5,600.1 490.4,599.0 490.4,617.3 489.6,621.2 488.4,625.0 487.1,629.8 483.5,633.8 479.8,635.5 477.9,638.4 477.3,640.4 474.0,641.2 473.3,644.3 470.7,646.7 469.2,646.8 467.1,644.3 465.1,642.6 461.0,644.1 457.4,643.7 452.8,641.7 449.7,637.8 446.5,637.8 446.6,602.1ZM446.5,637.8 449.7,637.8 452.8,641.7 457.4,643.7 461.0,644.1 465.1,642.6 467.1,644.3 469.2,646.8 469.2,649.9 471.0,653.5 472.2,656.4 475.6,658.1 471.7,661.6 468.1,663.8 464.1,667.0 458.1,670.1 444.6,669.9 429.3,669.6 413.3,669.1 413.3,671.4 398.6,671.4 400.7,667.6 402.0,665.0 405.8,663.1 409.4,663.8 412.4,659.3 413.5,654.7 418.4,652.5 423.2,655.1 426.2,652.8 429.3,652.8 431.4,650.2 434.4,651.5 437.0,648.5 440.0,643.0 442.6,643.0 445.7,641.7 446.5,637.8ZM398.6,671.4 413.3,671.4 413.3,669.1 429.3,669.6 444.6,669.9 458.1,670.1 478.6,670.3 476.3,674.0 474.8,676.5 469.2,678.4 464.1,680.9 460.0,683.3 454.9,684.7 451.8,687.2 451.6,690.4 438.5,690.6 411.9,690.3 390.4,690.3 393.0,688.4 394.6,682.8 396.6,677.8 398.6,671.4ZM390.4,690.3 411.9,690.3 409.2,728.3 409.9,746.3 404.8,746.2 400.2,747.4 397.6,748.8 397.6,744.4 396.3,739.1 376.8,739.1 377.7,736.1 379.2,732.4 380.3,729.5 382.8,725.9 383.8,722.9 381.3,719.8 381.7,714.7 382.3,706.4 384.3,700.2 387.9,695.3 390.4,690.3ZM411.9,690.3 438.5,690.6 442.8,716.7 445.1,722.2 444.1,727.1 443.6,731.9 444.6,739.1 418.1,739.1 419.6,742.6 418.9,747.6 414.0,748.2 414.5,743.8 413.5,743.2 413.0,746.8 409.9,746.3 409.2,728.3 411.9,690.3ZM438.5,690.6 451.6,690.4 464.0,690.3 461.5,694.0 466.1,697.1 469.2,702.7 473.3,707.0 475.8,709.5 479.4,713.7 480.9,718.0 484.0,723.5 486.8,726.7 484.0,731.9 482.5,736.7 480.9,742.5 475.8,741.4 474.8,745.0 473.3,744.2 446.1,742.5 444.6,739.1 443.6,731.9 444.1,727.1 445.1,722.2 442.8,716.7 438.5,690.6ZM418.9,747.6 419.6,742.6 418.1,739.1 444.6,739.1 446.1,742.5 473.3,744.2 474.8,745.0 475.8,741.4 480.9,742.5 481.4,746.2 481.9,750.9 483.5,755.6 485.5,760.3 487.6,765.0 490.1,769.1 489.6,773.1 491.7,778.9 493.7,783.5 494.7,787.0 495.2,791.5 494.2,799.5 492.7,801.8 491.7,805.7 488.6,806.9 485.0,806.9 483.5,804.0 480.4,798.9 477.3,796.1 474.3,791.5 472.2,787.5 470.2,783.5 468.7,778.9 467.1,774.3 468.1,769.7 467.6,764.4 464.1,760.3 461.0,755.6 458.4,752.1 454.9,749.7 451.8,750.3 448.7,752.7 444.6,754.2 441.1,754.7 440.6,751.5 436.5,748.6 432.4,746.8 429.3,746.2 422.2,747.0 418.9,747.6ZM464.0,690.3 467.1,689.3 471.7,687.9 485.0,688.4 486.2,689.1 487.8,692.5 499.0,692.8 510.6,704.4 506.0,708.9 503.9,712.5 499.8,716.2 496.8,718.0 491.7,721.0 488.6,724.1 486.8,726.7 484.0,723.5 480.9,718.0 479.4,713.7 475.8,709.5 473.3,707.0 469.2,702.7 466.1,697.1 461.5,694.0 464.0,690.3ZM478.6,670.3 476.3,674.0 474.8,676.5 469.2,678.4 464.1,680.9 460.0,683.3 454.9,684.7 451.8,687.2 451.6,690.4 464.0,690.3 467.1,689.3 471.7,687.9 485.0,688.4 486.2,689.1 487.8,692.5 499.0,692.8 510.6,704.4 516.7,704.6 517.7,700.2 522.3,695.9 526.9,694.0 531.2,695.3 533.6,690.9 538.7,687.8 541.7,687.2 541.2,682.8 539.2,676.5 537.9,670.8 478.6,670.3ZM458.1,670.1 464.1,667.0 468.1,663.8 471.7,661.6 475.6,658.1 477.9,661.2 481.4,662.5 485.5,661.4 489.6,659.3 492.7,658.6 493.7,657.1 495.7,654.7 497.3,650.9 499.8,646.3 502.9,646.3 504.9,643.0 507.5,641.7 510.0,639.1 512.1,636.5 512.6,633.6 515.7,636.5 517.9,637.4 518.9,634.9 521.3,636.5 523.8,638.4 525.9,641.1 525.9,644.3 524.4,645.6 526.4,647.0 530.5,649.6 533.6,652.2 532.5,656.0 533.6,660.5 532.5,663.8 533.6,665.7 536.6,666.1 537.9,670.8 478.6,670.3 458.1,670.1ZM537.6,652.8 540.2,652.7 544.4,651.8 540.7,657.3 537.6,663.1 536.6,662.5 537.6,652.8ZM469.2,646.8 470.7,646.7 473.3,644.3 474.0,641.2 477.3,640.4 477.9,638.4 479.8,635.5 483.5,633.8 487.1,629.8 488.4,625.0 489.6,621.2 490.4,617.3 490.4,629.6 501.1,629.6 501.1,636.5 506.0,633.2 508.3,630.5 511.1,632.2 514.3,629.8 516.7,631.2 518.2,632.5 518.9,634.9 517.9,637.4 515.7,636.5 512.6,633.6 512.1,636.5 510.0,639.1 507.5,641.7 504.9,643.0 502.9,646.3 499.8,646.3 497.3,650.9 495.7,654.7 493.7,657.1 492.7,658.6 489.6,659.3 485.5,661.4 481.4,662.5 477.9,661.2 475.6,658.1 472.2,656.4 471.0,653.5 469.2,649.9 469.2,646.8ZM501.1,629.6 538.8,629.6 539.7,646.2 546.3,646.2 544.4,651.8 540.2,652.7 537.6,652.8 534.6,648.3 533.6,643.0 535.6,639.1 537.1,633.8 535.6,631.8 532.5,635.8 531.5,639.1 531.5,643.0 533.0,648.3 533.6,652.2 530.5,649.6 526.4,647.0 524.4,645.6 525.9,644.3 525.9,641.1 523.8,638.4 521.3,636.5 518.9,634.9 518.2,632.5 516.7,631.2 514.3,629.8 511.1,632.2 508.3,630.5 506.0,633.2 501.1,636.5 501.1,629.6ZM538.8,629.6 540.7,628.0 542.5,628.5 541.2,631.2 541.7,633.2 542.8,636.5 543.8,639.8 546.0,642.0 546.3,646.2 539.7,646.2 538.8,629.6ZM490.4,599.0 498.2,595.0 498.2,598.8 543.2,598.8 545.8,601.5 547.3,605.6 549.9,607.5 545.8,612.4 545.3,615.8 546.3,619.8 549.4,623.2 547.3,625.2 545.3,626.5 542.5,628.5 540.7,628.0 538.8,629.6 501.1,629.6 490.4,629.6 490.4,617.3 490.4,599.0ZM542.5,628.5 545.3,626.5 547.3,625.2 549.4,623.2 546.3,619.8 545.3,615.8 545.8,612.4 549.9,607.5 558.1,612.4 556.9,616.5 554.5,618.5 557.1,619.8 556.5,624.5 556.0,629.2 553.0,634.5 549.4,639.1 547.3,640.0 545.8,636.5 543.8,635.1 541.7,633.2 541.2,631.2 542.5,628.5ZM498.2,595.0 504.9,589.1 507.0,586.6 505.4,583.5 505.3,581.1 511.1,579.7 516.2,579.7 520.3,581.1 526.4,581.0 530.5,578.6 534.6,577.2 534.6,572.2 533.0,569.4 536.6,566.5 538.7,564.4 543.8,558.6 549.4,556.5 563.7,556.3 563.7,563.7 563.2,570.8 563.2,576.5 564.7,577.0 564.6,588.4 562.2,598.1 561.7,608.3 562.4,609.7 560.5,612.4 560.1,614.2 559.3,615.1 562.2,613.8 567.3,613.1 570.9,612.7 574.4,611.7 578.9,611.5 572.4,614.4 567.3,616.5 562.2,617.8 557.6,618.2 556.9,616.5 558.1,612.4 549.9,607.5 547.3,605.6 545.8,601.5 543.2,598.8 498.2,598.8 498.2,595.0ZM562.2,598.1 579.5,598.5 579.0,608.1 574.4,608.7 568.3,609.0 565.2,610.4 560.5,612.4 562.4,609.7 561.7,608.3 562.2,598.1ZM579.5,598.5 583.8,598.5 583.8,600.1 586.4,603.6 586.5,605.6 584.7,606.3 582.6,607.4 579.0,608.1 579.5,598.5ZM564.6,588.4 572.8,588.7 584.7,589.1 587.2,587.4 589.6,586.7 591.8,589.8 588.7,592.6 587.7,594.6 591.3,598.1 591.8,600.1 592.8,602.1 596.9,602.2 597.9,600.8 597.4,598.8 595.9,597.8 597.4,597.9 598.4,600.1 598.7,603.3 594.9,604.0 591.3,605.2 588.7,604.2 586.5,605.6 586.4,603.6 583.8,600.1 583.8,598.5 579.5,598.5 562.2,598.1 564.6,588.4ZM589.5,607.7 593.3,607.7 592.8,606.3 589.8,606.2 589.5,607.7ZM595.4,609.0 598.4,609.0 597.9,608.1 595.9,608.3 595.4,609.0ZM563.7,556.3 582.6,556.3 581.6,560.1 578.5,565.1 577.0,569.4 574.4,575.1 573.4,582.1 572.8,588.7 564.6,588.4 564.7,577.0 563.2,576.5 563.2,570.8 563.7,563.7 563.7,556.3ZM582.6,556.3 586.9,552.1 587.4,563.7 587.9,570.8 588.0,580.0 590.8,583.9 589.6,586.7 587.2,587.4 584.7,589.1 572.8,588.7 573.4,582.1 574.4,575.1 577.0,569.4 578.5,565.1 581.6,560.1 582.6,556.3ZM590.8,583.9 593.9,580.0 595.9,576.5 600.0,573.6 605.1,571.5 608.2,569.4 610.2,564.4 613.3,566.5 616.3,566.5 620.4,564.4 624.5,562.2 628.6,559.4 629.1,559.1 627.1,554.3 624.0,547.8 620.4,546.3 620.6,526.2 616.3,521.8 612.2,523.3 607.6,520.3 605.8,520.1 597.9,531.5 594.9,541.2 594.9,543.4 589.8,550.7 586.9,552.1 587.4,563.7 587.9,570.8 588.0,580.0 590.8,583.9Z" fill="none" stroke="rgba(95,100,108,0.34)" stroke-width="1" stroke-linejoin="round"/>
<path d="M59.1,509.6 60.4,513.5 61.9,517.3 62.1,521.0 60.4,523.7 57.3,525.6" fill="none" stroke="rgba(105,110,115,0.45)" stroke-width="2.2" stroke-linecap="round" stroke-linejoin="round"/>
<path d="M59.1,509.6 60.4,513.5 61.9,517.3 62.1,521.0 60.4,523.7 57.3,525.6" fill="none" stroke="#fff" stroke-width="1.3" stroke-linecap="round" stroke-linejoin="round"/>
<path d="M59.5,513.5 57.8,517.3 55.5,520.7 56.8,521.3" fill="none" stroke="rgba(105,110,115,0.45)" stroke-width="1.8" stroke-linecap="round" stroke-linejoin="round"/>
<path d="M59.5,513.5 57.8,517.3 55.5,520.7 56.8,521.3" fill="none" stroke="#fff" stroke-width="0.9" stroke-linecap="round" stroke-linejoin="round"/>
<path d="M60.9,506.6 62.2,510.4 62.9,512.7" fill="none" stroke="rgba(105,110,115,0.45)" stroke-width="1.7" stroke-linecap="round" stroke-linejoin="round"/>
<path d="M60.9,506.6 62.2,510.4 62.9,512.7" fill="none" stroke="#fff" stroke-width="0.8" stroke-linecap="round" stroke-linejoin="round"/>
<path d="M58.8,499.6 60.2,503.5 59.3,506.6" fill="none" stroke="rgba(105,110,115,0.45)" stroke-width="1.7" stroke-linecap="round" stroke-linejoin="round"/>
<path d="M58.8,499.6 60.2,503.5 59.3,506.6" fill="none" stroke="#fff" stroke-width="0.8" stroke-linecap="round" stroke-linejoin="round"/>
<path d="M61.6,651.1 62.4,654.1 63.9,657.1 65.7,659.0" fill="none" stroke="rgba(105,110,115,0.45)" stroke-width="2.5" stroke-linecap="round" stroke-linejoin="round"/>
<path d="M61.6,651.1 62.4,654.1 63.9,657.1 65.7,659.0" fill="none" stroke="#fff" stroke-width="1.6" stroke-linecap="round" stroke-linejoin="round"/>
<path d="M62.9,651.5 65.5,651.2 68.0,651.1" fill="none" stroke="rgba(105,110,115,0.45)" stroke-width="1.9" stroke-linecap="round" stroke-linejoin="round"/>
<path d="M62.9,651.5 65.5,651.2 68.0,651.1" fill="none" stroke="#fff" stroke-width="1.0" stroke-linecap="round" stroke-linejoin="round"/>
<path d="M388.9,747.4 390.5,746.4 393.5,746.6 395.8,748.0 394.6,750.0 391.5,750.6 389.2,749.5 388.9,747.4Z" fill="#fff" stroke="rgba(120,125,130,0.5)" stroke-width="0.6"/>
<path d="M533.6,689.7 536.6,689.3 540.4,687.4 540.9,685.9 540.5,681.3 539.7,680.0 538.5,681.8 537.1,684.0 533.6,685.9 531.5,687.8 533.6,689.7Z" fill="#fff" stroke="rgba(120,125,130,0.5)" stroke-width="0.6"/>
<path d="M529.5,677.1 534.6,677.8 538.9,677.5" fill="none" stroke="rgba(105,110,115,0.45)" stroke-width="1.9" stroke-linecap="round" stroke-linejoin="round"/>
<path d="M529.5,677.1 534.6,677.8 538.9,677.5" fill="none" stroke="#fff" stroke-width="1.0" stroke-linecap="round" stroke-linejoin="round"/>
<path d="M526.4,650.6 529.5,654.7 533.0,657.3" fill="none" stroke="rgba(105,110,115,0.45)" stroke-width="1.8" stroke-linecap="round" stroke-linejoin="round"/>
<path d="M526.4,650.6 529.5,654.7 533.0,657.3" fill="none" stroke="#fff" stroke-width="0.9" stroke-linecap="round" stroke-linejoin="round"/>
<path d="M527.9,658.6 530.5,660.5 532.5,662.1" fill="none" stroke="rgba(105,110,115,0.45)" stroke-width="1.8" stroke-linecap="round" stroke-linejoin="round"/>
<path d="M527.9,658.6 530.5,660.5 532.5,662.1" fill="none" stroke="#fff" stroke-width="0.9" stroke-linecap="round" stroke-linejoin="round"/>
<path d="M525.9,661.8 529.5,663.5 533.0,665.3" fill="none" stroke="rgba(105,110,115,0.45)" stroke-width="1.9" stroke-linecap="round" stroke-linejoin="round"/>
<path d="M525.9,661.8 529.5,663.5 533.0,665.3" fill="none" stroke="#fff" stroke-width="1.0" stroke-linecap="round" stroke-linejoin="round"/>
<path d="M526.4,643.7 527.4,647.6 530.5,649.6 533.0,651.5" fill="none" stroke="rgba(105,110,115,0.45)" stroke-width="1.8" stroke-linecap="round" stroke-linejoin="round"/>
<path d="M526.4,643.7 527.4,647.6 530.5,649.6 533.0,651.5" fill="none" stroke="#fff" stroke-width="0.9" stroke-linecap="round" stroke-linejoin="round"/>
<path d="M413.8,742.9 414.0,745.6 414.2,747.6" fill="none" stroke="rgba(105,110,115,0.45)" stroke-width="2.2" stroke-linecap="round" stroke-linejoin="round"/>
<path d="M413.8,742.9 414.0,745.6 414.2,747.6" fill="none" stroke="#fff" stroke-width="1.3" stroke-linecap="round" stroke-linejoin="round"/>
<path d="M467.6,778.9 469.7,776.6 470.7,774.9" fill="none" stroke="rgba(105,110,115,0.45)" stroke-width="2.1" stroke-linecap="round" stroke-linejoin="round"/>
<path d="M467.6,778.9 469.7,776.6 470.7,774.9" fill="none" stroke="#fff" stroke-width="1.2" stroke-linecap="round" stroke-linejoin="round"/>
<text x="82.0" y="523.9">5</text>
<text x="191.7" y="531.6">3</text>
<text x="291.3" y="523.9">1</text>
<text x="82.0" y="575.0">3</text>
<text x="143.0" y="575.0">1</text>
<text x="289.4" y="568.6">5</text>
<text x="215.1" y="589.5">2</text>
<text x="294.4" y="610.1">3</text>
<text x="120.2" y="640.1">0</text>
<text x="171.8" y="640.1">3</text>
<text x="235.5" y="643.4">4</text>
<text x="306.5" y="649.9">4</text>
<text x="351.0" y="543.0">5</text>
<text x="394.6" y="569.2">6</text>
<text x="358.3" y="603.1">5</text>
<text x="449.6" y="588.1">7</text>
<text x="542.8" y="589.8">8</text>
<text x="571.4" y="572.8">3</text>
<text x="606.5" y="554.7">3</text>
<text x="576.7" y="598.7">10</text>
<text x="518.1" y="619.3">8</text>
<text x="552.5" y="628.5">12</text>
<text x="401.9" y="630.5">6</text>
<text x="433.1" y="630.5">5</text>
<text x="466.5" y="626.8">6</text>
<text x="368.7" y="654.3">2</text>
<text x="489.2" y="649.6">1</text>
<text x="527.8" y="645.5">6</text>
<text x="543.3" y="647.9">7</text>
<text x="446.6" y="659.7">3</text>
<text x="514.5" y="659.7">6</text>
<text x="89.8" y="667.2">4</text>
<text x="173.7" y="701.9"><tspan dy="0.6">-</tspan><tspan dy="-0.6">1</tspan></text>
<text x="230.4" y="701.1">2</text>
<text x="317.8" y="688.7">4</text>
<text x="300.0" y="740.5">3</text>
<text x="433.2" y="685.4">3</text>
<text x="496.9" y="688.7">3</text>
<text x="368.5" y="697.6">0</text>
<text x="486.4" y="707.0">3</text>
<text x="396.2" y="713.6">2</text>
<text x="427.8" y="722.2">2</text>
<text x="461.1" y="729.7">4</text>
<text x="371.6" y="747.5">3</text>
<text x="480.5" y="773.3">1</text>
</g>
<g class="lab">
<path d="M693.7,507.3 752.2,507.3 752.2,546.5 753.1,549.8 753.4,552.7 732.4,552.7 729.6,553.7 726.0,553.9 721.9,556.4 716.8,557.1 711.7,557.8 709.7,558.6 706.6,557.1 702.5,557.8 698.9,559.3 693.8,557.8 693.3,554.2 691.3,551.2 688.2,550.5 685.7,549.0 682.1,549.8 680.5,548.9 680.2,543.8 680.0,539.3 679.5,537.1 677.5,530.3 674.9,524.3 673.6,520.1 673.7,516.9 678.0,518.6 682.1,520.3 687.2,520.9 690.3,521.2 693.8,520.9 695.4,516.6 696.4,511.2 693.7,507.3Z" fill="#d9dcd8"/>
<path d="M680.5,548.9 682.1,549.8 685.7,549.0 688.2,550.5 691.3,551.2 693.3,554.2 693.8,557.8 698.9,559.3 702.5,557.8 706.6,557.1 709.7,558.6 711.7,557.8 716.8,557.1 721.9,556.4 726.0,553.9 729.6,553.7 732.4,552.7 753.4,552.7 755.2,554.9 757.9,558.3 756.7,562.9 754.1,567.3 752.1,570.9 750.4,575.9 752.1,581.6 752.3,584.4 752.3,609.6 721.9,609.6 678.9,609.6 676.8,603.4 675.3,597.9 677.0,592.9 679.0,587.3 679.5,581.6 680.0,574.5 681.1,567.3 681.6,560.0 681.6,552.7 680.5,548.9Z" fill="#e5dac6"/>
<path d="M678.9,609.6 721.9,609.6 721.9,649.9 776.8,701.1 779.2,706.1 781.9,709.8 778.1,712.3 775.9,717.2 778.1,720.9 778.1,726.1 775.9,729.2 751.4,731.5 750.0,727.6 748.5,723.3 743.4,718.4 741.4,716.7 738.3,716.6 737.3,713.5 734.2,713.3 730.1,711.7 727.0,708.8 721.9,707.9 717.1,707.9 715.6,706.1 715.3,699.2 711.7,694.8 706.6,688.6 702.0,681.6 703.5,678.4 701.5,676.5 697.4,673.3 696.4,669.4 696.4,665.5 691.3,663.0 691.3,659.1 687.2,655.1 683.6,649.9 683.1,642.0 680.5,636.6 677.0,630.8 679.5,624.6 680.0,617.8 679.0,613.0 678.9,609.6Z" fill="#e0ddd6"/>
<path d="M721.9,609.6 752.3,609.6 782.8,609.6 782.7,675.8 782.7,686.1 779.2,687.3 775.7,688.3 776.3,690.4 777.4,694.8 776.8,701.1 721.9,649.9 721.9,609.6Z" fill="#f6c887"/>
<path d="M753.4,552.7 753.1,549.8 752.2,546.5 752.2,507.3 762.3,507.3 762.3,523.0 765.7,527.3 765.9,531.1 770.0,534.1 773.0,538.6 777.3,543.4 778.7,543.1 779.7,552.7 778.1,559.1 783.8,557.2 785.3,558.6 788.9,566.6 790.9,570.2 795.5,575.9 800.6,573.8 808.8,573.8 809.8,571.2 813.4,574.8 813.4,609.6 782.8,609.6 752.3,609.6 752.3,584.4 752.1,581.6 750.4,575.9 752.1,570.9 754.1,567.3 756.7,562.9 757.9,558.3 755.2,554.9 753.4,552.7Z" fill="#f6c887"/>
<path d="M762.3,507.3 884.9,507.3 884.9,553.6 884.9,567.3 813.4,567.3 813.4,574.8 809.8,571.2 808.8,573.8 800.6,573.8 795.5,575.9 790.9,570.2 788.9,566.6 785.3,558.6 783.8,557.2 778.1,559.1 779.7,552.7 778.7,543.1 777.3,543.4 773.0,538.6 770.0,534.1 765.9,531.1 765.7,527.3 762.3,523.0 762.3,507.3Z" fill="#e6dac6"/>
<path d="M813.4,574.8 813.4,567.3 884.9,567.3 884.9,595.7 884.9,623.2 833.8,623.2 813.4,623.2 813.4,609.6 813.4,574.8Z" fill="#f6c884"/>
<path d="M782.8,609.6 813.4,609.6 813.4,623.2 833.8,623.2 833.8,675.8 782.7,675.8 782.8,609.6Z" fill="#f6ce96"/>
<path d="M782.7,675.8 833.8,675.8 833.8,745.9 813.2,745.9 775.0,732.0 775.9,729.2 778.1,726.1 778.1,720.9 775.9,717.2 778.1,712.3 781.9,709.8 779.2,706.1 776.8,701.1 777.4,694.8 776.3,690.4 775.7,688.3 779.2,687.3 782.7,686.1 782.7,675.8Z" fill="#f2b267"/>
<path d="M833.8,623.2 884.9,623.2 905.4,623.2 905.4,636.6 905.4,675.8 895.7,675.8 833.8,675.8 833.8,623.2Z" fill="#f4d3a6"/>
<path d="M833.8,675.8 895.7,675.8 895.7,682.2 895.1,737.9 858.7,737.9 859.6,740.5 842.4,740.5 842.4,745.9 833.8,745.9 833.8,675.8Z" fill="#f7d29e"/>
<path d="M884.9,507.3 954.6,507.3 955.5,513.5 957.0,519.7 958.5,528.8 958.7,539.3 961.1,547.5 961.5,553.6 884.9,553.6 884.9,507.3Z" fill="#c3d7e2"/>
<path d="M884.9,553.6 961.5,553.6 958.6,558.6 961.1,560.8 962.6,562.9 962.6,588.7 961.1,599.2 962.6,602.8 960.6,602.0 957.0,598.9 951.9,597.8 945.8,598.1 941.7,595.7 884.9,595.7 884.9,567.3 884.9,553.6Z" fill="#ecdac3"/>
<path d="M884.9,595.7 941.7,595.7 945.8,598.1 951.9,597.8 957.0,598.9 960.6,602.0 962.6,602.8 963.6,606.8 966.2,612.3 968.0,617.8 968.8,623.2 969.6,628.9 974.3,636.6 905.4,636.6 905.4,623.2 884.9,623.2 884.9,595.7Z" fill="#dedcd7"/>
<path d="M905.4,636.6 974.3,636.6 977.4,639.3 978.5,642.6 977.9,644.6 981.5,647.9 981.4,675.8 905.4,675.8 905.4,636.6Z" fill="#e3dccf"/>
<path d="M895.7,675.8 905.4,675.8 981.4,675.8 981.3,682.2 983.3,696.2 982.8,717.9 978.5,716.0 975.4,714.1 972.3,715.0 969.3,715.4 965.2,716.6 961.1,715.4 958.0,715.4 955.0,716.6 951.9,715.0 947.3,714.7 945.8,712.3 940.6,711.7 937.1,711.0 934.5,709.8 930.4,708.8 926.3,706.6 926.3,682.2 895.7,682.2 895.7,675.8Z" fill="#dedcd7"/>
<path d="M895.7,682.2 926.3,682.2 926.3,706.6 930.4,708.8 934.5,709.8 937.1,711.0 940.6,711.7 945.8,712.3 947.3,714.7 951.9,715.0 955.0,716.6 958.0,715.4 961.1,715.4 965.2,716.6 969.3,715.4 972.3,715.0 975.4,714.1 978.5,716.0 982.8,717.9 987.2,719.0 987.2,725.5 987.2,738.0 989.5,740.9 991.7,743.3 992.3,747.5 991.7,751.1 990.7,755.8 990.5,760.5 989.3,765.3 984.1,767.0 980.0,769.4 977.4,771.1 974.4,774.1 969.3,777.6 964.2,780.5 959.0,783.4 957.0,786.3 954.4,789.7 953.4,794.3 952.9,798.9 953.9,803.5 955.5,808.5 952.4,809.2 949.8,807.5 944.7,807.2 940.6,805.2 935.5,802.9 934.0,798.9 932.0,796.0 931.4,790.9 927.9,787.4 923.3,782.2 921.2,777.6 918.7,772.3 916.1,769.4 912.0,764.4 905.9,763.9 902.3,763.5 898.7,765.9 896.7,770.5 894.1,773.8 891.1,772.9 887.5,770.0 883.4,767.6 880.3,765.9 878.3,761.7 875.7,755.2 871.2,751.7 865.0,745.2 862.0,742.5 859.6,740.5 858.7,737.9 895.1,737.9 895.7,682.2Z" fill="#f7d199"/>
<path d="M954.6,507.3 975.9,507.3 975.9,501.4 977.9,501.5 979.5,504.2 980.5,510.4 981.5,511.6 985.6,512.7 989.7,514.7 993.8,513.5 998.4,513.2 1002.0,515.8 1005.0,517.4 1008.1,518.1 1013.2,522.0 1018.3,519.7 1020.4,521.2 1028.5,521.2 1033.6,522.7 1025.5,526.5 1018.3,532.6 1012.2,537.9 1007.1,542.0 1005.1,542.9 1005.0,552.0 1000.9,558.6 999.4,560.8 1000.4,565.8 999.9,570.9 1005.0,575.2 1011.2,579.5 1015.3,583.0 1016.1,588.7 962.6,588.7 962.6,562.9 961.1,560.8 958.6,558.6 961.5,553.6 961.1,547.5 958.7,539.3 958.5,528.8 957.0,519.7 955.5,513.5 954.6,507.3Z" fill="#cdd8de"/>
<path d="M962.6,588.7 1016.1,588.7 1016.8,595.7 1022.0,602.7 1025.5,608.2 1027.0,612.3 1025.0,615.7 1018.8,617.8 1017.8,621.2 1018.8,623.9 1017.3,627.9 1014.0,631.6 1010.9,628.5 969.6,628.9 968.8,623.2 968.0,617.8 966.2,612.3 963.6,606.8 962.6,602.8 961.1,599.2 962.6,588.7Z" fill="#eedac0"/>
<path d="M969.6,628.9 1010.9,628.5 1014.0,631.6 1013.7,636.6 1016.3,640.6 1019.9,645.3 1022.4,649.9 1026.5,651.9 1026.7,654.7 1025.5,659.1 1029.0,663.0 1033.1,668.1 1034.2,672.6 1037.0,675.8 1035.7,678.4 1033.6,682.2 1031.6,688.6 1024.8,688.6 1027.7,684.8 1027.0,682.2 981.3,682.2 981.4,675.8 981.5,647.9 977.9,644.6 978.5,642.6 977.4,639.3 974.3,636.6 969.6,628.9Z" fill="#dedcd8"/>
<path d="M981.3,682.2 1027.0,682.2 1027.7,684.8 1024.8,688.6 1031.6,688.6 1029.6,693.6 1028.0,699.2 1025.4,701.1 1022.9,706.1 1019.3,711.0 1017.3,717.2 1016.7,725.5 987.2,725.5 987.2,719.0 982.8,717.9 983.3,696.2 981.3,682.2Z" fill="#edd7b9"/>
<path d="M987.2,725.5 1016.7,725.5 1016.3,730.6 1018.8,733.7 1017.8,736.7 1015.3,740.3 1014.2,743.2 1012.7,746.9 1011.8,749.9 1031.3,749.9 1032.6,755.2 1032.6,759.6 1031.1,761.5 1034.7,762.9 1035.7,765.3 1036.7,769.4 1038.8,771.7 1037.2,773.7 1034.7,774.3 1031.6,770.0 1028.0,772.3 1026.5,772.5 1023.9,772.9 1020.4,772.9 1015.8,770.5 1014.2,767.6 1010.1,767.6 1005.0,767.0 1000.9,766.4 995.8,764.4 989.3,765.3 990.5,760.5 990.7,755.8 991.7,751.1 992.3,747.5 991.7,743.3 989.5,740.9 987.2,738.0 987.2,725.5Z" fill="#f7d2a0"/>
<path d="M1016.1,588.7 1015.3,583.0 1011.2,579.5 1005.0,575.2 999.9,570.9 1000.4,565.8 999.4,560.8 1000.9,558.6 1005.0,552.0 1005.1,542.9 1007.1,542.0 1014.2,540.8 1019.3,538.6 1020.9,542.3 1024.2,544.3 1027.5,548.3 1037.7,551.2 1041.8,552.7 1048.0,555.6 1050.5,561.5 1053.1,565.8 1051.5,569.4 1049.0,573.8 1051.5,572.3 1055.1,568.7 1059.2,562.9 1060.2,564.4 1057.2,568.7 1054.1,574.5 1053.6,580.2 1052.0,585.9 1050.0,592.9 1050.0,597.1 1051.0,602.7 1022.0,602.7 1016.8,595.7 1016.1,588.7Z" fill="#b4d2e6"/>
<path d="M1022.0,602.7 1051.0,602.7 1052.6,609.6 1053.9,613.7 1053.8,645.3 1053.1,648.6 1054.1,652.5 1052.6,656.4 1049.5,661.0 1048.5,665.5 1047.4,670.1 1044.4,674.6 1040.8,673.9 1037.0,675.8 1034.2,672.6 1033.1,668.1 1029.0,663.0 1025.5,659.1 1026.7,654.7 1026.5,651.9 1022.4,649.9 1019.9,645.3 1016.3,640.6 1013.7,636.6 1014.0,631.6 1017.3,627.9 1018.8,623.9 1017.8,621.2 1018.8,617.8 1025.0,615.7 1027.0,612.3 1025.5,608.2 1022.0,602.7Z" fill="#c8d7e0"/>
<path d="M1061.0,612.9 1081.6,612.9 1081.7,613.7 1095.5,613.3 1098.5,608.9 1099.1,605.4 1101.6,604.0 1105.2,601.3 1105.7,595.7 1104.7,587.3 1103.7,581.6 1100.1,580.9 1097.0,582.3 1092.9,587.3 1090.9,585.9 1092.4,581.6 1096.5,577.3 1097.0,570.2 1096.0,566.6 1091.4,562.2 1086.8,557.8 1082.2,555.9 1079.6,557.1 1078.6,562.9 1075.6,565.8 1073.5,565.1 1074.5,569.4 1072.0,568.0 1068.9,568.7 1066.9,573.0 1065.8,578.8 1064.3,586.6 1066.9,594.3 1067.4,601.3 1064.8,607.5 1061.0,612.9ZM1024.2,544.3 1029.6,540.8 1034.7,540.1 1039.3,537.9 1043.9,534.1 1050.0,531.1 1046.9,534.8 1044.9,538.6 1049.0,539.3 1053.1,544.6 1058.2,546.1 1063.3,546.1 1067.4,543.1 1073.5,542.3 1079.6,541.6 1081.7,545.3 1085.8,545.3 1088.8,548.3 1090.9,551.2 1095.5,552.4 1091.9,553.1 1085.8,553.4 1082.5,554.6 1075.6,551.2 1070.4,553.4 1066.4,554.9 1063.3,557.8 1059.2,556.4 1056.1,559.3 1053.1,565.8 1050.5,561.5 1048.0,555.6 1041.8,552.7 1037.7,551.2 1027.5,548.3 1024.2,544.3Z" fill="#d0d8dc"/>
<path d="M1053.9,613.7 1057.2,614.8 1061.0,612.9 1081.6,612.9 1081.5,648.6 1080.7,652.5 1077.6,653.8 1075.0,653.8 1072.0,659.3 1069.4,662.3 1066.4,661.0 1064.3,663.6 1061.2,663.6 1058.2,665.9 1053.4,663.3 1048.5,665.5 1049.5,661.0 1052.6,656.4 1054.1,652.5 1053.1,648.6 1053.8,645.3 1053.9,613.7Z" fill="#dddddb"/>
<path d="M1081.6,612.9 1081.7,613.7 1095.5,613.3 1099.6,615.0 1103.1,617.1 1107.2,617.5 1113.4,616.4 1117.5,613.0 1121.5,610.9 1125.4,609.8 1125.4,628.1 1124.6,632.0 1123.4,635.8 1122.1,640.6 1118.5,644.6 1114.8,646.3 1112.9,649.2 1112.3,651.2 1109.0,652.0 1108.3,655.1 1105.7,657.5 1104.2,657.6 1102.1,655.1 1100.1,653.4 1096.0,654.9 1092.4,654.5 1087.8,652.5 1084.7,648.6 1081.5,648.6 1081.6,612.9Z" fill="#c8d8e0"/>
<path d="M1081.5,648.6 1084.7,648.6 1087.8,652.5 1092.4,654.5 1096.0,654.9 1100.1,653.4 1102.1,655.1 1104.2,657.6 1104.2,660.7 1106.0,664.3 1107.2,667.2 1110.6,668.9 1106.7,672.4 1103.1,674.6 1099.1,677.8 1093.1,680.9 1079.6,680.7 1064.3,680.4 1048.3,679.9 1048.3,682.2 1033.6,682.2 1035.7,678.4 1037.0,675.8 1040.8,673.9 1044.4,674.6 1047.4,670.1 1048.5,665.5 1053.4,663.3 1058.2,665.9 1061.2,663.6 1064.3,663.6 1066.4,661.0 1069.4,662.3 1072.0,659.3 1075.0,653.8 1077.6,653.8 1080.7,652.5 1081.5,648.6Z" fill="#f6d4a0"/>
<path d="M1033.6,682.2 1048.3,682.2 1048.3,679.9 1064.3,680.4 1079.6,680.7 1093.1,680.9 1113.6,681.1 1111.3,684.8 1109.8,687.3 1104.2,689.2 1099.1,691.7 1095.0,694.1 1089.9,695.5 1086.8,698.0 1086.6,701.2 1073.5,701.4 1046.9,701.1 1025.4,701.1 1028.0,699.2 1029.6,693.6 1031.6,688.6 1033.6,682.2Z" fill="#e9dccb"/>
<path d="M1025.4,701.1 1046.9,701.1 1044.2,739.1 1044.9,757.1 1039.8,757.0 1035.2,758.2 1032.6,759.6 1032.6,755.2 1031.3,749.9 1011.8,749.9 1012.7,746.9 1014.2,743.2 1015.3,740.3 1017.8,736.7 1018.8,733.7 1016.3,730.6 1016.7,725.5 1017.3,717.2 1019.3,711.0 1022.9,706.1 1025.4,701.1Z" fill="#f6c88a"/>
<path d="M1046.9,701.1 1073.5,701.4 1077.8,727.5 1080.1,733.0 1079.1,737.9 1078.6,742.7 1079.6,749.9 1053.1,749.9 1054.6,753.4 1053.9,758.4 1049.0,759.0 1049.5,754.6 1048.5,754.0 1048.0,757.6 1044.9,757.1 1044.2,739.1 1046.9,701.1Z" fill="#f6c88a"/>
<path d="M1073.5,701.4 1086.6,701.2 1099.0,701.1 1096.5,704.8 1101.1,707.9 1104.2,713.5 1108.3,717.8 1110.8,720.3 1114.4,724.5 1115.9,728.8 1119.0,734.3 1121.8,737.5 1119.0,742.7 1117.5,747.5 1115.9,753.3 1110.8,752.2 1109.8,755.8 1108.3,755.0 1081.1,753.3 1079.6,749.9 1078.6,742.7 1079.1,737.9 1080.1,733.0 1077.8,727.5 1073.5,701.4Z" fill="#f0d7b9"/>
<path d="M1053.9,758.4 1054.6,753.4 1053.1,749.9 1079.6,749.9 1081.1,753.3 1108.3,755.0 1109.8,755.8 1110.8,752.2 1115.9,753.3 1116.4,757.0 1116.9,761.7 1118.5,766.4 1120.5,771.1 1122.6,775.8 1125.1,779.9 1124.6,783.9 1126.7,789.7 1128.7,794.3 1129.7,797.8 1130.2,802.3 1129.2,810.3 1127.7,812.6 1126.7,816.5 1123.6,817.7 1120.0,817.7 1118.5,814.8 1115.4,809.7 1112.3,806.9 1109.3,802.3 1107.2,798.3 1105.2,794.3 1103.7,789.7 1102.1,785.1 1103.1,780.5 1102.6,775.2 1099.1,771.1 1096.0,766.4 1093.4,762.9 1089.9,760.5 1086.8,761.1 1083.7,763.5 1079.6,765.0 1076.1,765.5 1075.6,762.3 1071.5,759.4 1067.4,757.6 1064.3,757.0 1057.2,757.8 1053.9,758.4Z" fill="#f4ba70"/>
<path d="M1099.0,701.1 1102.1,700.1 1106.7,698.7 1120.0,699.2 1121.2,699.9 1122.8,703.3 1134.0,703.6 1145.6,715.2 1141.0,719.7 1138.9,723.3 1134.8,727.0 1131.8,728.8 1126.7,731.8 1123.6,734.9 1121.8,737.5 1119.0,734.3 1115.9,728.8 1114.4,724.5 1110.8,720.3 1108.3,717.8 1104.2,713.5 1101.1,707.9 1096.5,704.8 1099.0,701.1Z" fill="#f7d4a5"/>
<path d="M1113.6,681.1 1111.3,684.8 1109.8,687.3 1104.2,689.2 1099.1,691.7 1095.0,694.1 1089.9,695.5 1086.8,698.0 1086.6,701.2 1099.0,701.1 1102.1,700.1 1106.7,698.7 1120.0,699.2 1121.2,699.9 1122.8,703.3 1134.0,703.6 1145.6,715.2 1151.7,715.4 1152.7,711.0 1157.3,706.7 1161.9,704.8 1166.2,706.1 1168.6,701.7 1173.7,698.6 1176.7,698.0 1176.2,693.6 1174.2,687.3 1172.9,681.6 1113.6,681.1Z" fill="#e2ddd5"/>
<path d="M1093.1,680.9 1099.1,677.8 1103.1,674.6 1106.7,672.4 1110.6,668.9 1112.9,672.0 1116.4,673.3 1120.5,672.2 1124.6,670.1 1127.7,669.4 1128.7,667.9 1130.7,665.5 1132.3,661.7 1134.8,657.1 1137.9,657.1 1139.9,653.8 1142.5,652.5 1145.0,649.9 1147.1,647.3 1147.6,644.4 1150.7,647.3 1152.9,648.2 1153.9,645.7 1156.3,647.3 1158.8,649.2 1160.9,651.9 1160.9,655.1 1159.4,656.4 1161.4,657.8 1165.5,660.4 1168.6,663.0 1167.5,666.8 1168.6,671.3 1167.5,674.6 1168.6,676.5 1171.6,676.9 1172.9,681.6 1113.6,681.1 1093.1,680.9ZM1172.6,663.6 1175.2,663.5 1179.4,662.6 1175.7,668.1 1172.6,673.9 1171.6,673.3 1172.6,663.6Z" fill="#c8d8e0"/>
<path d="M1104.2,657.6 1105.7,657.5 1108.3,655.1 1109.0,652.0 1112.3,651.2 1112.9,649.2 1114.8,646.3 1118.5,644.6 1122.1,640.6 1123.4,635.8 1124.6,632.0 1125.4,628.1 1125.4,640.4 1136.1,640.4 1136.1,647.3 1141.0,644.0 1143.3,641.3 1146.1,643.0 1149.3,640.6 1151.7,642.0 1153.2,643.3 1153.9,645.7 1152.9,648.2 1150.7,647.3 1147.6,644.4 1147.1,647.3 1145.0,649.9 1142.5,652.5 1139.9,653.8 1137.9,657.1 1134.8,657.1 1132.3,661.7 1130.7,665.5 1128.7,667.9 1127.7,669.4 1124.6,670.1 1120.5,672.2 1116.4,673.3 1112.9,672.0 1110.6,668.9 1107.2,667.2 1106.0,664.3 1104.2,660.7 1104.2,657.6Z" fill="#ecdbc4"/>
<path d="M1136.1,640.4 1173.8,640.4 1174.7,657.0 1181.3,657.0 1179.4,662.6 1175.2,663.5 1172.6,663.6 1169.6,659.1 1168.6,653.8 1170.6,649.9 1172.1,644.6 1170.6,642.6 1167.5,646.6 1166.5,649.9 1166.5,653.8 1168.0,659.1 1168.6,663.0 1165.5,660.4 1161.4,657.8 1159.4,656.4 1160.9,655.1 1160.9,651.9 1158.8,649.2 1156.3,647.3 1153.9,645.7 1153.2,643.3 1151.7,642.0 1149.3,640.6 1146.1,643.0 1143.3,641.3 1141.0,644.0 1136.1,647.3 1136.1,640.4Z" fill="#a8cee7"/>
<path d="M1173.8,640.4 1175.7,638.8 1177.5,639.3 1176.2,642.0 1176.7,644.0 1177.8,647.3 1178.8,650.6 1181.0,652.8 1181.3,657.0 1174.7,657.0 1173.8,640.4Z" fill="#c8d8e1"/>
<path d="M1125.4,609.8 1133.2,605.8 1133.2,609.6 1178.2,609.6 1180.8,612.3 1182.3,616.4 1184.9,618.3 1180.8,623.2 1180.3,626.6 1181.3,630.6 1184.4,634.0 1182.3,636.0 1180.3,637.3 1177.5,639.3 1175.7,638.8 1173.8,640.4 1136.1,640.4 1125.4,640.4 1125.4,628.1 1125.4,609.8Z" fill="#afd2e8"/>
<path d="M1177.5,639.3 1180.3,637.3 1182.3,636.0 1184.4,634.0 1181.3,630.6 1180.3,626.6 1180.8,623.2 1184.9,618.3 1193.1,623.2 1191.9,627.3 1189.5,629.3 1192.1,630.6 1191.5,635.3 1191.0,640.0 1188.0,645.3 1184.4,649.9 1182.3,650.8 1180.8,647.3 1178.8,645.9 1176.7,644.0 1176.2,642.0 1177.5,639.3Z" fill="#a5cce5"/>
<path d="M1133.2,605.8 1139.9,599.9 1142.0,597.4 1140.4,594.3 1140.3,591.9 1146.1,590.5 1151.2,590.5 1155.3,591.9 1161.4,591.8 1165.5,589.4 1169.6,588.0 1169.6,583.0 1168.0,580.2 1171.6,577.3 1173.7,575.2 1178.8,569.4 1184.4,567.3 1198.7,567.1 1198.7,574.5 1198.2,581.6 1198.2,587.3 1199.7,587.8 1199.6,599.2 1197.2,608.9 1196.7,619.1 1197.4,620.5 1195.5,623.2 1195.1,625.0 1194.3,625.9 1197.2,624.6 1202.3,623.9 1205.9,623.5 1209.4,622.5 1213.9,622.3 1207.4,625.2 1202.3,627.3 1197.2,628.6 1192.6,629.0 1191.9,627.3 1193.1,623.2 1184.9,618.3 1182.3,616.4 1180.8,612.3 1178.2,609.6 1133.2,609.6 1133.2,605.8Z" fill="#afd2e8"/>
<path d="M1197.2,608.9 1214.5,609.3 1214.0,618.9 1209.4,619.5 1203.3,619.8 1200.2,621.2 1195.5,623.2 1197.4,620.5 1196.7,619.1 1197.2,608.9Z" fill="#acd0e6"/>
<path d="M1214.5,609.3 1218.8,609.3 1218.8,610.9 1221.4,614.4 1221.5,616.4 1219.7,617.1 1217.6,618.2 1214.0,618.9 1214.5,609.3Z" fill="#acd0e6"/>
<path d="M1199.6,599.2 1207.8,599.5 1219.7,599.9 1222.2,598.2 1224.6,597.5 1226.8,600.6 1223.7,603.4 1222.7,605.4 1226.3,608.9 1226.8,610.9 1227.8,612.9 1231.9,613.0 1232.9,611.6 1232.4,609.6 1230.9,608.6 1232.4,608.7 1233.4,610.9 1233.7,614.1 1229.9,614.8 1226.3,616.0 1223.7,615.0 1221.5,616.4 1221.4,614.4 1218.8,610.9 1218.8,609.3 1214.5,609.3 1197.2,608.9 1199.6,599.2ZM1224.5,618.5 1228.3,618.5 1227.8,617.1 1224.8,617.0 1224.5,618.5ZM1230.4,619.8 1233.4,619.8 1232.9,618.9 1230.9,619.1 1230.4,619.8Z" fill="#a5cce5"/>
<path d="M1198.7,567.1 1217.6,567.1 1216.6,570.9 1213.5,575.9 1212.0,580.2 1209.4,585.9 1208.4,592.9 1207.8,599.5 1199.6,599.2 1199.7,587.8 1198.2,587.3 1198.2,581.6 1198.7,574.5 1198.7,567.1Z" fill="#f0d4af"/>
<path d="M1217.6,567.1 1221.9,562.9 1222.4,574.5 1222.9,581.6 1223.0,590.8 1225.8,594.7 1224.6,597.5 1222.2,598.2 1219.7,599.9 1207.8,599.5 1208.4,592.9 1209.4,585.9 1212.0,580.2 1213.5,575.9 1216.6,570.9 1217.6,567.1Z" fill="#aacfe6"/>
<path d="M1225.8,594.7 1228.9,590.8 1230.9,587.3 1235.0,584.4 1240.1,582.3 1243.2,580.2 1245.2,575.2 1248.3,577.3 1251.3,577.3 1255.4,575.2 1259.5,573.0 1263.6,570.2 1264.1,569.9 1262.1,565.1 1259.0,558.6 1255.4,557.1 1255.6,537.0 1251.3,532.6 1247.2,534.1 1242.6,531.1 1240.8,530.9 1232.9,542.3 1229.9,552.0 1229.9,554.2 1224.8,561.5 1221.9,562.9 1222.4,574.5 1222.9,581.6 1223.0,590.8 1225.8,594.7Z" fill="#e1dcd2"/>
<path d="M689.2,513.2 691.3,511.6 692.8,513.5 692.5,515.8 690.8,516.3 689.2,515.1 689.2,513.2Z" fill="#d9dcd8" stroke="rgba(95,100,108,0.34)" stroke-width="0.6"/>
<path d="M722.8,712.6 726.8,712.9 726.5,713.8 723.2,713.8 722.8,712.6Z" fill="#e0ddd6" stroke="rgba(95,100,108,0.34)" stroke-width="0.6"/>
<path d="M719.9,713.3 722.1,713.3 722.1,714.5 719.9,714.2 719.9,713.3Z" fill="#e0ddd6" stroke="rgba(95,100,108,0.34)" stroke-width="0.6"/>
<path d="M717.3,712.8 718.7,712.8 718.7,713.5 717.3,713.3 717.3,712.8Z" fill="#e0ddd6" stroke="rgba(95,100,108,0.34)" stroke-width="0.6"/>
<path d="M736.2,719.9 739.3,721.1 739.1,721.9 736.2,720.6 736.2,719.9Z" fill="#e0ddd6" stroke="rgba(95,100,108,0.34)" stroke-width="0.6"/>
<path d="M736.2,725.4 737.8,727.2 738.3,727.6 736.8,725.8 736.2,725.4Z" fill="#e0ddd6" stroke="rgba(95,100,108,0.34)" stroke-width="0.6"/>
<path d="M726.5,722.3 727.9,722.6 727.9,723.1 726.5,722.8 726.5,722.3Z" fill="#e0ddd6" stroke="rgba(95,100,108,0.34)" stroke-width="0.6"/>
<path d="M1126.1,817.1 1124.6,818.8 1121.5,821.1 1117.5,823.0 1112.3,824.4 1112.3,825.0 1117.5,823.6 1121.5,821.6 1125.1,819.4 1126.7,817.3 1126.1,817.1Z" fill="#f4ba70" stroke="rgba(95,100,108,0.34)" stroke-width="0.6"/>
<path d="M1171.6,700.1 1175.4,698.2 1176.1,697.4 1175.7,691.7 1174.5,686.0 1173.4,681.6 1173.9,681.6 1175.1,686.0 1176.4,691.7 1176.8,698.0 1175.7,698.9 1171.6,700.7 1171.6,700.1Z" fill="#e2ddd5" stroke="rgba(95,100,108,0.34)" stroke-width="0.6"/>
<path d="M693.7,507.3 752.2,507.3 752.2,546.5 753.1,549.8 753.4,552.7 732.4,552.7 729.6,553.7 726.0,553.9 721.9,556.4 716.8,557.1 711.7,557.8 709.7,558.6 706.6,557.1 702.5,557.8 698.9,559.3 693.8,557.8 693.3,554.2 691.3,551.2 688.2,550.5 685.7,549.0 682.1,549.8 680.5,548.9 680.2,543.8 680.0,539.3 679.5,537.1 677.5,530.3 674.9,524.3 673.6,520.1 673.7,516.9 678.0,518.6 682.1,520.3 687.2,520.9 690.3,521.2 693.8,520.9 695.4,516.6 696.4,511.2 693.7,507.3ZM680.5,548.9 682.1,549.8 685.7,549.0 688.2,550.5 691.3,551.2 693.3,554.2 693.8,557.8 698.9,559.3 702.5,557.8 706.6,557.1 709.7,558.6 711.7,557.8 716.8,557.1 721.9,556.4 726.0,553.9 729.6,553.7 732.4,552.7 753.4,552.7 755.2,554.9 757.9,558.3 756.7,562.9 754.1,567.3 752.1,570.9 750.4,575.9 752.1,581.6 752.3,584.4 752.3,609.6 721.9,609.6 678.9,609.6 676.8,603.4 675.3,597.9 677.0,592.9 679.0,587.3 679.5,581.6 680.0,574.5 681.1,567.3 681.6,560.0 681.6,552.7 680.5,548.9ZM678.9,609.6 721.9,609.6 721.9,649.9 776.8,701.1 779.2,706.1 781.9,709.8 778.1,712.3 775.9,717.2 778.1,720.9 778.1,726.1 775.9,729.2 751.4,731.5 750.0,727.6 748.5,723.3 743.4,718.4 741.4,716.7 738.3,716.6 737.3,713.5 734.2,713.3 730.1,711.7 727.0,708.8 721.9,707.9 717.1,707.9 715.6,706.1 715.3,699.2 711.7,694.8 706.6,688.6 702.0,681.6 703.5,678.4 701.5,676.5 697.4,673.3 696.4,669.4 696.4,665.5 691.3,663.0 691.3,659.1 687.2,655.1 683.6,649.9 683.1,642.0 680.5,636.6 677.0,630.8 679.5,624.6 680.0,617.8 679.0,613.0 678.9,609.6ZM721.9,609.6 752.3,609.6 782.8,609.6 782.7,675.8 782.7,686.1 779.2,687.3 775.7,688.3 776.3,690.4 777.4,694.8 776.8,701.1 721.9,649.9 721.9,609.6ZM753.4,552.7 753.1,549.8 752.2,546.5 752.2,507.3 762.3,507.3 762.3,523.0 765.7,527.3 765.9,531.1 770.0,534.1 773.0,538.6 777.3,543.4 778.7,543.1 779.7,552.7 778.1,559.1 783.8,557.2 785.3,558.6 788.9,566.6 790.9,570.2 795.5,575.9 800.6,573.8 808.8,573.8 809.8,571.2 813.4,574.8 813.4,609.6 782.8,609.6 752.3,609.6 752.3,584.4 752.1,581.6 750.4,575.9 752.1,570.9 754.1,567.3 756.7,562.9 757.9,558.3 755.2,554.9 753.4,552.7ZM762.3,507.3 884.9,507.3 884.9,553.6 884.9,567.3 813.4,567.3 813.4,574.8 809.8,571.2 808.8,573.8 800.6,573.8 795.5,575.9 790.9,570.2 788.9,566.6 785.3,558.6 783.8,557.2 778.1,559.1 779.7,552.7 778.7,543.1 777.3,543.4 773.0,538.6 770.0,534.1 765.9,531.1 765.7,527.3 762.3,523.0 762.3,507.3ZM813.4,574.8 813.4,567.3 884.9,567.3 884.9,595.7 884.9,623.2 833.8,623.2 813.4,623.2 813.4,609.6 813.4,574.8ZM782.8,609.6 813.4,609.6 813.4,623.2 833.8,623.2 833.8,675.8 782.7,675.8 782.8,609.6ZM782.7,675.8 833.8,675.8 833.8,745.9 813.2,745.9 775.0,732.0 775.9,729.2 778.1,726.1 778.1,720.9 775.9,717.2 778.1,712.3 781.9,709.8 779.2,706.1 776.8,701.1 777.4,694.8 776.3,690.4 775.7,688.3 779.2,687.3 782.7,686.1 782.7,675.8ZM833.8,623.2 884.9,623.2 905.4,623.2 905.4,636.6 905.4,675.8 895.7,675.8 833.8,675.8 833.8,623.2ZM833.8,675.8 895.7,675.8 895.7,682.2 895.1,737.9 858.7,737.9 859.6,740.5 842.4,740.5 842.4,745.9 833.8,745.9 833.8,675.8ZM884.9,507.3 954.6,507.3 955.5,513.5 957.0,519.7 958.5,528.8 958.7,539.3 961.1,547.5 961.5,553.6 884.9,553.6 884.9,507.3ZM884.9,553.6 961.5,553.6 958.6,558.6 961.1,560.8 962.6,562.9 962.6,588.7 961.1,599.2 962.6,602.8 960.6,602.0 957.0,598.9 951.9,597.8 945.8,598.1 941.7,595.7 884.9,595.7 884.9,567.3 884.9,553.6ZM884.9,595.7 941.7,595.7 945.8,598.1 951.9,597.8 957.0,598.9 960.6,602.0 962.6,602.8 963.6,606.8 966.2,612.3 968.0,617.8 968.8,623.2 969.6,628.9 974.3,636.6 905.4,636.6 905.4,623.2 884.9,623.2 884.9,595.7ZM905.4,636.6 974.3,636.6 977.4,639.3 978.5,642.6 977.9,644.6 981.5,647.9 981.4,675.8 905.4,675.8 905.4,636.6ZM895.7,675.8 905.4,675.8 981.4,675.8 981.3,682.2 983.3,696.2 982.8,717.9 978.5,716.0 975.4,714.1 972.3,715.0 969.3,715.4 965.2,716.6 961.1,715.4 958.0,715.4 955.0,716.6 951.9,715.0 947.3,714.7 945.8,712.3 940.6,711.7 937.1,711.0 934.5,709.8 930.4,708.8 926.3,706.6 926.3,682.2 895.7,682.2 895.7,675.8ZM895.7,682.2 926.3,682.2 926.3,706.6 930.4,708.8 934.5,709.8 937.1,711.0 940.6,711.7 945.8,712.3 947.3,714.7 951.9,715.0 955.0,716.6 958.0,715.4 961.1,715.4 965.2,716.6 969.3,715.4 972.3,715.0 975.4,714.1 978.5,716.0 982.8,717.9 987.2,719.0 987.2,725.5 987.2,738.0 989.5,740.9 991.7,743.3 992.3,747.5 991.7,751.1 990.7,755.8 990.5,760.5 989.3,765.3 984.1,767.0 980.0,769.4 977.4,771.1 974.4,774.1 969.3,777.6 964.2,780.5 959.0,783.4 957.0,786.3 954.4,789.7 953.4,794.3 952.9,798.9 953.9,803.5 955.5,808.5 952.4,809.2 949.8,807.5 944.7,807.2 940.6,805.2 935.5,802.9 934.0,798.9 932.0,796.0 931.4,790.9 927.9,787.4 923.3,782.2 921.2,777.6 918.7,772.3 916.1,769.4 912.0,764.4 905.9,763.9 902.3,763.5 898.7,765.9 896.7,770.5 894.1,773.8 891.1,772.9 887.5,770.0 883.4,767.6 880.3,765.9 878.3,761.7 875.7,755.2 871.2,751.7 865.0,745.2 862.0,742.5 859.6,740.5 858.7,737.9 895.1,737.9 895.7,682.2ZM954.6,507.3 975.9,507.3 975.9,501.4 977.9,501.5 979.5,504.2 980.5,510.4 981.5,511.6 985.6,512.7 989.7,514.7 993.8,513.5 998.4,513.2 1002.0,515.8 1005.0,517.4 1008.1,518.1 1013.2,522.0 1018.3,519.7 1020.4,521.2 1028.5,521.2 1033.6,522.7 1025.5,526.5 1018.3,532.6 1012.2,537.9 1007.1,542.0 1005.1,542.9 1005.0,552.0 1000.9,558.6 999.4,560.8 1000.4,565.8 999.9,570.9 1005.0,575.2 1011.2,579.5 1015.3,583.0 1016.1,588.7 962.6,588.7 962.6,562.9 961.1,560.8 958.6,558.6 961.5,553.6 961.1,547.5 958.7,539.3 958.5,528.8 957.0,519.7 955.5,513.5 954.6,507.3ZM962.6,588.7 1016.1,588.7 1016.8,595.7 1022.0,602.7 1025.5,608.2 1027.0,612.3 1025.0,615.7 1018.8,617.8 1017.8,621.2 1018.8,623.9 1017.3,627.9 1014.0,631.6 1010.9,628.5 969.6,628.9 968.8,623.2 968.0,617.8 966.2,612.3 963.6,606.8 962.6,602.8 961.1,599.2 962.6,588.7ZM969.6,628.9 1010.9,628.5 1014.0,631.6 1013.7,636.6 1016.3,640.6 1019.9,645.3 1022.4,649.9 1026.5,651.9 1026.7,654.7 1025.5,659.1 1029.0,663.0 1033.1,668.1 1034.2,672.6 1037.0,675.8 1035.7,678.4 1033.6,682.2 1031.6,688.6 1024.8,688.6 1027.7,684.8 1027.0,682.2 981.3,682.2 981.4,675.8 981.5,647.9 977.9,644.6 978.5,642.6 977.4,639.3 974.3,636.6 969.6,628.9ZM981.3,682.2 1027.0,682.2 1027.7,684.8 1024.8,688.6 1031.6,688.6 1029.6,693.6 1028.0,699.2 1025.4,701.1 1022.9,706.1 1019.3,711.0 1017.3,717.2 1016.7,725.5 987.2,725.5 987.2,719.0 982.8,717.9 983.3,696.2 981.3,682.2ZM987.2,725.5 1016.7,725.5 1016.3,730.6 1018.8,733.7 1017.8,736.7 1015.3,740.3 1014.2,743.2 1012.7,746.9 1011.8,749.9 1031.3,749.9 1032.6,755.2 1032.6,759.6 1031.1,761.5 1034.7,762.9 1035.7,765.3 1036.7,769.4 1038.8,771.7 1037.2,773.7 1034.7,774.3 1031.6,770.0 1028.0,772.3 1026.5,772.5 1023.9,772.9 1020.4,772.9 1015.8,770.5 1014.2,767.6 1010.1,767.6 1005.0,767.0 1000.9,766.4 995.8,764.4 989.3,765.3 990.5,760.5 990.7,755.8 991.7,751.1 992.3,747.5 991.7,743.3 989.5,740.9 987.2,738.0 987.2,725.5ZM1016.1,588.7 1015.3,583.0 1011.2,579.5 1005.0,575.2 999.9,570.9 1000.4,565.8 999.4,560.8 1000.9,558.6 1005.0,552.0 1005.1,542.9 1007.1,542.0 1014.2,540.8 1019.3,538.6 1020.9,542.3 1024.2,544.3 1027.5,548.3 1037.7,551.2 1041.8,552.7 1048.0,555.6 1050.5,561.5 1053.1,565.8 1051.5,569.4 1049.0,573.8 1051.5,572.3 1055.1,568.7 1059.2,562.9 1060.2,564.4 1057.2,568.7 1054.1,574.5 1053.6,580.2 1052.0,585.9 1050.0,592.9 1050.0,597.1 1051.0,602.7 1022.0,602.7 1016.8,595.7 1016.1,588.7ZM1022.0,602.7 1051.0,602.7 1052.6,609.6 1053.9,613.7 1053.8,645.3 1053.1,648.6 1054.1,652.5 1052.6,656.4 1049.5,661.0 1048.5,665.5 1047.4,670.1 1044.4,674.6 1040.8,673.9 1037.0,675.8 1034.2,672.6 1033.1,668.1 1029.0,663.0 1025.5,659.1 1026.7,654.7 1026.5,651.9 1022.4,649.9 1019.9,645.3 1016.3,640.6 1013.7,636.6 1014.0,631.6 1017.3,627.9 1018.8,623.9 1017.8,621.2 1018.8,617.8 1025.0,615.7 1027.0,612.3 1025.5,608.2 1022.0,602.7ZM1061.0,612.9 1081.6,612.9 1081.7,613.7 1095.5,613.3 1098.5,608.9 1099.1,605.4 1101.6,604.0 1105.2,601.3 1105.7,595.7 1104.7,587.3 1103.7,581.6 1100.1,580.9 1097.0,582.3 1092.9,587.3 1090.9,585.9 1092.4,581.6 1096.5,577.3 1097.0,570.2 1096.0,566.6 1091.4,562.2 1086.8,557.8 1082.2,555.9 1079.6,557.1 1078.6,562.9 1075.6,565.8 1073.5,565.1 1074.5,569.4 1072.0,568.0 1068.9,568.7 1066.9,573.0 1065.8,578.8 1064.3,586.6 1066.9,594.3 1067.4,601.3 1064.8,607.5 1061.0,612.9ZM1024.2,544.3 1029.6,540.8 1034.7,540.1 1039.3,537.9 1043.9,534.1 1050.0,531.1 1046.9,534.8 1044.9,538.6 1049.0,539.3 1053.1,544.6 1058.2,546.1 1063.3,546.1 1067.4,543.1 1073.5,542.3 1079.6,541.6 1081.7,545.3 1085.8,545.3 1088.8,548.3 1090.9,551.2 1095.5,552.4 1091.9,553.1 1085.8,553.4 1082.5,554.6 1075.6,551.2 1070.4,553.4 1066.4,554.9 1063.3,557.8 1059.2,556.4 1056.1,559.3 1053.1,565.8 1050.5,561.5 1048.0,555.6 1041.8,552.7 1037.7,551.2 1027.5,548.3 1024.2,544.3ZM1053.9,613.7 1057.2,614.8 1061.0,612.9 1081.6,612.9 1081.5,648.6 1080.7,652.5 1077.6,653.8 1075.0,653.8 1072.0,659.3 1069.4,662.3 1066.4,661.0 1064.3,663.6 1061.2,663.6 1058.2,665.9 1053.4,663.3 1048.5,665.5 1049.5,661.0 1052.6,656.4 1054.1,652.5 1053.1,648.6 1053.8,645.3 1053.9,613.7ZM1081.6,612.9 1081.7,613.7 1095.5,613.3 1099.6,615.0 1103.1,617.1 1107.2,617.5 1113.4,616.4 1117.5,613.0 1121.5,610.9 1125.4,609.8 1125.4,628.1 1124.6,632.0 1123.4,635.8 1122.1,640.6 1118.5,644.6 1114.8,646.3 1112.9,649.2 1112.3,651.2 1109.0,652.0 1108.3,655.1 1105.7,657.5 1104.2,657.6 1102.1,655.1 1100.1,653.4 1096.0,654.9 1092.4,654.5 1087.8,652.5 1084.7,648.6 1081.5,648.6 1081.6,612.9ZM1081.5,648.6 1084.7,648.6 1087.8,652.5 1092.4,654.5 1096.0,654.9 1100.1,653.4 1102.1,655.1 1104.2,657.6 1104.2,660.7 1106.0,664.3 1107.2,667.2 1110.6,668.9 1106.7,672.4 1103.1,674.6 1099.1,677.8 1093.1,680.9 1079.6,680.7 1064.3,680.4 1048.3,679.9 1048.3,682.2 1033.6,682.2 1035.7,678.4 1037.0,675.8 1040.8,673.9 1044.4,674.6 1047.4,670.1 1048.5,665.5 1053.4,663.3 1058.2,665.9 1061.2,663.6 1064.3,663.6 1066.4,661.0 1069.4,662.3 1072.0,659.3 1075.0,653.8 1077.6,653.8 1080.7,652.5 1081.5,648.6ZM1033.6,682.2 1048.3,682.2 1048.3,679.9 1064.3,680.4 1079.6,680.7 1093.1,680.9 1113.6,681.1 1111.3,684.8 1109.8,687.3 1104.2,689.2 1099.1,691.7 1095.0,694.1 1089.9,695.5 1086.8,698.0 1086.6,701.2 1073.5,701.4 1046.9,701.1 1025.4,701.1 1028.0,699.2 1029.6,693.6 1031.6,688.6 1033.6,682.2ZM1025.4,701.1 1046.9,701.1 1044.2,739.1 1044.9,757.1 1039.8,757.0 1035.2,758.2 1032.6,759.6 1032.6,755.2 1031.3,749.9 1011.8,749.9 1012.7,746.9 1014.2,743.2 1015.3,740.3 1017.8,736.7 1018.8,733.7 1016.3,730.6 1016.7,725.5 1017.3,717.2 1019.3,711.0 1022.9,706.1 1025.4,701.1ZM1046.9,701.1 1073.5,701.4 1077.8,727.5 1080.1,733.0 1079.1,737.9 1078.6,742.7 1079.6,749.9 1053.1,749.9 1054.6,753.4 1053.9,758.4 1049.0,759.0 1049.5,754.6 1048.5,754.0 1048.0,757.6 1044.9,757.1 1044.2,739.1 1046.9,701.1ZM1073.5,701.4 1086.6,701.2 1099.0,701.1 1096.5,704.8 1101.1,707.9 1104.2,713.5 1108.3,717.8 1110.8,720.3 1114.4,724.5 1115.9,728.8 1119.0,734.3 1121.8,737.5 1119.0,742.7 1117.5,747.5 1115.9,753.3 1110.8,752.2 1109.8,755.8 1108.3,755.0 1081.1,753.3 1079.6,749.9 1078.6,742.7 1079.1,737.9 1080.1,733.0 1077.8,727.5 1073.5,701.4ZM1053.9,758.4 1054.6,753.4 1053.1,749.9 1079.6,749.9 1081.1,753.3 1108.3,755.0 1109.8,755.8 1110.8,752.2 1115.9,753.3 1116.4,757.0 1116.9,761.7 1118.5,766.4 1120.5,771.1 1122.6,775.8 1125.1,779.9 1124.6,783.9 1126.7,789.7 1128.7,794.3 1129.7,797.8 1130.2,802.3 1129.2,810.3 1127.7,812.6 1126.7,816.5 1123.6,817.7 1120.0,817.7 1118.5,814.8 1115.4,809.7 1112.3,806.9 1109.3,802.3 1107.2,798.3 1105.2,794.3 1103.7,789.7 1102.1,785.1 1103.1,780.5 1102.6,775.2 1099.1,771.1 1096.0,766.4 1093.4,762.9 1089.9,760.5 1086.8,761.1 1083.7,763.5 1079.6,765.0 1076.1,765.5 1075.6,762.3 1071.5,759.4 1067.4,757.6 1064.3,757.0 1057.2,757.8 1053.9,758.4ZM1099.0,701.1 1102.1,700.1 1106.7,698.7 1120.0,699.2 1121.2,699.9 1122.8,703.3 1134.0,703.6 1145.6,715.2 1141.0,719.7 1138.9,723.3 1134.8,727.0 1131.8,728.8 1126.7,731.8 1123.6,734.9 1121.8,737.5 1119.0,734.3 1115.9,728.8 1114.4,724.5 1110.8,720.3 1108.3,717.8 1104.2,713.5 1101.1,707.9 1096.5,704.8 1099.0,701.1ZM1113.6,681.1 1111.3,684.8 1109.8,687.3 1104.2,689.2 1099.1,691.7 1095.0,694.1 1089.9,695.5 1086.8,698.0 1086.6,701.2 1099.0,701.1 1102.1,700.1 1106.7,698.7 1120.0,699.2 1121.2,699.9 1122.8,703.3 1134.0,703.6 1145.6,715.2 1151.7,715.4 1152.7,711.0 1157.3,706.7 1161.9,704.8 1166.2,706.1 1168.6,701.7 1173.7,698.6 1176.7,698.0 1176.2,693.6 1174.2,687.3 1172.9,681.6 1113.6,681.1ZM1093.1,680.9 1099.1,677.8 1103.1,674.6 1106.7,672.4 1110.6,668.9 1112.9,672.0 1116.4,673.3 1120.5,672.2 1124.6,670.1 1127.7,669.4 1128.7,667.9 1130.7,665.5 1132.3,661.7 1134.8,657.1 1137.9,657.1 1139.9,653.8 1142.5,652.5 1145.0,649.9 1147.1,647.3 1147.6,644.4 1150.7,647.3 1152.9,648.2 1153.9,645.7 1156.3,647.3 1158.8,649.2 1160.9,651.9 1160.9,655.1 1159.4,656.4 1161.4,657.8 1165.5,660.4 1168.6,663.0 1167.5,666.8 1168.6,671.3 1167.5,674.6 1168.6,676.5 1171.6,676.9 1172.9,681.6 1113.6,681.1 1093.1,680.9ZM1172.6,663.6 1175.2,663.5 1179.4,662.6 1175.7,668.1 1172.6,673.9 1171.6,673.3 1172.6,663.6ZM1104.2,657.6 1105.7,657.5 1108.3,655.1 1109.0,652.0 1112.3,651.2 1112.9,649.2 1114.8,646.3 1118.5,644.6 1122.1,640.6 1123.4,635.8 1124.6,632.0 1125.4,628.1 1125.4,640.4 1136.1,640.4 1136.1,647.3 1141.0,644.0 1143.3,641.3 1146.1,643.0 1149.3,640.6 1151.7,642.0 1153.2,643.3 1153.9,645.7 1152.9,648.2 1150.7,647.3 1147.6,644.4 1147.1,647.3 1145.0,649.9 1142.5,652.5 1139.9,653.8 1137.9,657.1 1134.8,657.1 1132.3,661.7 1130.7,665.5 1128.7,667.9 1127.7,669.4 1124.6,670.1 1120.5,672.2 1116.4,673.3 1112.9,672.0 1110.6,668.9 1107.2,667.2 1106.0,664.3 1104.2,660.7 1104.2,657.6ZM1136.1,640.4 1173.8,640.4 1174.7,657.0 1181.3,657.0 1179.4,662.6 1175.2,663.5 1172.6,663.6 1169.6,659.1 1168.6,653.8 1170.6,649.9 1172.1,644.6 1170.6,642.6 1167.5,646.6 1166.5,649.9 1166.5,653.8 1168.0,659.1 1168.6,663.0 1165.5,660.4 1161.4,657.8 1159.4,656.4 1160.9,655.1 1160.9,651.9 1158.8,649.2 1156.3,647.3 1153.9,645.7 1153.2,643.3 1151.7,642.0 1149.3,640.6 1146.1,643.0 1143.3,641.3 1141.0,644.0 1136.1,647.3 1136.1,640.4ZM1173.8,640.4 1175.7,638.8 1177.5,639.3 1176.2,642.0 1176.7,644.0 1177.8,647.3 1178.8,650.6 1181.0,652.8 1181.3,657.0 1174.7,657.0 1173.8,640.4ZM1125.4,609.8 1133.2,605.8 1133.2,609.6 1178.2,609.6 1180.8,612.3 1182.3,616.4 1184.9,618.3 1180.8,623.2 1180.3,626.6 1181.3,630.6 1184.4,634.0 1182.3,636.0 1180.3,637.3 1177.5,639.3 1175.7,638.8 1173.8,640.4 1136.1,640.4 1125.4,640.4 1125.4,628.1 1125.4,609.8ZM1177.5,639.3 1180.3,637.3 1182.3,636.0 1184.4,634.0 1181.3,630.6 1180.3,626.6 1180.8,623.2 1184.9,618.3 1193.1,623.2 1191.9,627.3 1189.5,629.3 1192.1,630.6 1191.5,635.3 1191.0,640.0 1188.0,645.3 1184.4,649.9 1182.3,650.8 1180.8,647.3 1178.8,645.9 1176.7,644.0 1176.2,642.0 1177.5,639.3ZM1133.2,605.8 1139.9,599.9 1142.0,597.4 1140.4,594.3 1140.3,591.9 1146.1,590.5 1151.2,590.5 1155.3,591.9 1161.4,591.8 1165.5,589.4 1169.6,588.0 1169.6,583.0 1168.0,580.2 1171.6,577.3 1173.7,575.2 1178.8,569.4 1184.4,567.3 1198.7,567.1 1198.7,574.5 1198.2,581.6 1198.2,587.3 1199.7,587.8 1199.6,599.2 1197.2,608.9 1196.7,619.1 1197.4,620.5 1195.5,623.2 1195.1,625.0 1194.3,625.9 1197.2,624.6 1202.3,623.9 1205.9,623.5 1209.4,622.5 1213.9,622.3 1207.4,625.2 1202.3,627.3 1197.2,628.6 1192.6,629.0 1191.9,627.3 1193.1,623.2 1184.9,618.3 1182.3,616.4 1180.8,612.3 1178.2,609.6 1133.2,609.6 1133.2,605.8ZM1197.2,608.9 1214.5,609.3 1214.0,618.9 1209.4,619.5 1203.3,619.8 1200.2,621.2 1195.5,623.2 1197.4,620.5 1196.7,619.1 1197.2,608.9ZM1214.5,609.3 1218.8,609.3 1218.8,610.9 1221.4,614.4 1221.5,616.4 1219.7,617.1 1217.6,618.2 1214.0,618.9 1214.5,609.3ZM1199.6,599.2 1207.8,599.5 1219.7,599.9 1222.2,598.2 1224.6,597.5 1226.8,600.6 1223.7,603.4 1222.7,605.4 1226.3,608.9 1226.8,610.9 1227.8,612.9 1231.9,613.0 1232.9,611.6 1232.4,609.6 1230.9,608.6 1232.4,608.7 1233.4,610.9 1233.7,614.1 1229.9,614.8 1226.3,616.0 1223.7,615.0 1221.5,616.4 1221.4,614.4 1218.8,610.9 1218.8,609.3 1214.5,609.3 1197.2,608.9 1199.6,599.2ZM1224.5,618.5 1228.3,618.5 1227.8,617.1 1224.8,617.0 1224.5,618.5ZM1230.4,619.8 1233.4,619.8 1232.9,618.9 1230.9,619.1 1230.4,619.8ZM1198.7,567.1 1217.6,567.1 1216.6,570.9 1213.5,575.9 1212.0,580.2 1209.4,585.9 1208.4,592.9 1207.8,599.5 1199.6,599.2 1199.7,587.8 1198.2,587.3 1198.2,581.6 1198.7,574.5 1198.7,567.1ZM1217.6,567.1 1221.9,562.9 1222.4,574.5 1222.9,581.6 1223.0,590.8 1225.8,594.7 1224.6,597.5 1222.2,598.2 1219.7,599.9 1207.8,599.5 1208.4,592.9 1209.4,585.9 1212.0,580.2 1213.5,575.9 1216.6,570.9 1217.6,567.1ZM1225.8,594.7 1228.9,590.8 1230.9,587.3 1235.0,584.4 1240.1,582.3 1243.2,580.2 1245.2,575.2 1248.3,577.3 1251.3,577.3 1255.4,575.2 1259.5,573.0 1263.6,570.2 1264.1,569.9 1262.1,565.1 1259.0,558.6 1255.4,557.1 1255.6,537.0 1251.3,532.6 1247.2,534.1 1242.6,531.1 1240.8,530.9 1232.9,542.3 1229.9,552.0 1229.9,554.2 1224.8,561.5 1221.9,562.9 1222.4,574.5 1222.9,581.6 1223.0,590.8 1225.8,594.7Z" fill="none" stroke="rgba(95,100,108,0.34)" stroke-width="1" stroke-linejoin="round"/>
<path d="M694.1,520.4 695.4,524.3 696.9,528.1 697.1,531.8 695.4,534.5 692.3,536.4" fill="none" stroke="rgba(105,110,115,0.45)" stroke-width="2.2" stroke-linecap="round" stroke-linejoin="round"/>
<path d="M694.1,520.4 695.4,524.3 696.9,528.1 697.1,531.8 695.4,534.5 692.3,536.4" fill="none" stroke="#fff" stroke-width="1.3" stroke-linecap="round" stroke-linejoin="round"/>
<path d="M694.5,524.3 692.8,528.1 690.5,531.5 691.8,532.1" fill="none" stroke="rgba(105,110,115,0.45)" stroke-width="1.8" stroke-linecap="round" stroke-linejoin="round"/>
<path d="M694.5,524.3 692.8,528.1 690.5,531.5 691.8,532.1" fill="none" stroke="#fff" stroke-width="0.9" stroke-linecap="round" stroke-linejoin="round"/>
<path d="M695.9,517.4 697.2,521.2 697.9,523.5" fill="none" stroke="rgba(105,110,115,0.45)" stroke-width="1.7" stroke-linecap="round" stroke-linejoin="round"/>
<path d="M695.9,517.4 697.2,521.2 697.9,523.5" fill="none" stroke="#fff" stroke-width="0.8" stroke-linecap="round" stroke-linejoin="round"/>
<path d="M693.8,510.4 695.2,514.3 694.3,517.4" fill="none" stroke="rgba(105,110,115,0.45)" stroke-width="1.7" stroke-linecap="round" stroke-linejoin="round"/>
<path d="M693.8,510.4 695.2,514.3 694.3,517.4" fill="none" stroke="#fff" stroke-width="0.8" stroke-linecap="round" stroke-linejoin="round"/>
<path d="M696.6,661.9 697.4,664.9 698.9,667.9 700.7,669.8" fill="none" stroke="rgba(105,110,115,0.45)" stroke-width="2.5" stroke-linecap="round" stroke-linejoin="round"/>
<path d="M696.6,661.9 697.4,664.9 698.9,667.9 700.7,669.8" fill="none" stroke="#fff" stroke-width="1.6" stroke-linecap="round" stroke-linejoin="round"/>
<path d="M697.9,662.3 700.5,662.0 703.0,661.9" fill="none" stroke="rgba(105,110,115,0.45)" stroke-width="1.9" stroke-linecap="round" stroke-linejoin="round"/>
<path d="M697.9,662.3 700.5,662.0 703.0,661.9" fill="none" stroke="#fff" stroke-width="1.0" stroke-linecap="round" stroke-linejoin="round"/>
<path d="M1023.9,758.2 1025.5,757.2 1028.5,757.4 1030.8,758.8 1029.6,760.8 1026.5,761.4 1024.2,760.3 1023.9,758.2Z" fill="#fff" stroke="rgba(120,125,130,0.5)" stroke-width="0.6"/>
<path d="M1168.6,700.5 1171.6,700.1 1175.4,698.2 1175.9,696.7 1175.5,692.1 1174.7,690.8 1173.5,692.6 1172.1,694.8 1168.6,696.7 1166.5,698.6 1168.6,700.5Z" fill="#fff" stroke="rgba(120,125,130,0.5)" stroke-width="0.6"/>
<path d="M1164.5,687.9 1169.6,688.6 1173.9,688.3" fill="none" stroke="rgba(105,110,115,0.45)" stroke-width="1.9" stroke-linecap="round" stroke-linejoin="round"/>
<path d="M1164.5,687.9 1169.6,688.6 1173.9,688.3" fill="none" stroke="#fff" stroke-width="1.0" stroke-linecap="round" stroke-linejoin="round"/>
<path d="M1161.4,661.4 1164.5,665.5 1168.0,668.1" fill="none" stroke="rgba(105,110,115,0.45)" stroke-width="1.8" stroke-linecap="round" stroke-linejoin="round"/>
<path d="M1161.4,661.4 1164.5,665.5 1168.0,668.1" fill="none" stroke="#fff" stroke-width="0.9" stroke-linecap="round" stroke-linejoin="round"/>
<path d="M1162.9,669.4 1165.5,671.3 1167.5,672.9" fill="none" stroke="rgba(105,110,115,0.45)" stroke-width="1.8" stroke-linecap="round" stroke-linejoin="round"/>
<path d="M1162.9,669.4 1165.5,671.3 1167.5,672.9" fill="none" stroke="#fff" stroke-width="0.9" stroke-linecap="round" stroke-linejoin="round"/>
<path d="M1160.9,672.6 1164.5,674.3 1168.0,676.1" fill="none" stroke="rgba(105,110,115,0.45)" stroke-width="1.9" stroke-linecap="round" stroke-linejoin="round"/>
<path d="M1160.9,672.6 1164.5,674.3 1168.0,676.1" fill="none" stroke="#fff" stroke-width="1.0" stroke-linecap="round" stroke-linejoin="round"/>
<path d="M1161.4,654.5 1162.4,658.4 1165.5,660.4 1168.0,662.3" fill="none" stroke="rgba(105,110,115,0.45)" stroke-width="1.8" stroke-linecap="round" stroke-linejoin="round"/>
<path d="M1161.4,654.5 1162.4,658.4 1165.5,660.4 1168.0,662.3" fill="none" stroke="#fff" stroke-width="0.9" stroke-linecap="round" stroke-linejoin="round"/>
<path d="M1048.8,753.7 1049.0,756.4 1049.2,758.4" fill="none" stroke="rgba(105,110,115,0.45)" stroke-width="2.2" stroke-linecap="round" stroke-linejoin="round"/>
<path d="M1048.8,753.7 1049.0,756.4 1049.2,758.4" fill="none" stroke="#fff" stroke-width="1.3" stroke-linecap="round" stroke-linejoin="round"/>
<path d="M1102.6,789.7 1104.7,787.4 1105.7,785.7" fill="none" stroke="rgba(105,110,115,0.45)" stroke-width="2.1" stroke-linecap="round" stroke-linejoin="round"/>
<path d="M1102.6,789.7 1104.7,787.4 1105.7,785.7" fill="none" stroke="#fff" stroke-width="1.2" stroke-linecap="round" stroke-linejoin="round"/>
<text x="717.0" y="534.7">0</text>
<text x="826.7" y="542.4">0</text>
<text x="926.3" y="534.7">1</text>
<text x="717.0" y="585.8">0</text>
<text x="778.0" y="585.8"><tspan dy="0.6">-</tspan><tspan dy="-0.6">3</tspan></text>
<text x="924.4" y="579.4"><tspan dy="0.6">-</tspan><tspan dy="-0.6">1</tspan></text>
<text x="850.1" y="600.3"><tspan dy="0.6">-</tspan><tspan dy="-0.6">3</tspan></text>
<text x="929.4" y="620.9">0</text>
<text x="755.2" y="650.9"><tspan dy="0.6">-</tspan><tspan dy="-0.6">3</tspan></text>
<text x="806.8" y="650.9"><tspan dy="0.6">-</tspan><tspan dy="-0.6">2</tspan></text>
<text x="870.5" y="654.2"><tspan dy="0.6">-</tspan><tspan dy="-0.6">1</tspan></text>
<text x="941.5" y="660.7">0</text>
<text x="985.8" y="554.1">1</text>
<text x="1028.9" y="579.5">2</text>
<text x="993.0" y="615.1"><tspan dy="0.6">-</tspan><tspan dy="-0.6">1</tspan></text>
<text x="1084.1" y="599.4">1</text>
<text x="1177.3" y="600.6">3</text>
<text x="1204.5" y="584.3"><tspan dy="0.6">-</tspan><tspan dy="-0.6">1</tspan></text>
<text x="1240.8" y="565.0">0</text>
<text x="1211.0" y="609.0">4</text>
<text x="1153.1" y="629.6">3</text>
<text x="1187.0" y="639.3">4</text>
<text x="1036.1" y="641.7">1</text>
<text x="1067.1" y="641.7">0</text>
<text x="1100.3" y="637.6">1</text>
<text x="1160.4" y="649.0">3</text>
<text x="1177.3" y="658.0">1</text>
<text x="1123.7" y="660.1"><tspan dy="0.6">-</tspan><tspan dy="-0.6">1</tspan></text>
<text x="1003.2" y="664.7">0</text>
<text x="1081.0" y="670.8"><tspan dy="0.6">-</tspan><tspan dy="-0.6">1</tspan></text>
<text x="1149.0" y="670.8">1</text>
<text x="724.8" y="677.6">0</text>
<text x="808.4" y="711.9"><tspan dy="0.6">-</tspan><tspan dy="-0.6">7</tspan></text>
<text x="865.4" y="711.9"><tspan dy="0.6">-</tspan><tspan dy="-0.6">2</tspan></text>
<text x="952.6" y="699.0">0</text>
<text x="934.5" y="751.0"><tspan dy="0.6">-</tspan><tspan dy="-0.6">2</tspan></text>
<text x="1067.5" y="697.1"><tspan dy="0.6">-</tspan><tspan dy="-0.6">1</tspan></text>
<text x="1130.8" y="699.0">0</text>
<text x="1003.5" y="708.8"><tspan dy="0.6">-</tspan><tspan dy="-0.6">1</tspan></text>
<text x="1121.4" y="717.7"><tspan dy="0.6">-</tspan><tspan dy="-0.6">2</tspan></text>
<text x="1030.7" y="724.5"><tspan dy="0.6">-</tspan><tspan dy="-0.6">3</tspan></text>
<text x="1062.8" y="733.4"><tspan dy="0.6">-</tspan><tspan dy="-0.6">3</tspan></text>
<text x="1095.6" y="741.1"><tspan dy="0.6">-</tspan><tspan dy="-0.6">1</tspan></text>
<text x="1006.1" y="758.0"><tspan dy="0.6">-</tspan><tspan dy="-0.6">2</tspan></text>
<text x="1115.5" y="783.8"><tspan dy="0.6">-</tspan><tspan dy="-0.6">5</tspan></text>
</g>
</svg></body></html>
